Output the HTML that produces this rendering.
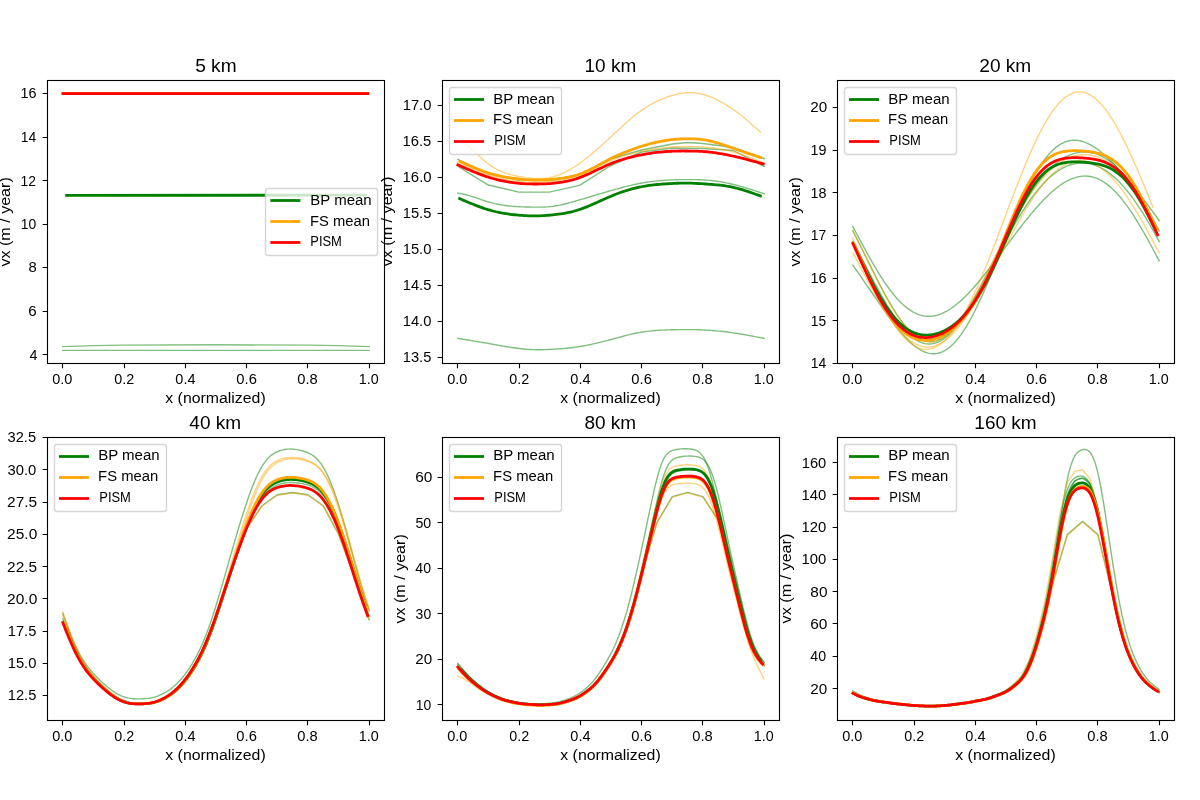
<!DOCTYPE html><html><head><meta charset="utf-8"><style>html,body{margin:0;padding:0;background:#fff;}svg{display:block;will-change:transform;}text{font-family:"Liberation Sans",sans-serif;fill:#000;}</style></head><body>
<svg width="1200" height="800" viewBox="0 0 1200 800">
<rect width="1200" height="800" fill="#fff"/>
<clipPath id="c0"><rect x="47.5" y="80.5" width="337" height="283"/></clipPath>
<g clip-path="url(#c0)" fill="none" stroke-linecap="square" stroke-linejoin="round">
<path d="M62.8 346.6 L93.5 345.6 L124 345.1 L216 344.8 L308 345.1 L338.5 345.6 L369.2 346.6" stroke="#008000" stroke-width="1.39" stroke-opacity="0.5"/>
<path d="M62.8 350.4 L369.2 350.4" stroke="#008000" stroke-width="1.39" stroke-opacity="0.5"/>
<path d="M66.6 195.3 L365.4 195.2" stroke="#008000" stroke-width="2.78"/>
<path d="M62.8 93.3 L368 93.3" stroke="#ffa500" stroke-width="2.78"/>
<path d="M63.1 93.7 L367.7 93.7" stroke="#ff0000" stroke-width="2.78"/>
</g>
<rect x="47.5" y="80.5" width="337" height="283" fill="none" stroke="#000" stroke-width="1.11" stroke-linejoin="miter"/>
<path d="M62.5 363.5 V368.36 M124.5 363.5 V368.36 M185.5 363.5 V368.36 M246.5 363.5 V368.36 M307.5 363.5 V368.36 M369.5 363.5 V368.36 M47.5 93.5 H42.64 M47.5 137.5 H42.64 M47.5 180.5 H42.64 M47.5 224.5 H42.64 M47.5 267.5 H42.64 M47.5 311.5 H42.64 M47.5 354.5 H42.64" stroke="#000" stroke-width="1.11"/>
<text font-size="13.89" x="52.28" y="383.73" textLength="20.19" lengthAdjust="spacingAndGlyphs">0.0</text>
<text font-size="13.89" x="114.38" y="383.72" textLength="19.96" lengthAdjust="spacingAndGlyphs">0.2</text>
<text font-size="13.89" x="175.36" y="383.71" textLength="20.18" lengthAdjust="spacingAndGlyphs">0.4</text>
<text font-size="13.89" x="236.33" y="383.71" textLength="20.51" lengthAdjust="spacingAndGlyphs">0.6</text>
<text font-size="13.89" x="297.3" y="383.7" textLength="20.45" lengthAdjust="spacingAndGlyphs">0.8</text>
<text font-size="13.89" x="358.78" y="383.72" textLength="19.89" lengthAdjust="spacingAndGlyphs">1.0</text>
<text font-size="13.89" x="29.43" y="360.06" textLength="7.98" lengthAdjust="spacingAndGlyphs">4</text>
<text font-size="13.89" x="28.24" y="316.02" textLength="8.39" lengthAdjust="spacingAndGlyphs">6</text>
<text font-size="13.89" x="28.41" y="272.02" textLength="8.26" lengthAdjust="spacingAndGlyphs">8</text>
<text font-size="13.89" x="20.84" y="229" textLength="15.45" lengthAdjust="spacingAndGlyphs">10</text>
<text font-size="13.89" x="20.62" y="185.5" textLength="15.46" lengthAdjust="spacingAndGlyphs">12</text>
<text font-size="13.89" x="20.84" y="142" textLength="15.48" lengthAdjust="spacingAndGlyphs">14</text>
<text font-size="13.89" x="20.52" y="98" textLength="15.98" lengthAdjust="spacingAndGlyphs">16</text>
<text font-size="13.89" x="165.28" y="402.76" textLength="100.45" lengthAdjust="spacingAndGlyphs">x (normalized)</text>
<text font-size="13.89" transform="translate(10.32,266.51) rotate(-90)" textLength="89.27" lengthAdjust="spacingAndGlyphs">vx (m / year)</text>
<text font-size="17.83" x="195.16" y="71.67" textLength="41.39" lengthAdjust="spacingAndGlyphs">5 km</text>
<rect x="265.5" y="188.5" width="112" height="67" rx="2.78" fill="#fff" fill-opacity="0.8" stroke="#ccc" stroke-opacity="0.8" stroke-width="1.39"/>
<path d="M271.76 200.5 H298.99" stroke="green" stroke-width="2.78" stroke-linecap="square"/>
<path d="M271.76 221.5 H298.99" stroke="orange" stroke-width="2.78" stroke-linecap="square"/>
<path d="M271.76 242.5 H298.99" stroke="red" stroke-width="2.78" stroke-linecap="square"/>
<text font-size="13.89" x="310.36" y="204.56" textLength="61.32" lengthAdjust="spacingAndGlyphs">BP mean</text>
<text font-size="13.89" x="310.08" y="225.5" textLength="59.93" lengthAdjust="spacingAndGlyphs">FS mean</text>
<text font-size="13.89" x="310.26" y="246.44" textLength="31.66" lengthAdjust="spacingAndGlyphs">PISM</text>
<clipPath id="c1"><rect x="442.5" y="80.5" width="337" height="283"/></clipPath>
<g clip-path="url(#c1)" fill="none" stroke-linecap="square" stroke-linejoin="round">
<path d="M457.8 338.4 L459.86 338.73 L461.91 339.06 L463.97 339.39 L466.03 339.72 L468.08 340.06 L470.14 340.39 L472.19 340.73 L474.25 341.07 L476.31 341.41 L478.36 341.75 L480.42 342.1 L482.48 342.45 L484.53 342.8 L486.59 343.16 L488.65 343.53 L490.7 343.89 L492.76 344.26 L494.81 344.63 L496.87 345 L498.93 345.37 L500.98 345.74 L503.04 346.09 L505.1 346.45 L507.15 346.79 L509.21 347.12 L511.27 347.44 L513.32 347.74 L515.38 348.03 L517.43 348.31 L519.49 348.56 L521.55 348.79 L523.6 349 L525.66 349.19 L527.72 349.35 L529.77 349.49 L531.83 349.59 L533.89 349.67 L535.94 349.72 L538 349.74 L540.06 349.73 L542.11 349.69 L544.17 349.64 L546.22 349.57 L548.28 349.48 L550.34 349.38 L552.39 349.28 L554.45 349.16 L556.51 349.03 L558.56 348.9 L560.62 348.74 L562.68 348.58 L564.73 348.4 L566.79 348.2 L568.84 347.99 L570.9 347.76 L572.96 347.51 L575.01 347.24 L577.07 346.95 L579.13 346.64 L581.18 346.3 L583.24 345.95 L585.3 345.57 L587.35 345.17 L589.41 344.75 L591.46 344.31 L593.52 343.86 L595.58 343.39 L597.63 342.91 L599.69 342.41 L601.75 341.9 L603.8 341.38 L605.86 340.85 L607.92 340.32 L609.97 339.77 L612.03 339.22 L614.08 338.67 L616.14 338.12 L618.2 337.56 L620.25 337.01 L622.31 336.47 L624.37 335.93 L626.42 335.41 L628.48 334.9 L630.54 334.41 L632.59 333.93 L634.65 333.48 L636.7 333.05 L638.76 332.65 L640.82 332.28 L642.87 331.94 L644.93 331.64 L646.99 331.36 L649.04 331.12 L651.1 330.9 L653.16 330.71 L655.21 330.54 L657.27 330.4 L659.32 330.27 L661.38 330.16 L663.44 330.07 L665.49 329.99 L667.55 329.92 L669.61 329.86 L671.66 329.81 L673.72 329.76 L675.78 329.72 L677.83 329.68 L679.89 329.65 L681.94 329.63 L684 329.61 L686.06 329.6 L688.11 329.6 L690.17 329.61 L692.23 329.62 L694.28 329.65 L696.34 329.68 L698.4 329.73 L700.45 329.8 L702.51 329.88 L704.57 329.97 L706.62 330.09 L708.68 330.21 L710.73 330.36 L712.79 330.52 L714.85 330.69 L716.9 330.88 L718.96 331.09 L721.02 331.31 L723.07 331.54 L725.13 331.79 L727.19 332.05 L729.24 332.32 L731.3 332.61 L733.35 332.9 L735.41 333.21 L737.47 333.54 L739.52 333.87 L741.58 334.21 L743.64 334.56 L745.69 334.92 L747.75 335.29 L749.81 335.67 L751.86 336.05 L753.92 336.43 L755.97 336.82 L758.03 337.21 L760.09 337.61 L762.14 338 L764.2 338.4" stroke="#008000" stroke-width="1.39" stroke-opacity="0.5"/>
<path d="M457.8 193.2 L459.86 193.53 L461.91 193.89 L463.97 194.3 L466.03 194.79 L468.08 195.33 L470.14 195.94 L472.19 196.58 L474.25 197.26 L476.31 197.96 L478.36 198.67 L480.42 199.39 L482.48 200.09 L484.53 200.77 L486.59 201.42 L488.65 202.03 L490.7 202.6 L492.76 203.12 L494.81 203.61 L496.87 204.05 L498.93 204.45 L500.98 204.82 L503.04 205.15 L505.1 205.44 L507.15 205.71 L509.21 205.95 L511.27 206.16 L513.32 206.34 L515.38 206.49 L517.43 206.63 L519.49 206.74 L521.55 206.83 L523.6 206.91 L525.66 206.97 L527.72 207.01 L529.77 207.05 L531.83 207.07 L533.89 207.09 L535.94 207.11 L538 207.11 L540.06 207.1 L542.11 207.07 L544.17 207.01 L546.22 206.92 L548.28 206.78 L550.34 206.59 L552.39 206.35 L554.45 206.06 L556.51 205.72 L558.56 205.34 L560.62 204.93 L562.68 204.48 L564.73 204 L566.79 203.49 L568.84 202.95 L570.9 202.4 L572.96 201.83 L575.01 201.24 L577.07 200.64 L579.13 200.04 L581.18 199.43 L583.24 198.82 L585.3 198.21 L587.35 197.6 L589.41 196.98 L591.46 196.37 L593.52 195.76 L595.58 195.14 L597.63 194.53 L599.69 193.92 L601.75 193.31 L603.8 192.71 L605.86 192.1 L607.92 191.5 L609.97 190.91 L612.03 190.32 L614.08 189.73 L616.14 189.15 L618.2 188.58 L620.25 188.02 L622.31 187.48 L624.37 186.94 L626.42 186.42 L628.48 185.91 L630.54 185.42 L632.59 184.94 L634.65 184.49 L636.7 184.05 L638.76 183.63 L640.82 183.24 L642.87 182.87 L644.93 182.53 L646.99 182.21 L649.04 181.91 L651.1 181.63 L653.16 181.38 L655.21 181.15 L657.27 180.93 L659.32 180.73 L661.38 180.56 L663.44 180.4 L665.49 180.26 L667.55 180.13 L669.61 180.02 L671.66 179.93 L673.72 179.85 L675.78 179.78 L677.83 179.72 L679.89 179.68 L681.94 179.65 L684 179.62 L686.06 179.61 L688.11 179.6 L690.17 179.6 L692.23 179.6 L694.28 179.62 L696.34 179.66 L698.4 179.71 L700.45 179.78 L702.51 179.88 L704.57 180 L706.62 180.15 L708.68 180.33 L710.73 180.53 L712.79 180.76 L714.85 181.01 L716.9 181.29 L718.96 181.6 L721.02 181.93 L723.07 182.29 L725.13 182.68 L727.19 183.09 L729.24 183.52 L731.3 183.98 L733.35 184.46 L735.41 184.97 L737.47 185.51 L739.52 186.06 L741.58 186.64 L743.64 187.23 L745.69 187.84 L747.75 188.46 L749.81 189.1 L751.86 189.75 L753.92 190.41 L755.97 191.08 L758.03 191.75 L760.09 192.43 L762.14 193.12 L764.2 193.8" stroke="#008000" stroke-width="1.39" stroke-opacity="0.5"/>
<path d="M457.8 166.3 L487.5 184.7 L518.7 192.1 L549.2 192.1 L579.6 185.4 L610 166 L641.6 152 L672.3 148 L702.9 148.5 L733.5 150.5 L764.2 166.5" stroke="#008000" stroke-width="1.39" stroke-opacity="0.5"/>
<path d="M457.8 159.5 L487.5 173.5 L518.7 180 L549.2 180.5 L579.6 174.5 L610 159 L641.6 150 L672.3 144 L687.6 142.5 L702.9 143.5 L733.5 147.5 L764.2 158.5" stroke="#008000" stroke-width="1.39" stroke-opacity="0.5"/>
<path d="M461 140 L463.01 141.67 L465.02 143.35 L467.04 145.05 L469.05 146.78 L471.06 148.54 L473.07 150.34 L475.08 152.18 L477.1 154.05 L479.11 155.92 L481.12 157.77 L483.13 159.57 L485.14 161.31 L487.16 162.96 L489.17 164.5 L491.18 165.92 L493.19 167.22 L495.21 168.41 L497.22 169.5 L499.23 170.5 L501.24 171.4 L503.25 172.22 L505.27 172.96 L507.28 173.63 L509.29 174.24 L511.3 174.8 L513.31 175.3 L515.33 175.76 L517.34 176.18 L519.35 176.57 L521.36 176.93 L523.37 177.26 L525.39 177.57 L527.4 177.84 L529.41 178.07 L531.42 178.26 L533.43 178.41 L535.45 178.52 L537.46 178.58 L539.47 178.58 L541.48 178.52 L543.5 178.4 L545.51 178.21 L547.52 177.94 L549.53 177.59 L551.54 177.16 L553.56 176.64 L555.57 176.03 L557.58 175.34 L559.59 174.58 L561.6 173.74 L563.62 172.82 L565.63 171.84 L567.64 170.79 L569.65 169.67 L571.66 168.49 L573.68 167.25 L575.69 165.96 L577.7 164.61 L579.71 163.2 L581.72 161.75 L583.74 160.26 L585.75 158.72 L587.76 157.14 L589.77 155.52 L591.79 153.86 L593.8 152.18 L595.81 150.46 L597.82 148.72 L599.83 146.95 L601.85 145.16 L603.86 143.35 L605.87 141.52 L607.88 139.68 L609.89 137.83 L611.91 135.97 L613.92 134.1 L615.93 132.24 L617.94 130.37 L619.95 128.51 L621.97 126.66 L623.98 124.82 L625.99 123.01 L628 121.23 L630.01 119.48 L632.03 117.76 L634.04 116.09 L636.05 114.47 L638.06 112.9 L640.08 111.39 L642.09 109.94 L644.1 108.56 L646.11 107.25 L648.12 106 L650.14 104.81 L652.15 103.69 L654.16 102.63 L656.17 101.62 L658.18 100.67 L660.2 99.77 L662.21 98.93 L664.22 98.13 L666.23 97.39 L668.24 96.69 L670.26 96.03 L672.27 95.42 L674.28 94.85 L676.29 94.33 L678.3 93.87 L680.32 93.47 L682.33 93.14 L684.34 92.88 L686.35 92.71 L688.37 92.63 L690.38 92.63 L692.39 92.72 L694.4 92.9 L696.41 93.15 L698.43 93.48 L700.44 93.88 L702.45 94.36 L704.46 94.9 L706.47 95.51 L708.49 96.19 L710.5 96.92 L712.51 97.73 L714.52 98.59 L716.53 99.52 L718.55 100.51 L720.56 101.55 L722.57 102.66 L724.58 103.82 L726.59 105.04 L728.61 106.32 L730.62 107.65 L732.63 109.03 L734.64 110.46 L736.66 111.95 L738.67 113.48 L740.68 115.06 L742.69 116.67 L744.7 118.32 L746.72 120 L748.73 121.71 L750.74 123.44 L752.75 125.19 L754.76 126.95 L756.78 128.73 L758.79 130.51 L760.8 132.3" stroke="#ffa500" stroke-width="1.39" stroke-opacity="0.5"/>
<path d="M457.8 163 L459.86 163.89 L461.91 164.78 L463.97 165.67 L466.03 166.55 L468.08 167.42 L470.14 168.28 L472.19 169.13 L474.25 169.97 L476.31 170.78 L478.36 171.58 L480.42 172.36 L482.48 173.11 L484.53 173.84 L486.59 174.54 L488.65 175.21 L490.7 175.85 L492.76 176.45 L494.81 177.03 L496.87 177.58 L498.93 178.09 L500.98 178.58 L503.04 179.03 L505.1 179.45 L507.15 179.84 L509.21 180.2 L511.27 180.53 L513.32 180.83 L515.38 181.1 L517.43 181.34 L519.49 181.55 L521.55 181.72 L523.6 181.87 L525.66 181.99 L527.72 182.08 L529.77 182.15 L531.83 182.19 L533.89 182.2 L535.94 182.19 L538 182.16 L540.06 182.11 L542.11 182.03 L544.17 181.92 L546.22 181.8 L548.28 181.65 L550.34 181.47 L552.39 181.27 L554.45 181.04 L556.51 180.78 L558.56 180.49 L560.62 180.17 L562.68 179.8 L564.73 179.4 L566.79 178.96 L568.84 178.48 L570.9 177.95 L572.96 177.37 L575.01 176.74 L577.07 176.06 L579.13 175.33 L581.18 174.54 L583.24 173.69 L585.3 172.8 L587.35 171.87 L589.41 170.91 L591.46 169.92 L593.52 168.91 L595.58 167.89 L597.63 166.86 L599.69 165.84 L601.75 164.83 L603.8 163.83 L605.86 162.86 L607.92 161.92 L609.97 161.01 L612.03 160.15 L614.08 159.33 L616.14 158.55 L618.2 157.81 L620.25 157.11 L622.31 156.44 L624.37 155.81 L626.42 155.2 L628.48 154.63 L630.54 154.08 L632.59 153.55 L634.65 153.05 L636.7 152.57 L638.76 152.11 L640.82 151.67 L642.87 151.24 L644.93 150.82 L646.99 150.42 L649.04 150.04 L651.1 149.67 L653.16 149.32 L655.21 148.98 L657.27 148.67 L659.32 148.38 L661.38 148.1 L663.44 147.85 L665.49 147.61 L667.55 147.4 L669.61 147.21 L671.66 147.05 L673.72 146.9 L675.78 146.79 L677.83 146.69 L679.89 146.61 L681.94 146.56 L684 146.52 L686.06 146.5 L688.11 146.5 L690.17 146.51 L692.23 146.54 L694.28 146.59 L696.34 146.66 L698.4 146.74 L700.45 146.85 L702.51 146.97 L704.57 147.12 L706.62 147.29 L708.68 147.49 L710.73 147.7 L712.79 147.95 L714.85 148.22 L716.9 148.51 L718.96 148.84 L721.02 149.19 L723.07 149.57 L725.13 149.99 L727.19 150.43 L729.24 150.91 L731.3 151.42 L733.35 151.96 L735.41 152.54 L737.47 153.15 L739.52 153.79 L741.58 154.46 L743.64 155.15 L745.69 155.87 L747.75 156.61 L749.81 157.37 L751.86 158.14 L753.92 158.93 L755.97 159.73 L758.03 160.54 L760.09 161.36 L762.14 162.18 L764.2 163" stroke="#ffa500" stroke-width="1.39" stroke-opacity="0.5"/>
<path d="M459.6 198.6 L461.62 199.48 L463.64 200.35 L465.66 201.22 L467.68 202.08 L469.69 202.93 L471.71 203.76 L473.73 204.58 L475.75 205.38 L477.77 206.15 L479.79 206.91 L481.81 207.63 L483.83 208.32 L485.84 208.98 L487.86 209.61 L489.88 210.2 L491.9 210.75 L493.92 211.26 L495.94 211.75 L497.96 212.19 L499.98 212.61 L501.99 213 L504.01 213.36 L506.03 213.69 L508.05 213.99 L510.07 214.27 L512.09 214.52 L514.11 214.75 L516.13 214.96 L518.14 215.15 L520.16 215.32 L522.18 215.47 L524.2 215.6 L526.22 215.71 L528.24 215.8 L530.26 215.86 L532.28 215.89 L534.3 215.9 L536.31 215.88 L538.33 215.84 L540.35 215.77 L542.37 215.67 L544.39 215.56 L546.41 215.42 L548.43 215.26 L550.45 215.09 L552.46 214.9 L554.48 214.69 L556.5 214.46 L558.52 214.2 L560.54 213.92 L562.56 213.6 L564.58 213.26 L566.6 212.88 L568.61 212.47 L570.63 212.02 L572.65 211.53 L574.67 210.99 L576.69 210.42 L578.71 209.79 L580.73 209.12 L582.75 208.4 L584.77 207.64 L586.78 206.84 L588.8 206 L590.82 205.15 L592.84 204.27 L594.86 203.37 L596.88 202.46 L598.9 201.54 L600.92 200.62 L602.93 199.71 L604.95 198.8 L606.97 197.91 L608.99 197.03 L611.01 196.18 L613.03 195.35 L615.05 194.55 L617.07 193.77 L619.08 193.03 L621.1 192.31 L623.12 191.62 L625.14 190.96 L627.16 190.33 L629.18 189.72 L631.2 189.15 L633.22 188.61 L635.23 188.1 L637.25 187.62 L639.27 187.17 L641.29 186.76 L643.31 186.38 L645.33 186.03 L647.35 185.71 L649.37 185.42 L651.39 185.16 L653.4 184.91 L655.42 184.7 L657.44 184.5 L659.46 184.32 L661.48 184.16 L663.5 184.01 L665.52 183.88 L667.54 183.75 L669.55 183.64 L671.57 183.54 L673.59 183.44 L675.61 183.34 L677.63 183.26 L679.65 183.19 L681.67 183.14 L683.69 183.1 L685.7 183.09 L687.72 183.1 L689.74 183.14 L691.76 183.2 L693.78 183.28 L695.8 183.38 L697.82 183.49 L699.84 183.61 L701.86 183.73 L703.87 183.86 L705.89 183.99 L707.91 184.13 L709.93 184.27 L711.95 184.42 L713.97 184.59 L715.99 184.77 L718.01 184.97 L720.02 185.19 L722.04 185.43 L724.06 185.7 L726.08 186 L728.1 186.33 L730.12 186.7 L732.14 187.1 L734.16 187.55 L736.17 188.03 L738.19 188.56 L740.21 189.11 L742.23 189.7 L744.25 190.32 L746.27 190.96 L748.29 191.63 L750.31 192.31 L752.32 193.01 L754.34 193.72 L756.36 194.44 L758.38 195.17 L760.4 195.9" stroke="#008000" stroke-width="2.78"/>
<path d="M459.9 161.3 L461.92 162.22 L463.94 163.14 L465.96 164.06 L467.98 164.96 L470 165.86 L472.02 166.74 L474.04 167.6 L476.06 168.44 L478.08 169.26 L480.09 170.06 L482.11 170.82 L484.13 171.55 L486.15 172.25 L488.17 172.92 L490.19 173.54 L492.21 174.13 L494.23 174.68 L496.25 175.19 L498.27 175.67 L500.29 176.13 L502.31 176.55 L504.33 176.94 L506.35 177.3 L508.37 177.64 L510.39 177.95 L512.41 178.24 L514.43 178.5 L516.44 178.75 L518.46 178.97 L520.48 179.18 L522.5 179.37 L524.52 179.54 L526.54 179.68 L528.56 179.8 L530.58 179.89 L532.6 179.96 L534.62 180 L536.64 180 L538.66 179.98 L540.68 179.93 L542.7 179.86 L544.72 179.76 L546.74 179.65 L548.76 179.53 L550.78 179.39 L552.8 179.24 L554.81 179.08 L556.83 178.89 L558.85 178.68 L560.87 178.43 L562.89 178.16 L564.91 177.85 L566.93 177.49 L568.95 177.09 L570.97 176.65 L572.99 176.15 L575.01 175.59 L577.03 174.98 L579.05 174.3 L581.07 173.55 L583.09 172.74 L585.11 171.87 L587.13 170.95 L589.15 169.98 L591.17 168.98 L593.18 167.94 L595.2 166.88 L597.22 165.81 L599.24 164.72 L601.26 163.62 L603.28 162.53 L605.3 161.45 L607.32 160.38 L609.34 159.34 L611.36 158.32 L613.38 157.33 L615.4 156.37 L617.42 155.44 L619.44 154.54 L621.46 153.67 L623.48 152.82 L625.5 152 L627.52 151.2 L629.53 150.43 L631.55 149.69 L633.57 148.96 L635.59 148.26 L637.61 147.58 L639.63 146.92 L641.65 146.28 L643.67 145.67 L645.69 145.07 L647.71 144.49 L649.73 143.94 L651.75 143.41 L653.77 142.91 L655.79 142.43 L657.81 141.98 L659.83 141.55 L661.85 141.16 L663.87 140.79 L665.89 140.45 L667.9 140.15 L669.92 139.88 L671.94 139.64 L673.96 139.43 L675.98 139.26 L678 139.12 L680.02 139.01 L682.04 138.92 L684.06 138.86 L686.08 138.82 L688.1 138.8 L690.12 138.79 L692.14 138.82 L694.16 138.87 L696.18 138.96 L698.2 139.09 L700.22 139.27 L702.24 139.51 L704.26 139.8 L706.27 140.16 L708.29 140.56 L710.31 141.02 L712.33 141.52 L714.35 142.07 L716.37 142.65 L718.39 143.26 L720.41 143.9 L722.43 144.56 L724.45 145.24 L726.47 145.93 L728.49 146.64 L730.51 147.35 L732.53 148.06 L734.55 148.77 L736.57 149.47 L738.59 150.16 L740.61 150.85 L742.62 151.54 L744.64 152.22 L746.66 152.9 L748.68 153.58 L750.7 154.25 L752.72 154.93 L754.74 155.6 L756.76 156.26 L758.78 156.93 L760.8 157.6" stroke="#ffa500" stroke-width="2.78"/>
<path d="M457.8 164.9 L459.85 165.81 L461.9 166.72 L463.95 167.62 L466 168.51 L468.05 169.4 L470.1 170.27 L472.15 171.14 L474.2 171.98 L476.25 172.8 L478.3 173.61 L480.35 174.39 L482.4 175.15 L484.45 175.88 L486.5 176.57 L488.56 177.24 L490.61 177.87 L492.66 178.47 L494.71 179.03 L496.76 179.57 L498.81 180.07 L500.86 180.54 L502.91 180.97 L504.96 181.38 L507.01 181.75 L509.06 182.09 L511.11 182.41 L513.16 182.69 L515.21 182.94 L517.26 183.16 L519.31 183.35 L521.36 183.52 L523.41 183.65 L525.46 183.77 L527.51 183.85 L529.56 183.92 L531.61 183.96 L533.66 183.99 L535.71 184 L537.76 184 L539.81 183.97 L541.86 183.93 L543.91 183.87 L545.96 183.78 L548.01 183.67 L550.07 183.54 L552.12 183.38 L554.17 183.19 L556.22 182.96 L558.27 182.71 L560.32 182.42 L562.37 182.09 L564.42 181.72 L566.47 181.31 L568.52 180.86 L570.57 180.37 L572.62 179.82 L574.67 179.23 L576.72 178.59 L578.77 177.9 L580.82 177.15 L582.87 176.35 L584.92 175.5 L586.97 174.62 L589.02 173.7 L591.07 172.76 L593.12 171.8 L595.17 170.83 L597.22 169.85 L599.27 168.87 L601.32 167.9 L603.37 166.94 L605.42 166 L607.47 165.08 L609.52 164.2 L611.58 163.36 L613.63 162.55 L615.68 161.78 L617.73 161.05 L619.78 160.36 L621.83 159.7 L623.88 159.07 L625.93 158.47 L627.98 157.9 L630.03 157.37 L632.08 156.85 L634.13 156.37 L636.18 155.91 L638.23 155.47 L640.28 155.06 L642.33 154.66 L644.38 154.29 L646.43 153.93 L648.48 153.6 L650.53 153.28 L652.58 152.99 L654.63 152.72 L656.68 152.46 L658.73 152.23 L660.78 152.02 L662.83 151.82 L664.88 151.65 L666.93 151.5 L668.98 151.37 L671.03 151.26 L673.09 151.17 L675.14 151.1 L677.19 151.05 L679.24 151.01 L681.29 150.99 L683.34 150.98 L685.39 150.99 L687.44 151 L689.49 151.02 L691.54 151.05 L693.59 151.09 L695.64 151.14 L697.69 151.22 L699.74 151.31 L701.79 151.43 L703.84 151.57 L705.89 151.74 L707.94 151.93 L709.99 152.15 L712.04 152.39 L714.09 152.66 L716.14 152.95 L718.19 153.26 L720.24 153.59 L722.29 153.94 L724.34 154.31 L726.39 154.71 L728.44 155.12 L730.49 155.54 L732.54 155.99 L734.6 156.45 L736.65 156.92 L738.7 157.41 L740.75 157.92 L742.8 158.43 L744.85 158.96 L746.9 159.49 L748.95 160.04 L751 160.59 L753.05 161.15 L755.1 161.71 L757.15 162.28 L759.2 162.85 L761.25 163.43 L763.3 164" stroke="#ff0000" stroke-width="2.78"/>
</g>
<rect x="442.5" y="80.5" width="337" height="283" fill="none" stroke="#000" stroke-width="1.11" stroke-linejoin="miter"/>
<path d="M457.5 363.5 V368.36 M519.5 363.5 V368.36 M580.5 363.5 V368.36 M641.5 363.5 V368.36 M702.5 363.5 V368.36 M764.5 363.5 V368.36 M442.5 105.5 H437.64 M442.5 141.5 H437.64 M442.5 177.5 H437.64 M442.5 213.5 H437.64 M442.5 249.5 H437.64 M442.5 285.5 H437.64 M442.5 321.5 H437.64 M442.5 357.5 H437.64" stroke="#000" stroke-width="1.11"/>
<text font-size="13.89" x="447.28" y="383.73" textLength="20.19" lengthAdjust="spacingAndGlyphs">0.0</text>
<text font-size="13.89" x="509.38" y="383.72" textLength="19.96" lengthAdjust="spacingAndGlyphs">0.2</text>
<text font-size="13.89" x="570.36" y="383.71" textLength="20.18" lengthAdjust="spacingAndGlyphs">0.4</text>
<text font-size="13.89" x="631.33" y="383.71" textLength="20.51" lengthAdjust="spacingAndGlyphs">0.6</text>
<text font-size="13.89" x="692.3" y="383.7" textLength="20.45" lengthAdjust="spacingAndGlyphs">0.8</text>
<text font-size="13.89" x="753.78" y="383.72" textLength="19.89" lengthAdjust="spacingAndGlyphs">1.0</text>
<text font-size="13.89" x="402.75" y="362" textLength="28.55" lengthAdjust="spacingAndGlyphs">13.5</text>
<text font-size="13.89" x="402.7" y="326" textLength="28.76" lengthAdjust="spacingAndGlyphs">14.0</text>
<text font-size="13.89" x="402.75" y="290" textLength="28.55" lengthAdjust="spacingAndGlyphs">14.5</text>
<text font-size="13.89" x="402.7" y="254" textLength="28.76" lengthAdjust="spacingAndGlyphs">15.0</text>
<text font-size="13.89" x="402.75" y="218" textLength="28.55" lengthAdjust="spacingAndGlyphs">15.5</text>
<text font-size="13.89" x="402.55" y="182" textLength="29.09" lengthAdjust="spacingAndGlyphs">16.0</text>
<text font-size="13.89" x="402.58" y="146" textLength="28.71" lengthAdjust="spacingAndGlyphs">16.5</text>
<text font-size="13.89" x="402.7" y="110" textLength="28.76" lengthAdjust="spacingAndGlyphs">17.0</text>
<text font-size="13.89" x="560.28" y="402.76" textLength="100.45" lengthAdjust="spacingAndGlyphs">x (normalized)</text>
<text font-size="13.89" transform="translate(392.35,266.38) rotate(-90)" textLength="89.75" lengthAdjust="spacingAndGlyphs">vx (m / year)</text>
<text font-size="17.83" x="584.53" y="71.67" textLength="51.7" lengthAdjust="spacingAndGlyphs">10 km</text>
<rect x="449.5" y="87.5" width="112" height="67" rx="2.78" fill="#fff" fill-opacity="0.8" stroke="#ccc" stroke-opacity="0.8" stroke-width="1.39"/>
<path d="M455.4 99.5 H482.63" stroke="green" stroke-width="2.78" stroke-linecap="square"/>
<path d="M455.4 120.5 H482.63" stroke="orange" stroke-width="2.78" stroke-linecap="square"/>
<path d="M455.4 141.5 H482.63" stroke="red" stroke-width="2.78" stroke-linecap="square"/>
<text font-size="13.89" x="493.15" y="103.5" textLength="61.57" lengthAdjust="spacingAndGlyphs">BP mean</text>
<text font-size="13.89" x="493.13" y="124.44" textLength="60.04" lengthAdjust="spacingAndGlyphs">FS mean</text>
<text font-size="13.89" x="494.25" y="145.39" textLength="31.64" lengthAdjust="spacingAndGlyphs">PISM</text>
<clipPath id="c2"><rect x="837.5" y="80.5" width="337" height="283"/></clipPath>
<g clip-path="url(#c2)" fill="none" stroke-linecap="square" stroke-linejoin="round">
<path d="M852.82 226.47 L854.36 229.37 L855.9 232.28 L857.44 235.18 L858.98 238.07 L860.52 240.96 L862.06 243.83 L863.59 246.68 L865.13 249.52 L866.67 252.33 L868.21 255.11 L869.75 257.86 L871.29 260.58 L872.83 263.27 L874.37 265.91 L875.91 268.51 L877.45 271.06 L878.99 273.57 L880.53 276.02 L882.07 278.42 L883.61 280.77 L885.15 283.05 L886.69 285.27 L888.23 287.43 L889.77 289.52 L891.31 291.55 L892.85 293.5 L894.39 295.38 L895.92 297.19 L897.46 298.92 L899 300.58 L900.54 302.16 L902.08 303.65 L903.62 305.07 L905.16 306.4 L906.7 307.66 L908.24 308.82 L909.78 309.91 L911.32 310.91 L912.86 311.82 L914.4 312.65 L915.94 313.4 L917.48 314.06 L919.02 314.63 L920.56 315.12 L922.1 315.52 L923.64 315.84 L925.18 316.08 L926.71 316.23 L928.25 316.31 L929.79 316.3 L931.33 316.2 L932.87 316.03 L934.41 315.78 L935.95 315.46 L937.49 315.05 L939.03 314.58 L940.57 314.03 L942.11 313.4 L943.65 312.71 L945.19 311.95 L946.73 311.12 L948.27 310.22 L949.81 309.26 L951.35 308.24 L952.89 307.16 L954.43 306.02 L955.97 304.82 L957.51 303.57 L959.04 302.26 L960.58 300.91 L962.12 299.5 L963.66 298.05 L965.2 296.55 L966.74 295 L968.28 293.42 L969.82 291.79 L971.36 290.12 L972.9 288.42 L974.44 286.69 L975.98 284.92 L977.52 283.12 L979.06 281.29 L980.6 279.44 L982.14 277.56 L983.68 275.65 L985.22 273.73 L986.76 271.78 L988.3 269.81 L989.84 267.83 L991.37 265.83 L992.91 263.82 L994.45 261.8 L995.99 259.76 L997.53 257.72 L999.07 255.67 L1000.61 253.61 L1002.15 251.55 L1003.69 249.49 L1005.23 247.42 L1006.77 245.36 L1008.31 243.3 L1009.85 241.24 L1011.39 239.18 L1012.93 237.14 L1014.47 235.1 L1016.01 233.06 L1017.55 231.04 L1019.09 229.04 L1020.63 227.04 L1022.16 225.06 L1023.7 223.1 L1025.24 221.15 L1026.78 219.23 L1028.32 217.32 L1029.86 215.44 L1031.4 213.58 L1032.94 211.75 L1034.48 209.94 L1036.02 208.17 L1037.56 206.42 L1039.1 204.71 L1040.64 203.02 L1042.18 201.38 L1043.72 199.77 L1045.26 198.2 L1046.8 196.67 L1048.34 195.18 L1049.88 193.73 L1051.42 192.33 L1052.96 190.97 L1054.49 189.67 L1056.03 188.41 L1057.57 187.2 L1059.11 186.05 L1060.65 184.95 L1062.19 183.91 L1063.73 182.92 L1065.27 182 L1066.81 181.14 L1068.35 180.33 L1069.89 179.6 L1071.43 178.93 L1072.97 178.32 L1074.51 177.79 L1076.05 177.32 L1077.59 176.92 L1079.13 176.6 L1080.67 176.35 L1082.21 176.18 L1083.75 176.08 L1085.29 176.05 L1086.82 176.11 L1088.36 176.24 L1089.9 176.46 L1091.44 176.75 L1092.98 177.12 L1094.52 177.58 L1096.06 178.11 L1097.6 178.73 L1099.14 179.43 L1100.68 180.21 L1102.22 181.08 L1103.76 182.03 L1105.3 183.06 L1106.84 184.17 L1108.38 185.36 L1109.92 186.63 L1111.46 187.98 L1113 189.42 L1114.54 190.93 L1116.08 192.52 L1117.61 194.18 L1119.15 195.92 L1120.69 197.74 L1122.23 199.62 L1123.77 201.58 L1125.31 203.6 L1126.85 205.69 L1128.39 207.85 L1129.93 210.07 L1131.47 212.35 L1133.01 214.69 L1134.55 217.09 L1136.09 219.54 L1137.63 222.04 L1139.17 224.59 L1140.71 227.18 L1142.25 229.82 L1143.79 232.5 L1145.33 235.21 L1146.87 237.96 L1148.41 240.74 L1149.94 243.54 L1151.48 246.37 L1153.02 249.22 L1154.56 252.09 L1156.1 254.97 L1157.64 257.87 L1159.18 260.77" stroke="#008000" stroke-width="1.39" stroke-opacity="0.5"/>
<path d="M852.82 265.12 L854.36 267.29 L855.9 269.48 L857.44 271.67 L858.98 273.88 L860.52 276.09 L862.06 278.32 L863.59 280.54 L865.13 282.78 L866.67 285.02 L868.21 287.26 L869.75 289.51 L871.29 291.75 L872.83 294 L874.37 296.24 L875.91 298.48 L877.45 300.71 L878.99 302.93 L880.53 305.14 L882.07 307.34 L883.61 309.53 L885.15 311.7 L886.69 313.84 L888.23 315.97 L889.77 318.07 L891.31 320.14 L892.85 322.18 L894.39 324.19 L895.92 326.16 L897.46 328.08 L899 329.97 L900.54 331.81 L902.08 333.6 L903.62 335.33 L905.16 337.01 L906.7 338.63 L908.24 340.19 L909.78 341.67 L911.32 343.09 L912.86 344.44 L914.4 345.7 L915.94 346.89 L917.48 347.99 L919.02 349.01 L920.56 349.93 L922.1 350.76 L923.64 351.5 L925.18 352.14 L926.71 352.67 L928.25 353.1 L929.79 353.43 L931.33 353.64 L932.87 353.74 L934.41 353.73 L935.95 353.61 L937.49 353.37 L939.03 353 L940.57 352.52 L942.11 351.92 L943.65 351.2 L945.19 350.35 L946.73 349.38 L948.27 348.29 L949.81 347.07 L951.35 345.73 L952.89 344.27 L954.43 342.69 L955.97 340.98 L957.51 339.16 L959.04 337.22 L960.58 335.16 L962.12 332.98 L963.66 330.7 L965.2 328.3 L966.74 325.8 L968.28 323.19 L969.82 320.48 L971.36 317.67 L972.9 314.76 L974.44 311.77 L975.98 308.68 L977.52 305.51 L979.06 302.27 L980.6 298.95 L982.14 295.55 L983.68 292.1 L985.22 288.58 L986.76 285 L988.3 281.38 L989.84 277.7 L991.37 273.99 L992.91 270.24 L994.45 266.47 L995.99 262.66 L997.53 258.84 L999.07 255.01 L1000.61 251.17 L1002.15 247.32 L1003.69 243.48 L1005.23 239.65 L1006.77 235.83 L1008.31 232.03 L1009.85 228.26 L1011.39 224.51 L1012.93 220.8 L1014.47 217.13 L1016.01 213.51 L1017.55 209.93 L1019.09 206.41 L1020.63 202.95 L1022.16 199.56 L1023.7 196.23 L1025.24 192.97 L1026.78 189.79 L1028.32 186.69 L1029.86 183.67 L1031.4 180.73 L1032.94 177.89 L1034.48 175.14 L1036.02 172.48 L1037.56 169.92 L1039.1 167.46 L1040.64 165.1 L1042.18 162.84 L1043.72 160.69 L1045.26 158.64 L1046.8 156.71 L1048.34 154.88 L1049.88 153.16 L1051.42 151.55 L1052.96 150.04 L1054.49 148.65 L1056.03 147.37 L1057.57 146.2 L1059.11 145.13 L1060.65 144.18 L1062.19 143.33 L1063.73 142.59 L1065.27 141.95 L1066.81 141.41 L1068.35 140.98 L1069.89 140.65 L1071.43 140.42 L1072.97 140.28 L1074.51 140.24 L1076.05 140.29 L1077.59 140.43 L1079.13 140.66 L1080.67 140.98 L1082.21 141.37 L1083.75 141.85 L1085.29 142.41 L1086.82 143.05 L1088.36 143.75 L1089.9 144.53 L1091.44 145.38 L1092.98 146.29 L1094.52 147.27 L1096.06 148.3 L1097.6 149.4 L1099.14 150.55 L1100.68 151.75 L1102.22 153.01 L1103.76 154.31 L1105.3 155.66 L1106.84 157.06 L1108.38 158.5 L1109.92 159.97 L1111.46 161.49 L1113 163.04 L1114.54 164.63 L1116.08 166.25 L1117.61 167.9 L1119.15 169.58 L1120.69 171.29 L1122.23 173.03 L1123.77 174.79 L1125.31 176.58 L1126.85 178.39 L1128.39 180.23 L1129.93 182.08 L1131.47 183.96 L1133.01 185.86 L1134.55 187.77 L1136.09 189.71 L1137.63 191.66 L1139.17 193.63 L1140.71 195.62 L1142.25 197.63 L1143.79 199.65 L1145.33 201.69 L1146.87 203.74 L1148.41 205.81 L1149.94 207.89 L1151.48 209.99 L1153.02 212.1 L1154.56 214.23 L1156.1 216.37 L1157.64 218.52 L1159.18 220.68" stroke="#008000" stroke-width="1.39" stroke-opacity="0.5"/>
<path d="M852.82 230.71 L854.36 233.72 L855.9 236.75 L857.44 239.81 L858.98 242.89 L860.52 245.99 L862.06 249.1 L863.59 252.21 L865.13 255.34 L866.67 258.46 L868.21 261.59 L869.75 264.71 L871.29 267.82 L872.83 270.91 L874.37 273.99 L875.91 277.05 L877.45 280.09 L878.99 283.09 L880.53 286.06 L882.07 288.99 L883.61 291.88 L885.15 294.73 L886.69 297.53 L888.23 300.27 L889.77 302.95 L891.31 305.57 L892.85 308.13 L894.39 310.62 L895.92 313.04 L897.46 315.37 L899 317.63 L900.54 319.81 L902.08 321.89 L903.62 323.89 L905.16 325.79 L906.7 327.6 L908.24 329.31 L909.78 330.92 L911.32 332.42 L912.86 333.81 L914.4 335.1 L915.94 336.27 L917.48 337.33 L919.02 338.28 L920.56 339.11 L922.1 339.83 L923.64 340.42 L925.18 340.9 L926.71 341.25 L928.25 341.49 L929.79 341.6 L931.33 341.59 L932.87 341.46 L934.41 341.21 L935.95 340.84 L937.49 340.35 L939.03 339.75 L940.57 339.02 L942.11 338.18 L943.65 337.22 L945.19 336.15 L946.73 334.96 L948.27 333.67 L949.81 332.27 L951.35 330.76 L952.89 329.15 L954.43 327.44 L955.97 325.64 L957.51 323.74 L959.04 321.74 L960.58 319.66 L962.12 317.5 L963.66 315.25 L965.2 312.92 L966.74 310.52 L968.28 308.05 L969.82 305.51 L971.36 302.91 L972.9 300.24 L974.44 297.53 L975.98 294.76 L977.52 291.94 L979.06 289.08 L980.6 286.18 L982.14 283.24 L983.68 280.27 L985.22 277.27 L986.76 274.25 L988.3 271.21 L989.84 268.15 L991.37 265.08 L992.91 262.01 L994.45 258.92 L995.99 255.84 L997.53 252.76 L999.07 249.69 L1000.61 246.62 L1002.15 243.57 L1003.69 240.53 L1005.23 237.52 L1006.77 234.52 L1008.31 231.55 L1009.85 228.62 L1011.39 225.71 L1012.93 222.83 L1014.47 219.99 L1016.01 217.19 L1017.55 214.44 L1019.09 211.72 L1020.63 209.05 L1022.16 206.43 L1023.7 203.86 L1025.24 201.34 L1026.78 198.87 L1028.32 196.45 L1029.86 194.09 L1031.4 191.79 L1032.94 189.55 L1034.48 187.36 L1036.02 185.24 L1037.56 183.18 L1039.1 181.18 L1040.64 179.24 L1042.18 177.37 L1043.72 175.56 L1045.26 173.81 L1046.8 172.13 L1048.34 170.52 L1049.88 168.97 L1051.42 167.49 L1052.96 166.08 L1054.49 164.73 L1056.03 163.45 L1057.57 162.24 L1059.11 161.09 L1060.65 160.01 L1062.19 159 L1063.73 158.06 L1065.27 157.18 L1066.81 156.37 L1068.35 155.63 L1069.89 154.96 L1071.43 154.35 L1072.97 153.81 L1074.51 153.34 L1076.05 152.94 L1077.59 152.61 L1079.13 152.34 L1080.67 152.14 L1082.21 152.01 L1083.75 151.94 L1085.29 151.95 L1086.82 152.02 L1088.36 152.16 L1089.9 152.37 L1091.44 152.64 L1092.98 152.99 L1094.52 153.4 L1096.06 153.88 L1097.6 154.44 L1099.14 155.06 L1100.68 155.75 L1102.22 156.51 L1103.76 157.34 L1105.3 158.23 L1106.84 159.2 L1108.38 160.24 L1109.92 161.35 L1111.46 162.53 L1113 163.77 L1114.54 165.09 L1116.08 166.48 L1117.61 167.94 L1119.15 169.46 L1120.69 171.06 L1122.23 172.72 L1123.77 174.45 L1125.31 176.25 L1126.85 178.12 L1128.39 180.06 L1129.93 182.06 L1131.47 184.12 L1133.01 186.25 L1134.55 188.45 L1136.09 190.7 L1137.63 193.02 L1139.17 195.39 L1140.71 197.83 L1142.25 200.32 L1143.79 202.86 L1145.33 205.46 L1146.87 208.11 L1148.41 210.81 L1149.94 213.56 L1151.48 216.35 L1153.02 219.19 L1154.56 222.07 L1156.1 224.98 L1157.64 227.93 L1159.18 230.91" stroke="#008000" stroke-width="1.39" stroke-opacity="0.5"/>
<path d="M852.82 241.51 L854.36 244.38 L855.9 247.27 L857.44 250.18 L858.98 253.1 L860.52 256.04 L862.06 258.99 L863.59 261.94 L865.13 264.9 L866.67 267.85 L868.21 270.8 L869.75 273.74 L871.29 276.67 L872.83 279.58 L874.37 282.48 L875.91 285.35 L877.45 288.19 L878.99 291.01 L880.53 293.79 L882.07 296.53 L883.61 299.22 L885.15 301.87 L886.69 304.48 L888.23 307.02 L889.77 309.51 L891.31 311.94 L892.85 314.31 L894.39 316.6 L895.92 318.83 L897.46 320.98 L899 323.05 L900.54 325.04 L902.08 326.94 L903.62 328.76 L905.16 330.48 L906.7 332.12 L908.24 333.65 L909.78 335.09 L911.32 336.43 L912.86 337.66 L914.4 338.79 L915.94 339.81 L917.48 340.72 L919.02 341.53 L920.56 342.22 L922.1 342.8 L923.64 343.26 L925.18 343.61 L926.71 343.85 L928.25 343.97 L929.79 343.97 L931.33 343.86 L932.87 343.64 L934.41 343.3 L935.95 342.84 L937.49 342.27 L939.03 341.59 L940.57 340.8 L942.11 339.9 L943.65 338.88 L945.19 337.76 L946.73 336.54 L948.27 335.21 L949.81 333.78 L951.35 332.25 L952.89 330.62 L954.43 328.9 L955.97 327.09 L957.51 325.19 L959.04 323.2 L960.58 321.13 L962.12 318.99 L963.66 316.76 L965.2 314.47 L966.74 312.1 L968.28 309.67 L969.82 307.18 L971.36 304.63 L972.9 302.02 L974.44 299.36 L975.98 296.66 L977.52 293.92 L979.06 291.13 L980.6 288.31 L982.14 285.46 L983.68 282.58 L985.22 279.68 L986.76 276.75 L988.3 273.81 L989.84 270.86 L991.37 267.9 L992.91 264.93 L994.45 261.97 L995.99 259 L997.53 256.04 L999.07 253.09 L1000.61 250.16 L1002.15 247.23 L1003.69 244.33 L1005.23 241.45 L1006.77 238.59 L1008.31 235.76 L1009.85 232.96 L1011.39 230.19 L1012.93 227.46 L1014.47 224.77 L1016.01 222.12 L1017.55 219.51 L1019.09 216.94 L1020.63 214.42 L1022.16 211.95 L1023.7 209.53 L1025.24 207.16 L1026.78 204.84 L1028.32 202.58 L1029.86 200.37 L1031.4 198.22 L1032.94 196.13 L1034.48 194.1 L1036.02 192.13 L1037.56 190.22 L1039.1 188.37 L1040.64 186.59 L1042.18 184.87 L1043.72 183.21 L1045.26 181.61 L1046.8 180.08 L1048.34 178.62 L1049.88 177.22 L1051.42 175.89 L1052.96 174.62 L1054.49 173.41 L1056.03 172.28 L1057.57 171.21 L1059.11 170.2 L1060.65 169.26 L1062.19 168.39 L1063.73 167.58 L1065.27 166.84 L1066.81 166.16 L1068.35 165.55 L1069.89 165 L1071.43 164.52 L1072.97 164.11 L1074.51 163.76 L1076.05 163.47 L1077.59 163.25 L1079.13 163.1 L1080.67 163.01 L1082.21 162.98 L1083.75 163.02 L1085.29 163.12 L1086.82 163.29 L1088.36 163.53 L1089.9 163.83 L1091.44 164.19 L1092.98 164.62 L1094.52 165.11 L1096.06 165.67 L1097.6 166.3 L1099.14 166.99 L1100.68 167.74 L1102.22 168.56 L1103.76 169.44 L1105.3 170.39 L1106.84 171.41 L1108.38 172.49 L1109.92 173.63 L1111.46 174.84 L1113 176.11 L1114.54 177.45 L1116.08 178.86 L1117.61 180.33 L1119.15 181.86 L1120.69 183.45 L1122.23 185.11 L1123.77 186.83 L1125.31 188.62 L1126.85 190.47 L1128.39 192.37 L1129.93 194.34 L1131.47 196.37 L1133.01 198.45 L1134.55 200.6 L1136.09 202.8 L1137.63 205.05 L1139.17 207.36 L1140.71 209.72 L1142.25 212.13 L1143.79 214.6 L1145.33 217.11 L1146.87 219.66 L1148.41 222.26 L1149.94 224.9 L1151.48 227.59 L1153.02 230.3 L1154.56 233.06 L1156.1 235.85 L1157.64 238.66 L1159.18 241.51" stroke="#008000" stroke-width="1.39" stroke-opacity="0.5"/>
<path d="M852.82 238.71 L854.33 242.4 L855.84 246.06 L857.34 249.72 L858.85 253.35 L860.36 256.95 L861.87 260.53 L863.38 264.07 L864.89 267.58 L866.4 271.06 L867.91 274.49 L869.41 277.88 L870.92 281.22 L872.43 284.51 L873.94 287.75 L875.45 290.94 L876.96 294.07 L878.47 297.13 L879.98 300.13 L881.48 303.06 L882.99 305.93 L884.5 308.72 L886.01 311.44 L887.52 314.08 L889.03 316.64 L890.54 319.12 L892.05 321.52 L893.55 323.83 L895.06 326.05 L896.57 328.18 L898.08 330.22 L899.59 332.17 L901.1 334.02 L902.61 335.77 L904.11 337.42 L905.62 338.97 L907.13 340.42 L908.64 341.76 L910.15 343 L911.66 344.13 L913.17 345.15 L914.68 346.07 L916.18 346.87 L917.69 347.56 L919.2 348.14 L920.71 348.61 L922.22 348.97 L923.73 349.21 L925.24 349.33 L926.75 349.34 L928.25 349.24 L929.76 349.02 L931.27 348.68 L932.78 348.23 L934.29 347.66 L935.8 346.98 L937.31 346.18 L938.82 345.27 L940.32 344.25 L941.83 343.11 L943.34 341.86 L944.85 340.5 L946.36 339.02 L947.87 337.44 L949.38 335.75 L950.89 333.95 L952.39 332.05 L953.9 330.04 L955.41 327.92 L956.92 325.71 L958.43 323.4 L959.94 320.99 L961.45 318.48 L962.96 315.88 L964.46 313.19 L965.97 310.41 L967.48 307.55 L968.99 304.6 L970.5 301.57 L972.01 298.45 L973.52 295.27 L975.02 292.01 L976.53 288.68 L978.04 285.28 L979.55 281.82 L981.06 278.3 L982.57 274.72 L984.08 271.09 L985.59 267.4 L987.09 263.67 L988.6 259.89 L990.11 256.08 L991.62 252.22 L993.13 248.34 L994.64 244.42 L996.15 240.48 L997.66 236.52 L999.16 232.54 L1000.67 228.54 L1002.18 224.54 L1003.69 220.53 L1005.2 216.52 L1006.71 212.51 L1008.22 208.5 L1009.73 204.51 L1011.23 200.53 L1012.74 196.57 L1014.25 192.63 L1015.76 188.72 L1017.27 184.83 L1018.78 180.98 L1020.29 177.17 L1021.8 173.4 L1023.3 169.67 L1024.81 165.99 L1026.32 162.37 L1027.83 158.8 L1029.34 155.3 L1030.85 151.85 L1032.36 148.48 L1033.87 145.17 L1035.37 141.94 L1036.88 138.78 L1038.39 135.71 L1039.9 132.72 L1041.41 129.82 L1042.92 127 L1044.43 124.28 L1045.94 121.65 L1047.44 119.12 L1048.95 116.69 L1050.46 114.36 L1051.97 112.14 L1053.48 110.02 L1054.99 108.01 L1056.5 106.11 L1058 104.33 L1059.51 102.66 L1061.02 101.1 L1062.53 99.67 L1064.04 98.35 L1065.55 97.15 L1067.06 96.07 L1068.57 95.11 L1070.07 94.27 L1071.58 93.56 L1073.09 92.97 L1074.6 92.5 L1076.11 92.16 L1077.62 91.94 L1079.13 91.85 L1080.64 91.87 L1082.14 92.03 L1083.65 92.3 L1085.16 92.7 L1086.67 93.22 L1088.18 93.86 L1089.69 94.62 L1091.2 95.49 L1092.71 96.49 L1094.21 97.6 L1095.72 98.83 L1097.23 100.17 L1098.74 101.62 L1100.25 103.18 L1101.76 104.85 L1103.27 106.63 L1104.78 108.51 L1106.28 110.49 L1107.79 112.57 L1109.3 114.75 L1110.81 117.03 L1112.32 119.39 L1113.83 121.85 L1115.34 124.39 L1116.85 127.02 L1118.35 129.73 L1119.86 132.52 L1121.37 135.39 L1122.88 138.32 L1124.39 141.33 L1125.9 144.4 L1127.41 147.54 L1128.91 150.74 L1130.42 153.99 L1131.93 157.3 L1133.44 160.66 L1134.95 164.07 L1136.46 167.52 L1137.97 171.01 L1139.48 174.54 L1140.98 178.1 L1142.49 181.69 L1144 185.31 L1145.51 188.95 L1147.02 192.61 L1148.53 196.29 L1150.04 199.98 L1151.55 203.68 L1153.05 207.39" stroke="#ffa500" stroke-width="1.39" stroke-opacity="0.5"/>
<path d="M852.82 252.6 L854.36 255.55 L855.9 258.49 L857.44 261.44 L858.98 264.38 L860.52 267.32 L862.06 270.25 L863.59 273.17 L865.13 276.07 L866.67 278.95 L868.21 281.81 L869.75 284.65 L871.29 287.46 L872.83 290.24 L874.37 292.99 L875.91 295.7 L877.45 298.36 L878.99 300.99 L880.53 303.57 L882.07 306.1 L883.61 308.58 L885.15 311 L886.69 313.37 L888.23 315.68 L889.77 317.92 L891.31 320.1 L892.85 322.2 L894.39 324.24 L895.92 326.2 L897.46 328.09 L899 329.9 L900.54 331.63 L902.08 333.27 L903.62 334.83 L905.16 336.3 L906.7 337.69 L908.24 338.98 L909.78 340.18 L911.32 341.29 L912.86 342.3 L914.4 343.22 L915.94 344.03 L917.48 344.75 L919.02 345.37 L920.56 345.89 L922.1 346.31 L923.64 346.62 L925.18 346.84 L926.71 346.95 L928.25 346.96 L929.79 346.86 L931.33 346.66 L932.87 346.36 L934.41 345.96 L935.95 345.46 L937.49 344.85 L939.03 344.15 L940.57 343.34 L942.11 342.44 L943.65 341.44 L945.19 340.34 L946.73 339.15 L948.27 337.87 L949.81 336.49 L951.35 335.03 L952.89 333.47 L954.43 331.83 L955.97 330.11 L957.51 328.3 L959.04 326.42 L960.58 324.45 L962.12 322.41 L963.66 320.3 L965.2 318.12 L966.74 315.87 L968.28 313.56 L969.82 311.18 L971.36 308.75 L972.9 306.26 L974.44 303.72 L975.98 301.12 L977.52 298.48 L979.06 295.8 L980.6 293.07 L982.14 290.31 L983.68 287.51 L985.22 284.68 L986.76 281.82 L988.3 278.94 L989.84 276.04 L991.37 273.11 L992.91 270.17 L994.45 267.22 L995.99 264.26 L997.53 261.29 L999.07 258.32 L1000.61 255.35 L1002.15 252.39 L1003.69 249.43 L1005.23 246.48 L1006.77 243.54 L1008.31 240.62 L1009.85 237.71 L1011.39 234.83 L1012.93 231.97 L1014.47 229.13 L1016.01 226.33 L1017.55 223.55 L1019.09 220.82 L1020.63 218.11 L1022.16 215.45 L1023.7 212.83 L1025.24 210.25 L1026.78 207.72 L1028.32 205.24 L1029.86 202.81 L1031.4 200.43 L1032.94 198.11 L1034.48 195.84 L1036.02 193.63 L1037.56 191.48 L1039.1 189.39 L1040.64 187.37 L1042.18 185.41 L1043.72 183.51 L1045.26 181.69 L1046.8 179.93 L1048.34 178.25 L1049.88 176.63 L1051.42 175.09 L1052.96 173.62 L1054.49 172.23 L1056.03 170.91 L1057.57 169.67 L1059.11 168.51 L1060.65 167.43 L1062.19 166.42 L1063.73 165.5 L1065.27 164.65 L1066.81 163.89 L1068.35 163.21 L1069.89 162.6 L1071.43 162.08 L1072.97 161.65 L1074.51 161.29 L1076.05 161.02 L1077.59 160.83 L1079.13 160.73 L1080.67 160.71 L1082.21 160.77 L1083.75 160.91 L1085.29 161.13 L1086.82 161.44 L1088.36 161.83 L1089.9 162.31 L1091.44 162.86 L1092.98 163.5 L1094.52 164.21 L1096.06 165.01 L1097.6 165.89 L1099.14 166.84 L1100.68 167.88 L1102.22 168.99 L1103.76 170.18 L1105.3 171.45 L1106.84 172.79 L1108.38 174.2 L1109.92 175.69 L1111.46 177.25 L1113 178.88 L1114.54 180.58 L1116.08 182.35 L1117.61 184.19 L1119.15 186.1 L1120.69 188.06 L1122.23 190.09 L1123.77 192.19 L1125.31 194.34 L1126.85 196.55 L1128.39 198.82 L1129.93 201.14 L1131.47 203.52 L1133.01 205.94 L1134.55 208.42 L1136.09 210.94 L1137.63 213.51 L1139.17 216.12 L1140.71 218.76 L1142.25 221.45 L1143.79 224.17 L1145.33 226.93 L1146.87 229.72 L1148.41 232.53 L1149.94 235.37 L1151.48 238.24 L1153.02 241.12 L1154.56 244.02 L1156.1 246.94 L1157.64 249.87 L1159.18 252.8" stroke="#ffa500" stroke-width="1.39" stroke-opacity="0.5"/>
<path d="M852.82 231.01 L854.36 233.98 L855.9 236.98 L857.44 240.01 L858.98 243.06 L860.52 246.13 L862.06 249.21 L863.59 252.31 L865.13 255.42 L866.67 258.53 L868.21 261.64 L869.75 264.75 L871.29 267.85 L872.83 270.95 L874.37 274.02 L875.91 277.08 L877.45 280.12 L878.99 283.12 L880.53 286.1 L882.07 289.04 L883.61 291.94 L885.15 294.8 L886.69 297.61 L888.23 300.36 L889.77 303.06 L891.31 305.7 L892.85 308.27 L894.39 310.78 L895.92 313.21 L897.46 315.56 L899 317.84 L900.54 320.03 L902.08 322.14 L903.62 324.15 L905.16 326.07 L906.7 327.9 L908.24 329.62 L909.78 331.24 L911.32 332.75 L912.86 334.16 L914.4 335.46 L915.94 336.64 L917.48 337.72 L919.02 338.67 L920.56 339.51 L922.1 340.23 L923.64 340.82 L925.18 341.3 L926.71 341.66 L928.25 341.89 L929.79 342 L931.33 341.98 L932.87 341.85 L934.41 341.59 L935.95 341.21 L937.49 340.71 L939.03 340.09 L940.57 339.34 L942.11 338.48 L943.65 337.51 L945.19 336.42 L946.73 335.21 L948.27 333.9 L949.81 332.48 L951.35 330.95 L952.89 329.32 L954.43 327.58 L955.97 325.75 L957.51 323.83 L959.04 321.81 L960.58 319.7 L962.12 317.51 L963.66 315.24 L965.2 312.89 L966.74 310.47 L968.28 307.97 L969.82 305.41 L971.36 302.79 L972.9 300.11 L974.44 297.37 L975.98 294.59 L977.52 291.75 L979.06 288.88 L980.6 285.97 L982.14 283.02 L983.68 280.05 L985.22 277.05 L986.76 274.03 L988.3 270.99 L989.84 267.93 L991.37 264.87 L992.91 261.8 L994.45 258.73 L995.99 255.67 L997.53 252.6 L999.07 249.55 L1000.61 246.51 L1002.15 243.49 L1003.69 240.48 L1005.23 237.5 L1006.77 234.54 L1008.31 231.62 L1009.85 228.72 L1011.39 225.86 L1012.93 223.03 L1014.47 220.24 L1016.01 217.5 L1017.55 214.79 L1019.09 212.14 L1020.63 209.53 L1022.16 206.97 L1023.7 204.46 L1025.24 202.01 L1026.78 199.61 L1028.32 197.26 L1029.86 194.97 L1031.4 192.75 L1032.94 190.58 L1034.48 188.47 L1036.02 186.42 L1037.56 184.43 L1039.1 182.5 L1040.64 180.64 L1042.18 178.84 L1043.72 177.11 L1045.26 175.44 L1046.8 173.83 L1048.34 172.29 L1049.88 170.81 L1051.42 169.4 L1052.96 168.05 L1054.49 166.77 L1056.03 165.55 L1057.57 164.4 L1059.11 163.31 L1060.65 162.29 L1062.19 161.33 L1063.73 160.44 L1065.27 159.61 L1066.81 158.84 L1068.35 158.14 L1069.89 157.5 L1071.43 156.93 L1072.97 156.42 L1074.51 155.97 L1076.05 155.59 L1077.59 155.28 L1079.13 155.02 L1080.67 154.83 L1082.21 154.7 L1083.75 154.64 L1085.29 154.64 L1086.82 154.71 L1088.36 154.83 L1089.9 155.03 L1091.44 155.29 L1092.98 155.61 L1094.52 155.99 L1096.06 156.45 L1097.6 156.96 L1099.14 157.55 L1100.68 158.2 L1102.22 158.91 L1103.76 159.69 L1105.3 160.54 L1106.84 161.46 L1108.38 162.44 L1109.92 163.49 L1111.46 164.61 L1113 165.79 L1114.54 167.04 L1116.08 168.37 L1117.61 169.75 L1119.15 171.21 L1120.69 172.74 L1122.23 174.33 L1123.77 175.99 L1125.31 177.72 L1126.85 179.51 L1128.39 181.37 L1129.93 183.3 L1131.47 185.29 L1133.01 187.35 L1134.55 189.47 L1136.09 191.65 L1137.63 193.9 L1139.17 196.21 L1140.71 198.57 L1142.25 201 L1143.79 203.48 L1145.33 206.02 L1146.87 208.61 L1148.41 211.25 L1149.94 213.94 L1151.48 216.68 L1153.02 219.47 L1154.56 222.3 L1156.1 225.16 L1157.64 228.07 L1159.18 231.01" stroke="#ffa500" stroke-width="1.39" stroke-opacity="0.5"/>
<path d="M856.65 250.02 L858.15 253.22 L859.65 256.42 L861.15 259.61 L862.65 262.78 L864.15 265.93 L865.65 269.05 L867.15 272.13 L868.66 275.18 L870.16 278.18 L871.66 281.14 L873.16 284.04 L874.66 286.89 L876.16 289.67 L877.66 292.39 L879.16 295.04 L880.66 297.62 L882.17 300.12 L883.67 302.55 L885.17 304.89 L886.67 307.15 L888.17 309.32 L889.67 311.41 L891.17 313.41 L892.67 315.32 L894.17 317.14 L895.67 318.87 L897.18 320.5 L898.68 322.05 L900.18 323.5 L901.68 324.86 L903.18 326.13 L904.68 327.31 L906.18 328.4 L907.68 329.4 L909.18 330.32 L910.68 331.15 L912.19 331.89 L913.69 332.55 L915.19 333.13 L916.69 333.63 L918.19 334.06 L919.69 334.41 L921.19 334.68 L922.69 334.88 L924.19 335.01 L925.7 335.07 L927.2 335.07 L928.7 335 L930.2 334.86 L931.7 334.66 L933.2 334.4 L934.7 334.08 L936.2 333.7 L937.7 333.26 L939.2 332.76 L940.71 332.2 L942.21 331.58 L943.71 330.9 L945.21 330.17 L946.71 329.37 L948.21 328.51 L949.71 327.59 L951.21 326.61 L952.71 325.56 L954.21 324.45 L955.72 323.26 L957.22 322.01 L958.72 320.69 L960.22 319.3 L961.72 317.83 L963.22 316.29 L964.72 314.66 L966.22 312.96 L967.72 311.18 L969.22 309.31 L970.73 307.36 L972.23 305.32 L973.73 303.2 L975.23 301 L976.73 298.7 L978.23 296.33 L979.73 293.86 L981.23 291.31 L982.73 288.68 L984.24 285.97 L985.74 283.18 L987.24 280.32 L988.74 277.38 L990.24 274.38 L991.74 271.31 L993.24 268.17 L994.74 264.99 L996.24 261.75 L997.74 258.48 L999.25 255.16 L1000.75 251.81 L1002.25 248.45 L1003.75 245.06 L1005.25 241.66 L1006.75 238.27 L1008.25 234.88 L1009.75 231.5 L1011.25 228.14 L1012.75 224.82 L1014.26 221.53 L1015.76 218.29 L1017.26 215.1 L1018.76 211.97 L1020.26 208.9 L1021.76 205.91 L1023.26 203 L1024.76 200.18 L1026.26 197.44 L1027.76 194.8 L1029.27 192.26 L1030.77 189.83 L1032.27 187.5 L1033.77 185.28 L1035.27 183.17 L1036.77 181.17 L1038.27 179.29 L1039.77 177.52 L1041.27 175.87 L1042.78 174.32 L1044.28 172.89 L1045.78 171.57 L1047.28 170.35 L1048.78 169.24 L1050.28 168.23 L1051.78 167.31 L1053.28 166.49 L1054.78 165.75 L1056.28 165.09 L1057.79 164.52 L1059.29 164.01 L1060.79 163.58 L1062.29 163.2 L1063.79 162.89 L1065.29 162.63 L1066.79 162.41 L1068.29 162.24 L1069.79 162.11 L1071.29 162.01 L1072.8 161.95 L1074.3 161.91 L1075.8 161.9 L1077.3 161.91 L1078.8 161.94 L1080.3 161.99 L1081.8 162.06 L1083.3 162.15 L1084.8 162.25 L1086.3 162.37 L1087.81 162.51 L1089.31 162.66 L1090.81 162.84 L1092.31 163.04 L1093.81 163.26 L1095.31 163.52 L1096.81 163.8 L1098.31 164.12 L1099.81 164.47 L1101.32 164.87 L1102.82 165.31 L1104.32 165.8 L1105.82 166.35 L1107.32 166.95 L1108.82 167.62 L1110.32 168.35 L1111.82 169.15 L1113.32 170.03 L1114.82 170.99 L1116.33 172.02 L1117.83 173.14 L1119.33 174.35 L1120.83 175.64 L1122.33 177.03 L1123.83 178.51 L1125.33 180.09 L1126.83 181.76 L1128.33 183.52 L1129.83 185.39 L1131.34 187.34 L1132.84 189.4 L1134.34 191.54 L1135.84 193.78 L1137.34 196.11 L1138.84 198.53 L1140.34 201.03 L1141.84 203.61 L1143.34 206.26 L1144.85 208.99 L1146.35 211.79 L1147.85 214.65 L1149.35 217.58 L1150.85 220.55 L1152.35 223.58 L1153.85 226.64 L1155.35 229.75" stroke="#008000" stroke-width="2.78"/>
<path d="M854.35 244.54 L855.87 248.08 L857.38 251.61 L858.9 255.14 L860.42 258.66 L861.93 262.16 L863.45 265.63 L864.96 269.06 L866.48 272.46 L868 275.82 L869.51 279.12 L871.03 282.37 L872.55 285.55 L874.06 288.68 L875.58 291.73 L877.1 294.7 L878.61 297.6 L880.13 300.42 L881.65 303.15 L883.16 305.79 L884.68 308.35 L886.19 310.8 L887.71 313.16 L889.23 315.43 L890.74 317.59 L892.26 319.66 L893.78 321.62 L895.29 323.48 L896.81 325.24 L898.33 326.9 L899.84 328.45 L901.36 329.9 L902.88 331.25 L904.39 332.5 L905.91 333.65 L907.42 334.7 L908.94 335.66 L910.46 336.52 L911.97 337.29 L913.49 337.97 L915.01 338.55 L916.52 339.05 L918.04 339.47 L919.56 339.8 L921.07 340.05 L922.59 340.22 L924.11 340.31 L925.62 340.33 L927.14 340.27 L928.65 340.14 L930.17 339.94 L931.69 339.67 L933.2 339.33 L934.72 338.93 L936.24 338.45 L937.75 337.92 L939.27 337.31 L940.79 336.64 L942.3 335.9 L943.82 335.1 L945.34 334.23 L946.85 333.3 L948.37 332.29 L949.88 331.21 L951.4 330.06 L952.92 328.84 L954.43 327.54 L955.95 326.17 L957.47 324.72 L958.98 323.18 L960.5 321.57 L962.02 319.87 L963.53 318.08 L965.05 316.2 L966.57 314.23 L968.08 312.17 L969.6 310.02 L971.11 307.77 L972.63 305.42 L974.15 302.98 L975.66 300.45 L977.18 297.82 L978.7 295.09 L980.21 292.27 L981.73 289.36 L983.25 286.35 L984.76 283.26 L986.28 280.09 L987.8 276.83 L989.31 273.5 L990.83 270.1 L992.34 266.63 L993.86 263.1 L995.38 259.52 L996.89 255.89 L998.41 252.21 L999.93 248.51 L1001.44 244.78 L1002.96 241.03 L1004.48 237.28 L1005.99 233.52 L1007.51 229.78 L1009.03 226.05 L1010.54 222.35 L1012.06 218.68 L1013.57 215.06 L1015.09 211.49 L1016.61 207.98 L1018.12 204.53 L1019.64 201.17 L1021.16 197.89 L1022.67 194.7 L1024.19 191.61 L1025.71 188.62 L1027.22 185.74 L1028.74 182.97 L1030.26 180.32 L1031.77 177.79 L1033.29 175.39 L1034.8 173.1 L1036.32 170.95 L1037.84 168.92 L1039.35 167.02 L1040.87 165.24 L1042.39 163.59 L1043.9 162.07 L1045.42 160.66 L1046.94 159.37 L1048.45 158.19 L1049.97 157.13 L1051.48 156.17 L1053 155.3 L1054.52 154.54 L1056.03 153.86 L1057.55 153.26 L1059.07 152.75 L1060.58 152.31 L1062.1 151.93 L1063.62 151.62 L1065.13 151.36 L1066.65 151.15 L1068.17 150.99 L1069.68 150.86 L1071.2 150.78 L1072.71 150.73 L1074.23 150.7 L1075.75 150.71 L1077.26 150.73 L1078.78 150.78 L1080.3 150.85 L1081.81 150.94 L1083.33 151.04 L1084.85 151.17 L1086.36 151.31 L1087.88 151.48 L1089.4 151.67 L1090.91 151.88 L1092.43 152.12 L1093.94 152.39 L1095.46 152.69 L1096.98 153.04 L1098.49 153.42 L1100.01 153.85 L1101.53 154.33 L1103.04 154.86 L1104.56 155.46 L1106.08 156.11 L1107.59 156.84 L1109.11 157.64 L1110.63 158.52 L1112.14 159.48 L1113.66 160.53 L1115.17 161.67 L1116.69 162.9 L1118.21 164.23 L1119.72 165.65 L1121.24 167.18 L1122.76 168.82 L1124.27 170.56 L1125.79 172.41 L1127.31 174.36 L1128.82 176.42 L1130.34 178.59 L1131.86 180.86 L1133.37 183.24 L1134.89 185.72 L1136.4 188.3 L1137.92 190.98 L1139.44 193.75 L1140.95 196.61 L1142.47 199.55 L1143.99 202.58 L1145.5 205.68 L1147.02 208.85 L1148.54 212.09 L1150.05 215.39 L1151.57 218.74 L1153.09 222.13 L1154.6 225.57 L1156.12 229.04" stroke="#ffa500" stroke-width="2.78"/>
<path d="M852.82 243.4 L854.35 246.78 L855.88 250.16 L857.41 253.54 L858.95 256.91 L860.48 260.28 L862.01 263.62 L863.54 266.93 L865.07 270.22 L866.6 273.47 L868.14 276.67 L869.67 279.83 L871.2 282.93 L872.73 285.97 L874.26 288.95 L875.8 291.86 L877.33 294.7 L878.86 297.46 L880.39 300.14 L881.92 302.74 L883.45 305.25 L884.99 307.68 L886.52 310.01 L888.05 312.25 L889.58 314.4 L891.11 316.45 L892.65 318.4 L894.18 320.26 L895.71 322.01 L897.24 323.67 L898.77 325.23 L900.3 326.69 L901.84 328.05 L903.37 329.31 L904.9 330.48 L906.43 331.55 L907.96 332.53 L909.5 333.41 L911.03 334.2 L912.56 334.9 L914.09 335.52 L915.62 336.05 L917.15 336.49 L918.69 336.86 L920.22 337.14 L921.75 337.35 L923.28 337.48 L924.81 337.53 L926.35 337.52 L927.88 337.43 L929.41 337.27 L930.94 337.05 L932.47 336.76 L934 336.4 L935.54 335.98 L937.07 335.49 L938.6 334.94 L940.13 334.33 L941.66 333.65 L943.2 332.91 L944.73 332.1 L946.26 331.23 L947.79 330.3 L949.32 329.29 L950.85 328.22 L952.39 327.08 L953.92 325.86 L955.45 324.57 L956.98 323.21 L958.51 321.77 L960.05 320.25 L961.58 318.64 L963.11 316.96 L964.64 315.19 L966.17 313.33 L967.7 311.38 L969.24 309.34 L970.77 307.22 L972.3 305 L973.83 302.68 L975.36 300.28 L976.9 297.78 L978.43 295.19 L979.96 292.51 L981.49 289.74 L983.02 286.88 L984.55 283.93 L986.09 280.91 L987.62 277.81 L989.15 274.63 L990.68 271.38 L992.21 268.07 L993.75 264.69 L995.28 261.27 L996.81 257.8 L998.34 254.29 L999.87 250.74 L1001.4 247.17 L1002.94 243.59 L1004.47 239.99 L1006 236.4 L1007.53 232.81 L1009.06 229.24 L1010.6 225.69 L1012.13 222.18 L1013.66 218.71 L1015.19 215.3 L1016.72 211.94 L1018.25 208.64 L1019.79 205.43 L1021.32 202.29 L1022.85 199.24 L1024.38 196.29 L1025.91 193.43 L1027.45 190.69 L1028.98 188.05 L1030.51 185.52 L1032.04 183.11 L1033.57 180.82 L1035.1 178.65 L1036.64 176.61 L1038.17 174.69 L1039.7 172.89 L1041.23 171.21 L1042.76 169.65 L1044.3 168.21 L1045.83 166.88 L1047.36 165.67 L1048.89 164.57 L1050.42 163.57 L1051.95 162.67 L1053.49 161.87 L1055.02 161.16 L1056.55 160.53 L1058.08 159.98 L1059.61 159.51 L1061.15 159.1 L1062.68 158.76 L1064.21 158.47 L1065.74 158.24 L1067.27 158.05 L1068.8 157.91 L1070.34 157.81 L1071.87 157.73 L1073.4 157.69 L1074.93 157.68 L1076.46 157.69 L1078 157.72 L1079.53 157.77 L1081.06 157.84 L1082.59 157.93 L1084.12 158.04 L1085.65 158.16 L1087.19 158.31 L1088.72 158.48 L1090.25 158.67 L1091.78 158.88 L1093.31 159.12 L1094.85 159.39 L1096.38 159.7 L1097.91 160.05 L1099.44 160.44 L1100.97 160.87 L1102.5 161.36 L1104.04 161.9 L1105.57 162.5 L1107.1 163.17 L1108.63 163.91 L1110.16 164.72 L1111.7 165.61 L1113.23 166.58 L1114.76 167.63 L1116.29 168.78 L1117.82 170.02 L1119.35 171.36 L1120.89 172.79 L1122.42 174.32 L1123.95 175.96 L1125.48 177.69 L1127.01 179.53 L1128.55 181.48 L1130.08 183.53 L1131.61 185.68 L1133.14 187.93 L1134.67 190.28 L1136.2 192.73 L1137.74 195.27 L1139.27 197.9 L1140.8 200.62 L1142.33 203.43 L1143.86 206.31 L1145.4 209.26 L1146.93 212.29 L1148.46 215.38 L1149.99 218.52 L1151.52 221.72 L1153.05 224.97 L1154.59 228.25 L1156.12 231.56 L1157.65 234.91" stroke="#ff0000" stroke-width="2.78"/>
</g>
<rect x="837.5" y="80.5" width="337" height="283" fill="none" stroke="#000" stroke-width="1.11" stroke-linejoin="miter"/>
<path d="M852.5 363.5 V368.36 M914.5 363.5 V368.36 M975.5 363.5 V368.36 M1036.5 363.5 V368.36 M1097.5 363.5 V368.36 M1159.5 363.5 V368.36 M837.5 107.5 H832.64 M837.5 150.5 H832.64 M837.5 192.5 H832.64 M837.5 235.5 H832.64 M837.5 278.5 H832.64 M837.5 320.5 H832.64 M837.5 363.5 H832.64" stroke="#000" stroke-width="1.11"/>
<text font-size="13.89" x="842.28" y="383.73" textLength="20.19" lengthAdjust="spacingAndGlyphs">0.0</text>
<text font-size="13.89" x="904.38" y="383.72" textLength="19.96" lengthAdjust="spacingAndGlyphs">0.2</text>
<text font-size="13.89" x="965.36" y="383.71" textLength="20.18" lengthAdjust="spacingAndGlyphs">0.4</text>
<text font-size="13.89" x="1026.33" y="383.71" textLength="20.51" lengthAdjust="spacingAndGlyphs">0.6</text>
<text font-size="13.89" x="1087.3" y="383.7" textLength="20.45" lengthAdjust="spacingAndGlyphs">0.8</text>
<text font-size="13.89" x="1148.78" y="383.72" textLength="19.89" lengthAdjust="spacingAndGlyphs">1.0</text>
<text font-size="13.89" x="810.84" y="368" textLength="15.48" lengthAdjust="spacingAndGlyphs">14</text>
<text font-size="13.89" x="810.76" y="325.83" textLength="15.36" lengthAdjust="spacingAndGlyphs">15</text>
<text font-size="13.89" x="810.52" y="283.17" textLength="15.98" lengthAdjust="spacingAndGlyphs">16</text>
<text font-size="13.89" x="810.75" y="240" textLength="15.4" lengthAdjust="spacingAndGlyphs">17</text>
<text font-size="13.89" x="810.52" y="197.83" textLength="15.97" lengthAdjust="spacingAndGlyphs">18</text>
<text font-size="13.89" x="810.52" y="155.17" textLength="15.98" lengthAdjust="spacingAndGlyphs">19</text>
<text font-size="13.89" x="810.28" y="112" textLength="16.93" lengthAdjust="spacingAndGlyphs">20</text>
<text font-size="13.89" x="955.28" y="402.76" textLength="100.45" lengthAdjust="spacingAndGlyphs">x (normalized)</text>
<text font-size="13.89" transform="translate(800.49,266.51) rotate(-90)" textLength="89.27" lengthAdjust="spacingAndGlyphs">vx (m / year)</text>
<text font-size="17.83" x="979.34" y="71.67" textLength="51.92" lengthAdjust="spacingAndGlyphs">20 km</text>
<rect x="844.5" y="87.5" width="112" height="67" rx="2.78" fill="#fff" fill-opacity="0.8" stroke="#ccc" stroke-opacity="0.8" stroke-width="1.39"/>
<path d="M850.4 99.5 H877.63" stroke="green" stroke-width="2.78" stroke-linecap="square"/>
<path d="M850.4 120.5 H877.63" stroke="orange" stroke-width="2.78" stroke-linecap="square"/>
<path d="M850.4 141.5 H877.63" stroke="red" stroke-width="2.78" stroke-linecap="square"/>
<text font-size="13.89" x="888.15" y="103.5" textLength="61.57" lengthAdjust="spacingAndGlyphs">BP mean</text>
<text font-size="13.89" x="888.13" y="124.44" textLength="60.04" lengthAdjust="spacingAndGlyphs">FS mean</text>
<text font-size="13.89" x="889.25" y="145.39" textLength="31.64" lengthAdjust="spacingAndGlyphs">PISM</text>
<clipPath id="c3"><rect x="47.5" y="437.5" width="337" height="283"/></clipPath>
<g clip-path="url(#c3)" fill="none" stroke-linecap="square" stroke-linejoin="round">
<path d="M62.82 613.35 L64.36 617.75 L65.9 622.03 L67.44 626.19 L68.98 630.22 L70.52 634.13 L72.06 637.89 L73.59 641.5 L75.13 644.95 L76.67 648.23 L78.21 651.33 L79.75 654.26 L81.29 657.01 L82.83 659.59 L84.37 662.01 L85.91 664.27 L87.45 666.4 L88.99 668.4 L90.53 670.29 L92.07 672.08 L93.61 673.8 L95.15 675.45 L96.69 677.05 L98.23 678.59 L99.77 680.1 L101.31 681.56 L102.85 682.98 L104.39 684.36 L105.92 685.7 L107.46 686.99 L109 688.23 L110.54 689.42 L112.08 690.55 L113.62 691.61 L115.16 692.61 L116.7 693.54 L118.24 694.39 L119.78 695.16 L121.32 695.85 L122.86 696.46 L124.4 696.99 L125.94 697.45 L127.48 697.83 L129.02 698.14 L130.56 698.38 L132.1 698.57 L133.64 698.71 L135.18 698.8 L136.71 698.86 L138.25 698.88 L139.79 698.88 L141.33 698.84 L142.87 698.78 L144.41 698.69 L145.95 698.57 L147.49 698.41 L149.03 698.2 L150.57 697.95 L152.11 697.64 L153.65 697.27 L155.19 696.84 L156.73 696.35 L158.27 695.79 L159.81 695.17 L161.35 694.48 L162.89 693.73 L164.43 692.91 L165.97 692.02 L167.51 691.07 L169.04 690.05 L170.58 688.95 L172.12 687.78 L173.66 686.53 L175.2 685.18 L176.74 683.75 L178.28 682.21 L179.82 680.58 L181.36 678.85 L182.9 677.01 L184.44 675.07 L185.98 673.02 L187.52 670.87 L189.06 668.61 L190.6 666.24 L192.14 663.77 L193.68 661.17 L195.22 658.44 L196.76 655.58 L198.3 652.58 L199.84 649.42 L201.37 646.1 L202.91 642.6 L204.45 638.92 L205.99 635.06 L207.53 631.01 L209.07 626.78 L210.61 622.38 L212.15 617.8 L213.69 613.07 L215.23 608.2 L216.77 603.21 L218.31 598.11 L219.85 592.92 L221.39 587.66 L222.93 582.34 L224.47 576.98 L226.01 571.6 L227.55 566.21 L229.09 560.81 L230.63 555.43 L232.16 550.07 L233.7 544.73 L235.24 539.45 L236.78 534.21 L238.32 529.04 L239.86 523.94 L241.4 518.92 L242.94 514.01 L244.48 509.2 L246.02 504.51 L247.56 499.96 L249.1 495.56 L250.64 491.32 L252.18 487.26 L253.72 483.39 L255.26 479.73 L256.8 476.28 L258.34 473.06 L259.88 470.08 L261.42 467.33 L262.96 464.84 L264.49 462.58 L266.03 460.56 L267.57 458.76 L269.11 457.18 L270.65 455.8 L272.19 454.59 L273.73 453.55 L275.27 452.65 L276.81 451.88 L278.35 451.23 L279.89 450.67 L281.43 450.2 L282.97 449.81 L284.51 449.5 L286.05 449.27 L287.59 449.15 L289.13 449.08 L290.67 449.06 L292.21 449.1 L293.75 449.19 L295.29 449.33 L296.82 449.57 L298.36 449.85 L299.9 450.19 L301.44 450.57 L302.98 450.99 L304.52 451.47 L306.06 452 L307.6 452.61 L309.14 453.3 L310.68 454.1 L312.22 455.02 L313.76 456.09 L315.3 457.33 L316.84 458.77 L318.38 460.42 L319.92 462.31 L321.46 464.43 L323 466.81 L324.54 469.44 L326.08 472.33 L327.61 475.48 L329.15 478.88 L330.69 482.53 L332.23 486.42 L333.77 490.54 L335.31 494.89 L336.85 499.46 L338.39 504.24 L339.93 509.21 L341.47 514.36 L343.01 519.66 L344.55 525.11 L346.09 530.67 L347.63 536.31 L349.17 542.01 L350.71 547.73 L352.25 553.44 L353.79 559.11 L355.33 564.72 L356.87 570.24 L358.41 575.66 L359.94 580.96 L361.48 586.13 L363.02 591.17 L364.56 596.08 L366.1 600.86 L367.64 605.51 L369.18 610.05" stroke="#008000" stroke-width="1.39" stroke-opacity="0.5"/>
<path d="M62.82 615.27 L64.36 619.71 L65.9 624.04 L67.44 628.26 L68.98 632.36 L70.52 636.33 L72.06 640.17 L73.59 643.87 L75.13 647.42 L76.67 650.82 L78.21 654.04 L79.75 657.09 L81.29 659.97 L82.83 662.67 L84.37 665.2 L85.91 667.57 L87.45 669.8 L88.99 671.88 L90.53 673.85 L92.07 675.71 L93.61 677.49 L95.15 679.18 L96.69 680.82 L98.23 682.4 L99.77 683.93 L101.31 685.42 L102.85 686.87 L104.39 688.28 L105.92 689.65 L107.46 690.98 L109 692.26 L110.54 693.49 L112.08 694.66 L113.62 695.78 L115.16 696.83 L116.7 697.81 L118.24 698.72 L119.78 699.55 L121.32 700.31 L122.86 700.98 L124.4 701.58 L125.94 702.09 L127.48 702.53 L129.02 702.9 L130.56 703.19 L132.1 703.43 L133.64 703.6 L135.18 703.73 L136.71 703.82 L138.25 703.87 L139.79 703.89 L141.33 703.87 L142.87 703.83 L144.41 703.77 L145.95 703.67 L147.49 703.54 L149.03 703.37 L150.57 703.15 L152.11 702.89 L153.65 702.57 L155.19 702.19 L156.73 701.75 L158.27 701.24 L159.81 700.67 L161.35 700.03 L162.89 699.33 L164.43 698.57 L165.97 697.73 L167.51 696.84 L169.04 695.87 L170.58 694.84 L172.12 693.73 L173.66 692.54 L175.2 691.27 L176.74 689.91 L178.28 688.46 L179.82 686.91 L181.36 685.26 L182.9 683.51 L184.44 681.65 L185.98 679.7 L187.52 677.64 L189.06 675.47 L190.6 673.2 L192.14 670.82 L193.68 668.33 L195.22 665.72 L196.76 662.98 L198.3 660.11 L199.84 657.09 L201.37 653.92 L202.91 650.59 L204.45 647.08 L205.99 643.39 L207.53 639.52 L209.07 635.47 L210.61 631.24 L212.15 626.84 L213.69 622.28 L215.23 617.57 L216.77 612.73 L218.31 607.77 L219.85 602.71 L221.39 597.57 L222.93 592.36 L224.47 587.11 L226.01 581.82 L227.55 576.51 L229.09 571.19 L230.63 565.88 L232.16 560.59 L233.7 555.32 L235.24 550.09 L236.78 544.9 L238.32 539.77 L239.86 534.7 L241.4 529.72 L242.94 524.82 L244.48 520.01 L246.02 515.32 L247.56 510.76 L249.1 506.33 L250.64 502.05 L252.18 497.94 L253.72 494 L255.26 490.26 L256.8 486.71 L258.34 483.39 L259.88 480.29 L261.42 477.42 L262.96 474.79 L264.49 472.4 L266.03 470.24 L267.57 468.31 L269.11 466.6 L270.65 465.1 L272.19 463.79 L273.73 462.64 L275.27 461.66 L276.81 460.81 L278.35 460.08 L279.89 459.46 L281.43 458.93 L282.97 458.49 L284.51 458.13 L286.05 457.84 L287.59 457.64 L289.13 457.53 L290.67 457.47 L292.21 457.47 L293.75 457.52 L295.29 457.61 L296.82 457.78 L298.36 458.01 L299.9 458.3 L301.44 458.64 L302.98 459.02 L304.52 459.44 L306.06 459.92 L307.6 460.45 L309.14 461.06 L310.68 461.75 L312.22 462.55 L313.76 463.48 L315.3 464.56 L316.84 465.81 L318.38 467.26 L319.92 468.91 L321.46 470.8 L323 472.92 L324.54 475.3 L326.08 477.92 L327.61 480.8 L329.15 483.92 L330.69 487.3 L332.23 490.92 L333.77 494.77 L335.31 498.85 L336.85 503.16 L338.39 507.67 L339.93 512.39 L341.47 517.3 L343.01 522.38 L344.55 527.61 L346.09 532.98 L347.63 538.46 L349.17 544.01 L350.71 549.62 L352.25 555.24 L353.79 560.85 L355.33 566.42 L356.87 571.93 L358.41 577.35 L359.94 582.67 L361.48 587.87 L363.02 592.94 L364.56 597.89 L366.1 602.71 L367.64 607.41 L369.18 611.99" stroke="#ffa500" stroke-width="1.39" stroke-opacity="0.5"/>
<path d="M62.82 611.85 L64.36 616.37 L65.9 620.78 L67.44 625.07 L68.98 629.24 L70.52 633.3 L72.06 637.24 L73.59 641.04 L75.13 644.7 L76.67 648.21 L78.21 651.56 L79.75 654.74 L81.29 657.74 L82.83 660.58 L84.37 663.24 L85.91 665.73 L87.45 668.07 L88.99 670.26 L90.53 672.32 L92.07 674.26 L93.61 676.1 L95.15 677.86 L96.69 679.54 L98.23 681.16 L99.77 682.72 L101.31 684.25 L102.85 685.73 L104.39 687.17 L105.92 688.57 L107.46 689.93 L109 691.25 L110.54 692.52 L112.08 693.73 L113.62 694.9 L115.16 696 L116.7 697.03 L118.24 698 L119.78 698.89 L121.32 699.71 L122.86 700.45 L124.4 701.11 L125.94 701.69 L127.48 702.19 L129.02 702.61 L130.56 702.96 L132.1 703.25 L133.64 703.47 L135.18 703.63 L136.71 703.75 L138.25 703.83 L139.79 703.87 L141.33 703.88 L142.87 703.87 L144.41 703.82 L145.95 703.75 L147.49 703.65 L149.03 703.51 L150.57 703.33 L152.11 703.1 L153.65 702.83 L155.19 702.49 L156.73 702.1 L158.27 701.65 L159.81 701.13 L161.35 700.55 L162.89 699.9 L164.43 699.18 L165.97 698.4 L167.51 697.56 L169.04 696.65 L170.58 695.67 L172.12 694.62 L173.66 693.49 L175.2 692.29 L176.74 691 L178.28 689.63 L179.82 688.15 L181.36 686.59 L182.9 684.92 L184.44 683.15 L185.98 681.28 L187.52 679.3 L189.06 677.22 L190.6 675.04 L192.14 672.75 L193.68 670.35 L195.22 667.84 L196.76 665.21 L198.3 662.45 L199.84 659.56 L201.37 656.52 L202.91 653.32 L204.45 649.96 L205.99 646.42 L207.53 642.71 L209.07 638.82 L210.61 634.74 L212.15 630.49 L213.69 626.08 L215.23 621.5 L216.77 616.78 L218.31 611.93 L219.85 606.97 L221.39 601.92 L222.93 596.79 L224.47 591.6 L226.01 586.36 L227.55 581.1 L229.09 575.82 L230.63 570.53 L232.16 565.26 L233.7 560 L235.24 554.77 L236.78 549.58 L238.32 544.44 L239.86 539.36 L241.4 534.34 L242.94 529.41 L244.48 524.56 L246.02 519.82 L247.56 515.19 L249.1 510.69 L250.64 506.32 L252.18 502.11 L253.72 498.07 L255.26 494.2 L256.8 490.53 L258.34 487.06 L259.88 483.81 L261.42 480.78 L262.96 477.99 L264.49 475.43 L266.03 473.11 L267.57 471.02 L269.11 469.15 L270.65 467.5 L272.19 466.05 L273.73 464.78 L275.27 463.69 L276.81 462.74 L278.35 461.92 L279.89 461.23 L281.43 460.63 L282.97 460.13 L284.51 459.71 L286.05 459.36 L287.59 459.09 L289.13 458.92 L290.67 458.81 L292.21 458.77 L293.75 458.77 L295.29 458.83 L296.82 458.94 L298.36 459.12 L299.9 459.37 L301.44 459.66 L302.98 460 L304.52 460.39 L306.06 460.82 L307.6 461.3 L309.14 461.84 L310.68 462.46 L312.22 463.17 L313.76 463.98 L315.3 464.93 L316.84 466.03 L318.38 467.31 L319.92 468.78 L321.46 470.47 L323 472.39 L324.54 474.54 L326.08 476.94 L327.61 479.59 L329.15 482.5 L330.69 485.65 L332.23 489.04 L333.77 492.68 L335.31 496.54 L336.85 500.64 L338.39 504.95 L339.93 509.47 L341.47 514.19 L343.01 519.1 L344.55 524.17 L346.09 529.4 L347.63 534.75 L349.17 540.2 L350.71 545.73 L352.25 551.31 L353.79 556.89 L355.33 562.46 L356.87 567.99 L358.41 573.45 L359.94 578.82 L361.48 584.08 L363.02 589.23 L364.56 594.25 L366.1 599.15 L367.64 603.93 L369.18 608.58" stroke="#ffa500" stroke-width="1.39" stroke-opacity="0.5"/>
<path d="M62.82 618.98 L64.36 623.07 L65.9 627.08 L67.44 630.99 L68.98 634.81 L70.52 638.52 L72.06 642.13 L73.59 645.61 L75.13 648.97 L76.67 652.18 L78.21 655.25 L79.75 658.16 L81.29 660.91 L82.83 663.5 L84.37 665.93 L85.91 668.22 L87.45 670.36 L88.99 672.38 L90.53 674.29 L92.07 676.1 L93.61 677.83 L95.15 679.48 L96.69 681.08 L98.23 682.62 L99.77 684.12 L101.31 685.58 L102.85 687.01 L104.39 688.4 L105.92 689.75 L107.46 691.06 L109 692.32 L110.54 693.54 L112.08 694.7 L113.62 695.8 L115.16 696.85 L116.7 697.82 L118.24 698.73 L119.78 699.56 L121.32 700.31 L122.86 700.98 L124.4 701.58 L125.94 702.09 L127.48 702.53 L129.02 702.9 L130.56 703.19 L132.1 703.43 L133.64 703.6 L135.18 703.73 L136.71 703.82 L138.25 703.87 L139.79 703.89 L141.33 703.87 L142.87 703.83 L144.41 703.77 L145.95 703.67 L147.49 703.54 L149.03 703.37 L150.57 703.15 L152.11 702.89 L153.65 702.57 L155.19 702.19 L156.73 701.75 L158.27 701.24 L159.81 700.67 L161.35 700.04 L162.89 699.34 L164.43 698.58 L165.97 697.75 L167.51 696.86 L169.04 695.9 L170.58 694.87 L172.12 693.77 L173.66 692.6 L175.2 691.34 L176.74 690 L178.28 688.57 L179.82 687.05 L181.36 685.43 L182.9 683.71 L184.44 681.89 L185.98 679.98 L187.52 677.97 L189.06 675.86 L190.6 673.66 L192.14 671.35 L193.68 668.95 L195.22 666.43 L196.76 663.8 L198.3 661.04 L199.84 658.16 L201.37 655.14 L202.91 651.96 L204.45 648.64 L205.99 645.16 L207.53 641.52 L209.07 637.72 L210.61 633.77 L212.15 629.67 L213.69 625.45 L215.23 621.1 L216.77 616.64 L218.31 612.1 L219.85 607.49 L221.39 602.82 L222.93 598.12 L224.47 593.39 L226.01 588.65 L227.55 583.92 L229.09 579.19 L230.63 574.5 L232.16 569.83 L233.7 565.21 L235.24 560.64 L236.78 556.12 L238.32 551.68 L239.86 547.3 L241.4 543.01 L242.94 538.81 L244.48 534.71 L246.02 530.71 L247.56 526.84 L249.1 523.09 L250.64 519.48 L252.18 516.03 L253.72 512.72 L255.26 509.59 L256.8 506.64 L258.34 503.87 L259.88 501.3 L261.42 498.92 L262.96 496.75 L264.49 494.77 L266.03 492.99 L267.57 491.4 L269.11 490 L270.65 488.76 L272.19 487.68 L273.73 486.75 L275.27 485.94 L276.81 485.24 L278.35 484.65 L279.89 484.14 L281.43 483.71 L282.97 483.35 L284.51 483.05 L286.05 482.82 L287.59 482.64 L289.13 482.53 L290.67 482.47 L292.21 482.47 L293.75 482.52 L295.29 482.61 L296.82 482.76 L298.36 482.96 L299.9 483.19 L301.44 483.47 L302.98 483.78 L304.52 484.12 L306.06 484.51 L307.6 484.95 L309.14 485.45 L310.68 486.02 L312.22 486.67 L313.76 487.43 L315.3 488.32 L316.84 489.35 L318.38 490.53 L319.92 491.9 L321.46 493.45 L323 495.2 L324.54 497.16 L326.08 499.33 L327.61 501.72 L329.15 504.32 L330.69 507.13 L332.23 510.14 L333.77 513.37 L335.31 516.79 L336.85 520.41 L338.39 524.23 L339.93 528.22 L341.47 532.39 L343.01 536.72 L344.55 541.2 L346.09 545.82 L347.63 550.54 L349.17 555.35 L350.71 560.23 L352.25 565.14 L353.79 570.06 L355.33 574.97 L356.87 579.85 L358.41 584.67 L359.94 589.41 L361.48 594.07 L363.02 598.64 L364.56 603.12 L366.1 607.5 L367.64 611.78 L369.18 615.97" stroke="#008000" stroke-width="1.39" stroke-opacity="0.5"/>
<path d="M62.82 622.66 L78.14 657.56 L93.45 679.02 L108.77 693.12 L124.09 701.9 L139.41 703.88 L154.73 701.98 L170.05 694.4 L185.36 679.23 L200.68 654.21 L216 615.79 L231.32 569.82 L246.64 528.3 L261.95 505.7 L277.27 494.7 L292.59 492.5 L307.91 494.7 L323.23 505.7 L338.55 534 L353.86 575.26 L369.18 619.68" stroke="#008000" stroke-width="1.39" stroke-opacity="0.5"/>
<path d="M62.82 623.16 L78.14 658.06 L93.45 679.52 L108.77 693.62 L124.09 702.4 L139.41 704.38 L154.73 702.48 L170.05 694.9 L185.36 679.73 L200.68 654.71 L216 616.29 L231.32 570.32 L246.64 528.8 L261.95 506.2 L277.27 495.2 L292.59 493 L307.91 495.2 L323.23 506.2 L338.55 534.5 L353.86 575.76 L369.18 620.18" stroke="#ffa500" stroke-width="1.39" stroke-opacity="0.5"/>
<path d="M66.65 629.44 L68.15 633.22 L69.65 636.91 L71.15 640.5 L72.65 643.97 L74.15 647.32 L75.65 650.54 L77.15 653.61 L78.66 656.55 L80.16 659.32 L81.66 661.95 L83.16 664.42 L84.66 666.75 L86.16 668.93 L87.66 670.99 L89.16 672.93 L90.66 674.77 L92.17 676.51 L93.67 678.18 L95.17 679.79 L96.67 681.34 L98.17 682.84 L99.67 684.3 L101.17 685.73 L102.67 687.11 L104.17 688.47 L105.67 689.78 L107.18 691.06 L108.68 692.3 L110.18 693.49 L111.68 694.62 L113.18 695.71 L114.68 696.73 L116.18 697.69 L117.68 698.58 L119.18 699.41 L120.68 700.16 L122.19 700.83 L123.69 701.43 L125.19 701.95 L126.69 702.4 L128.19 702.78 L129.69 703.09 L131.19 703.34 L132.69 703.54 L134.19 703.68 L135.7 703.78 L137.2 703.85 L138.7 703.88 L140.2 703.88 L141.7 703.86 L143.2 703.81 L144.7 703.73 L146.2 703.63 L147.7 703.49 L149.2 703.31 L150.71 703.08 L152.21 702.81 L153.71 702.48 L155.21 702.1 L156.71 701.66 L158.21 701.16 L159.71 700.59 L161.21 699.96 L162.71 699.28 L164.21 698.53 L165.72 697.72 L167.22 696.84 L168.72 695.91 L170.22 694.91 L171.72 693.84 L173.22 692.7 L174.72 691.48 L176.22 690.18 L177.72 688.8 L179.22 687.32 L180.73 685.76 L182.23 684.1 L183.73 682.35 L185.23 680.51 L186.73 678.57 L188.23 676.54 L189.73 674.42 L191.23 672.2 L192.73 669.89 L194.24 667.47 L195.74 664.94 L197.24 662.3 L198.74 659.54 L200.24 656.65 L201.74 653.62 L203.24 650.44 L204.74 647.12 L206.24 643.64 L207.74 640.01 L209.25 636.23 L210.75 632.3 L212.25 628.23 L213.75 624.04 L215.25 619.73 L216.75 615.32 L218.25 610.83 L219.75 606.28 L221.25 601.66 L222.75 597.01 L224.26 592.34 L225.76 587.66 L227.26 582.97 L228.76 578.3 L230.26 573.65 L231.76 569.02 L233.26 564.44 L234.76 559.9 L236.26 555.41 L237.76 550.98 L239.27 546.62 L240.77 542.34 L242.27 538.14 L243.77 534.04 L245.27 530.03 L246.77 526.14 L248.27 522.36 L249.77 518.72 L251.27 515.21 L252.78 511.85 L254.28 508.66 L255.78 505.63 L257.28 502.77 L258.78 500.11 L260.28 497.63 L261.78 495.34 L263.28 493.25 L264.78 491.36 L266.28 489.65 L267.79 488.13 L269.29 486.78 L270.79 485.59 L272.29 484.55 L273.79 483.65 L275.29 482.87 L276.79 482.19 L278.29 481.61 L279.79 481.11 L281.29 480.69 L282.8 480.34 L284.3 480.04 L285.8 479.81 L287.3 479.64 L288.8 479.53 L290.3 479.47 L291.8 479.47 L293.3 479.51 L294.8 479.6 L296.3 479.74 L297.81 479.93 L299.31 480.16 L300.81 480.42 L302.31 480.73 L303.81 481.06 L305.31 481.44 L306.81 481.87 L308.31 482.34 L309.81 482.88 L311.32 483.5 L312.82 484.22 L314.32 485.05 L315.82 486.01 L317.32 487.12 L318.82 488.4 L320.32 489.85 L321.82 491.49 L323.32 493.33 L324.82 495.37 L326.33 497.62 L327.83 500.08 L329.33 502.74 L330.83 505.61 L332.33 508.68 L333.83 511.95 L335.33 515.41 L336.83 519.06 L338.33 522.89 L339.83 526.89 L341.34 531.06 L342.84 535.39 L344.34 539.86 L345.84 544.45 L347.34 549.15 L348.84 553.92 L350.34 558.76 L351.84 563.63 L353.34 568.52 L354.85 573.38 L356.35 578.22 L357.85 582.99 L359.35 587.7 L360.85 592.33 L362.35 596.86 L363.85 601.31 L365.35 605.65" stroke="#008000" stroke-width="2.78"/>
<path d="M64.35 623.99 L65.87 627.96 L67.38 631.84 L68.9 635.62 L70.42 639.3 L71.93 642.86 L73.45 646.29 L74.96 649.6 L76.48 652.76 L78 655.77 L79.51 658.62 L81.03 661.32 L82.55 663.86 L84.06 666.25 L85.58 668.49 L87.1 670.59 L88.61 672.58 L90.13 674.46 L91.65 676.24 L93.16 677.94 L94.68 679.57 L96.19 681.14 L97.71 682.67 L99.23 684.15 L100.74 685.6 L102.26 687.01 L103.78 688.38 L105.29 689.71 L106.81 691.01 L108.33 692.26 L109.84 693.46 L111.36 694.61 L112.88 695.7 L114.39 696.74 L115.91 697.71 L117.42 698.61 L118.94 699.44 L120.46 700.19 L121.97 700.87 L123.49 701.47 L125.01 701.99 L126.52 702.44 L128.04 702.82 L129.56 703.13 L131.07 703.37 L132.59 703.56 L134.11 703.7 L135.62 703.8 L137.14 703.86 L138.65 703.88 L140.17 703.88 L141.69 703.85 L143.2 703.8 L144.72 703.71 L146.24 703.6 L147.75 703.45 L149.27 703.25 L150.79 703.02 L152.3 702.73 L153.82 702.38 L155.34 701.98 L156.85 701.51 L158.37 700.99 L159.88 700.4 L161.4 699.74 L162.92 699.03 L164.43 698.25 L165.95 697.41 L167.47 696.5 L168.98 695.53 L170.5 694.5 L172.02 693.39 L173.53 692.2 L175.05 690.94 L176.57 689.58 L178.08 688.15 L179.6 686.61 L181.11 684.99 L182.63 683.27 L184.15 681.45 L185.66 679.54 L187.18 677.53 L188.7 675.43 L190.21 673.23 L191.73 670.93 L193.25 668.52 L194.76 666.01 L196.28 663.39 L197.8 660.64 L199.31 657.76 L200.83 654.75 L202.34 651.59 L203.86 648.27 L205.38 644.8 L206.89 641.17 L208.41 637.38 L209.93 633.44 L211.44 629.35 L212.96 625.12 L214.48 620.78 L215.99 616.32 L217.51 611.77 L219.03 607.15 L220.54 602.46 L222.06 597.73 L223.57 592.97 L225.09 588.19 L226.61 583.4 L228.12 578.63 L229.64 573.87 L231.16 569.14 L232.67 564.44 L234.19 559.79 L235.71 555.19 L237.22 550.65 L238.74 546.17 L240.26 541.77 L241.77 537.46 L243.29 533.24 L244.8 529.12 L246.32 525.11 L247.84 521.23 L249.35 517.48 L250.87 513.87 L252.39 510.41 L253.9 507.12 L255.42 504 L256.94 501.06 L258.45 498.32 L259.97 495.77 L261.48 493.42 L263 491.27 L264.52 489.32 L266.03 487.58 L267.55 486.02 L269.07 484.64 L270.58 483.42 L272.1 482.37 L273.62 481.45 L275.13 480.65 L276.65 479.97 L278.17 479.38 L279.68 478.88 L281.2 478.46 L282.71 478.1 L284.23 477.81 L285.75 477.58 L287.26 477.42 L288.78 477.32 L290.3 477.27 L291.81 477.27 L293.33 477.33 L294.85 477.43 L296.36 477.58 L297.88 477.79 L299.4 478.03 L300.91 478.32 L302.43 478.64 L303.94 479 L305.46 479.4 L306.98 479.85 L308.49 480.36 L310.01 480.95 L311.53 481.62 L313.04 482.39 L314.56 483.3 L316.08 484.34 L317.59 485.54 L319.11 486.93 L320.63 488.5 L322.14 490.27 L323.66 492.25 L325.17 494.44 L326.69 496.85 L328.21 499.47 L329.72 502.3 L331.24 505.35 L332.76 508.6 L334.27 512.05 L335.79 515.71 L337.31 519.55 L338.82 523.57 L340.34 527.78 L341.86 532.14 L343.37 536.66 L344.89 541.31 L346.4 546.08 L347.92 550.94 L349.44 555.87 L350.95 560.84 L352.47 565.83 L353.99 570.82 L355.5 575.77 L357.02 580.67 L358.54 585.5 L360.05 590.25 L361.57 594.91 L363.09 599.47 L364.6 603.93 L366.12 608.3" stroke="#ffa500" stroke-width="2.78"/>
<path d="M62.82 622.66 L64.35 626.62 L65.88 630.5 L67.41 634.28 L68.95 637.97 L70.48 641.55 L72.01 645.02 L73.54 648.37 L75.07 651.58 L76.6 654.65 L78.14 657.56 L79.67 660.33 L81.2 662.93 L82.73 665.38 L84.26 667.68 L85.8 669.85 L87.33 671.88 L88.86 673.8 L90.39 675.63 L91.92 677.36 L93.45 679.02 L94.99 680.62 L96.52 682.17 L98.05 683.67 L99.58 685.13 L101.11 686.56 L102.65 687.95 L104.18 689.31 L105.71 690.62 L107.24 691.89 L108.77 693.12 L110.3 694.29 L111.84 695.41 L113.37 696.47 L114.9 697.47 L116.43 698.39 L117.96 699.25 L119.5 700.03 L121.03 700.73 L122.56 701.35 L124.09 701.9 L125.62 702.36 L127.15 702.75 L128.69 703.08 L130.22 703.34 L131.75 703.53 L133.28 703.68 L134.81 703.79 L136.35 703.85 L137.88 703.88 L139.41 703.88 L140.94 703.86 L142.47 703.8 L144 703.72 L145.54 703.61 L147.07 703.45 L148.6 703.26 L150.13 703.02 L151.66 702.73 L153.2 702.39 L154.73 701.98 L156.26 701.51 L157.79 700.97 L159.32 700.38 L160.85 699.71 L162.39 698.99 L163.92 698.2 L165.45 697.35 L166.98 696.43 L168.51 695.45 L170.05 694.4 L171.58 693.27 L173.11 692.07 L174.64 690.78 L176.17 689.41 L177.7 687.95 L179.24 686.4 L180.77 684.75 L182.3 683.01 L183.83 681.17 L185.36 679.23 L186.9 677.2 L188.43 675.08 L189.96 672.85 L191.49 670.53 L193.02 668.1 L194.55 665.57 L196.09 662.92 L197.62 660.15 L199.15 657.25 L200.68 654.21 L202.21 651.02 L203.75 647.68 L205.28 644.19 L206.81 640.55 L208.34 636.75 L209.87 632.8 L211.4 628.72 L212.94 624.52 L214.47 620.2 L216 615.79 L217.53 611.3 L219.06 606.75 L220.6 602.15 L222.13 597.52 L223.66 592.88 L225.19 588.23 L226.72 583.59 L228.25 578.97 L229.79 574.38 L231.32 569.82 L232.85 565.31 L234.38 560.85 L235.91 556.46 L237.45 552.13 L238.98 547.87 L240.51 543.71 L242.04 539.63 L243.57 535.65 L245.1 531.79 L246.64 528.04 L248.17 524.42 L249.7 520.94 L251.23 517.6 L252.76 514.42 L254.3 511.41 L255.83 508.57 L257.36 505.91 L258.89 503.44 L260.42 501.17 L261.95 499.09 L263.49 497.2 L265.02 495.5 L266.55 493.98 L268.08 492.64 L269.61 491.47 L271.15 490.44 L272.68 489.55 L274.21 488.78 L275.74 488.11 L277.27 487.54 L278.8 487.06 L280.34 486.65 L281.87 486.3 L283.4 486.02 L284.93 485.8 L286.46 485.63 L288 485.52 L289.53 485.47 L291.06 485.47 L292.59 485.52 L294.12 485.62 L295.65 485.77 L297.19 485.96 L298.72 486.19 L300.25 486.45 L301.78 486.75 L303.31 487.09 L304.85 487.47 L306.38 487.89 L307.91 488.37 L309.44 488.92 L310.97 489.56 L312.5 490.29 L314.04 491.15 L315.57 492.14 L317.1 493.29 L318.63 494.6 L320.16 496.1 L321.7 497.79 L323.23 499.68 L324.76 501.77 L326.29 504.07 L327.82 506.58 L329.35 509.3 L330.89 512.21 L332.42 515.33 L333.95 518.64 L335.48 522.14 L337.01 525.84 L338.55 529.71 L340.08 533.75 L341.61 537.95 L343.14 542.31 L344.67 546.79 L346.2 551.39 L347.74 556.08 L349.27 560.83 L350.8 565.63 L352.33 570.45 L353.86 575.26 L355.4 580.04 L356.93 584.77 L358.46 589.44 L359.99 594.02 L361.52 598.53 L363.05 602.94 L364.59 607.26 L366.12 611.49 L367.65 615.63" stroke="#ff0000" stroke-width="2.78"/>
</g>
<rect x="47.5" y="437.5" width="337" height="283" fill="none" stroke="#000" stroke-width="1.11" stroke-linejoin="miter"/>
<path d="M62.5 720.5 V725.36 M124.5 720.5 V725.36 M185.5 720.5 V725.36 M246.5 720.5 V725.36 M307.5 720.5 V725.36 M369.5 720.5 V725.36 M47.5 437.5 H42.64 M47.5 469.5 H42.64 M47.5 502.5 H42.64 M47.5 534.5 H42.64 M47.5 566.5 H42.64 M47.5 598.5 H42.64 M47.5 631.5 H42.64 M47.5 663.5 H42.64 M47.5 695.5 H42.64" stroke="#000" stroke-width="1.11"/>
<text font-size="13.89" x="52.28" y="740.73" textLength="20.19" lengthAdjust="spacingAndGlyphs">0.0</text>
<text font-size="13.89" x="114.38" y="740.72" textLength="19.96" lengthAdjust="spacingAndGlyphs">0.2</text>
<text font-size="13.89" x="175.36" y="740.71" textLength="20.18" lengthAdjust="spacingAndGlyphs">0.4</text>
<text font-size="13.89" x="236.33" y="740.71" textLength="20.51" lengthAdjust="spacingAndGlyphs">0.6</text>
<text font-size="13.89" x="297.3" y="740.7" textLength="20.45" lengthAdjust="spacingAndGlyphs">0.8</text>
<text font-size="13.89" x="358.78" y="740.72" textLength="19.89" lengthAdjust="spacingAndGlyphs">1.0</text>
<text font-size="13.89" x="7.75" y="700" textLength="28.55" lengthAdjust="spacingAndGlyphs">12.5</text>
<text font-size="13.89" x="7.7" y="668.25" textLength="28.76" lengthAdjust="spacingAndGlyphs">15.0</text>
<text font-size="13.89" x="7.75" y="636" textLength="28.55" lengthAdjust="spacingAndGlyphs">17.5</text>
<text font-size="13.89" x="7.14" y="603.75" textLength="30.15" lengthAdjust="spacingAndGlyphs">20.0</text>
<text font-size="13.89" x="7.14" y="571.5" textLength="29.99" lengthAdjust="spacingAndGlyphs">22.5</text>
<text font-size="13.89" x="7.14" y="539.25" textLength="30.15" lengthAdjust="spacingAndGlyphs">25.0</text>
<text font-size="13.89" x="7.14" y="507" textLength="29.99" lengthAdjust="spacingAndGlyphs">27.5</text>
<text font-size="13.89" x="7.53" y="474.78" textLength="28.81" lengthAdjust="spacingAndGlyphs">30.0</text>
<text font-size="13.89" x="7.57" y="442" textLength="28.47" lengthAdjust="spacingAndGlyphs">32.5</text>
<text font-size="13.89" x="165.28" y="759.76" textLength="100.45" lengthAdjust="spacingAndGlyphs">x (normalized)</text>
<text font-size="17.83" x="189.35" y="428.67" textLength="51.77" lengthAdjust="spacingAndGlyphs">40 km</text>
<rect x="54.5" y="444.5" width="112" height="67" rx="2.78" fill="#fff" fill-opacity="0.8" stroke="#ccc" stroke-opacity="0.8" stroke-width="1.39"/>
<path d="M60.4 456.5 H87.63" stroke="green" stroke-width="2.78" stroke-linecap="square"/>
<path d="M60.4 477.5 H87.63" stroke="orange" stroke-width="2.78" stroke-linecap="square"/>
<path d="M60.4 498.5 H87.63" stroke="red" stroke-width="2.78" stroke-linecap="square"/>
<text font-size="13.89" x="98.15" y="460" textLength="61.57" lengthAdjust="spacingAndGlyphs">BP mean</text>
<text font-size="13.89" x="98.13" y="481.44" textLength="60.04" lengthAdjust="spacingAndGlyphs">FS mean</text>
<text font-size="13.89" x="99.25" y="502.39" textLength="31.64" lengthAdjust="spacingAndGlyphs">PISM</text>
<clipPath id="c4"><rect x="442.5" y="437.5" width="337" height="283"/></clipPath>
<g clip-path="url(#c4)" fill="none" stroke-linecap="square" stroke-linejoin="round">
<path d="M457.82 666.61 L459.33 668.41 L460.84 670.17 L462.34 671.88 L463.85 673.54 L465.36 675.13 L466.87 676.65 L468.38 678.1 L469.89 679.5 L471.4 680.84 L472.91 682.15 L474.41 683.42 L475.92 684.65 L477.43 685.85 L478.94 687 L480.45 688.09 L481.96 689.14 L483.47 690.12 L484.98 691.05 L486.48 691.93 L487.99 692.77 L489.5 693.56 L491.01 694.33 L492.52 695.06 L494.03 695.77 L495.54 696.45 L497.05 697.09 L498.55 697.69 L500.06 698.25 L501.57 698.76 L503.08 699.24 L504.59 699.67 L506.1 700.07 L507.61 700.45 L509.11 700.81 L510.62 701.15 L512.13 701.47 L513.64 701.77 L515.15 702.06 L516.66 702.31 L518.17 702.54 L519.68 702.73 L521.18 702.9 L522.69 703.04 L524.2 703.17 L525.71 703.28 L527.22 703.38 L528.73 703.47 L530.24 703.57 L531.75 703.65 L533.25 703.73 L534.76 703.78 L536.27 703.82 L537.78 703.84 L539.29 703.83 L540.8 703.8 L542.31 703.74 L543.82 703.67 L545.32 703.59 L546.83 703.49 L548.34 703.37 L549.85 703.24 L551.36 703.09 L552.87 702.9 L554.38 702.68 L555.89 702.42 L557.39 702.11 L558.9 701.77 L560.41 701.39 L561.92 700.97 L563.43 700.52 L564.94 700.05 L566.45 699.54 L567.96 699 L569.46 698.43 L570.97 697.81 L572.48 697.14 L573.99 696.41 L575.5 695.61 L577.01 694.76 L578.52 693.84 L580.02 692.87 L581.53 691.83 L583.04 690.73 L584.55 689.58 L586.06 688.34 L587.57 687.03 L589.08 685.61 L590.59 684.08 L592.09 682.44 L593.6 680.66 L595.11 678.76 L596.62 676.74 L598.13 674.62 L599.64 672.4 L601.15 670.11 L602.66 667.76 L604.16 665.35 L605.67 662.88 L607.18 660.33 L608.69 657.69 L610.2 654.93 L611.71 652.03 L613.22 648.97 L614.73 645.71 L616.23 642.25 L617.74 638.56 L619.25 634.64 L620.76 630.49 L622.27 626.08 L623.78 621.43 L625.29 616.51 L626.8 611.34 L628.3 605.9 L629.81 600.2 L631.32 594.26 L632.83 588.09 L634.34 581.71 L635.85 575.15 L637.36 568.45 L638.87 561.63 L640.37 554.7 L641.88 547.7 L643.39 540.63 L644.9 533.51 L646.41 526.34 L647.92 519.14 L649.43 511.95 L650.94 504.83 L652.44 497.83 L653.95 491.06 L655.46 484.6 L656.97 478.57 L658.48 473.05 L659.99 468.15 L661.5 463.9 L663 460.33 L664.51 457.43 L666.02 455.16 L667.53 453.44 L669.04 452.17 L670.55 451.27 L672.06 450.62 L673.57 450.16 L675.07 449.8 L676.58 449.52 L678.09 449.28 L679.6 449.07 L681.11 448.92 L682.62 448.81 L684.13 448.75 L685.64 448.73 L687.14 448.77 L688.65 448.85 L690.16 448.98 L691.67 449.19 L693.18 449.48 L694.69 449.88 L696.2 450.42 L697.71 451.18 L699.21 452.21 L700.72 453.59 L702.23 455.4 L703.74 457.7 L705.25 460.54 L706.76 463.97 L708.27 468 L709.78 472.63 L711.28 477.84 L712.79 483.58 L714.3 489.79 L715.81 496.4 L717.32 503.31 L718.83 510.45 L720.34 517.72 L721.85 525.06 L723.35 532.38 L724.86 539.65 L726.37 546.84 L727.88 553.93 L729.39 560.93 L730.9 567.86 L732.41 574.73 L733.91 581.56 L735.42 588.35 L736.93 595.08 L738.44 601.74 L739.95 608.25 L741.46 614.57 L742.97 620.6 L744.48 626.28 L745.98 631.53 L747.49 636.31 L749 640.59 L750.51 644.38 L752.02 647.7 L753.53 650.62 L755.04 653.19 L756.55 655.49 L758.05 657.61" stroke="#008000" stroke-width="1.39" stroke-opacity="0.5"/>
<path d="M457.82 663.34 L459.36 665.23 L460.9 667.07 L462.44 668.89 L463.98 670.68 L465.52 672.43 L467.06 674.12 L468.59 675.74 L470.13 677.3 L471.67 678.79 L473.21 680.21 L474.75 681.59 L476.29 682.91 L477.83 684.2 L479.37 685.46 L480.91 686.67 L482.45 687.84 L483.99 688.96 L485.53 690.02 L487.07 691.03 L488.61 691.97 L490.15 692.87 L491.69 693.72 L493.23 694.53 L494.77 695.3 L496.31 696.05 L497.85 696.77 L499.39 697.45 L500.92 698.1 L502.46 698.71 L504 699.27 L505.54 699.8 L507.08 700.27 L508.62 700.71 L510.16 701.12 L511.7 701.5 L513.24 701.86 L514.78 702.2 L516.32 702.52 L517.86 702.83 L519.4 703.11 L520.94 703.36 L522.48 703.59 L524.02 703.78 L525.56 703.94 L527.1 704.08 L528.64 704.2 L530.18 704.31 L531.71 704.41 L533.25 704.51 L534.79 704.6 L536.33 704.68 L537.87 704.75 L539.41 704.8 L540.95 704.83 L542.49 704.84 L544.03 704.82 L545.57 704.77 L547.11 704.71 L548.65 704.63 L550.19 704.53 L551.73 704.42 L553.27 704.29 L554.81 704.15 L556.35 703.97 L557.89 703.75 L559.43 703.5 L560.97 703.21 L562.51 702.87 L564.04 702.49 L565.58 702.07 L567.12 701.63 L568.66 701.15 L570.2 700.65 L571.74 700.11 L573.28 699.53 L574.82 698.91 L576.36 698.24 L577.9 697.51 L579.44 696.71 L580.98 695.85 L582.52 694.92 L584.06 693.94 L585.6 692.89 L587.14 691.79 L588.68 690.62 L590.22 689.37 L591.76 688.03 L593.3 686.59 L594.84 685.04 L596.37 683.36 L597.91 681.55 L599.45 679.62 L600.99 677.57 L602.53 675.41 L604.07 673.17 L605.61 670.86 L607.15 668.48 L608.69 666.05 L610.23 663.54 L611.77 660.96 L613.31 658.28 L614.85 655.46 L616.39 652.49 L617.93 649.34 L619.47 645.99 L621.01 642.42 L622.55 638.62 L624.09 634.58 L625.63 630.29 L627.16 625.75 L628.7 620.95 L630.24 615.89 L631.78 610.57 L633.32 604.98 L634.86 599.14 L636.4 593.06 L637.94 586.77 L639.48 580.29 L641.02 573.66 L642.56 566.91 L644.1 560.05 L645.64 553.11 L647.18 546.11 L648.72 539.05 L650.26 531.94 L651.8 524.81 L653.34 517.69 L654.88 510.63 L656.42 503.69 L657.96 496.99 L659.49 490.6 L661.03 484.65 L662.57 479.24 L664.11 474.43 L665.65 470.3 L667.19 466.86 L668.73 464.09 L670.27 461.94 L671.81 460.33 L673.35 459.16 L674.89 458.33 L676.43 457.74 L677.97 457.32 L679.51 456.99 L681.05 456.72 L682.59 456.5 L684.13 456.31 L685.67 456.17 L687.21 456.08 L688.75 456.03 L690.29 456.04 L691.82 456.1 L693.36 456.21 L694.9 456.37 L696.44 456.62 L697.98 456.96 L699.52 457.43 L701.06 458.08 L702.6 458.98 L704.14 460.21 L705.68 461.83 L707.22 463.93 L708.76 466.56 L710.3 469.77 L711.84 473.59 L713.38 478.01 L714.92 483.03 L716.46 488.6 L718 494.66 L719.54 501.14 L721.08 507.94 L722.61 514.99 L724.15 522.18 L725.69 529.45 L727.23 536.71 L728.77 543.93 L730.31 551.06 L731.85 558.1 L733.39 565.05 L734.93 571.93 L736.47 578.75 L738.01 585.53 L739.55 592.28 L741.09 598.97 L742.63 605.58 L744.17 612.04 L745.71 618.29 L747.25 624.24 L748.79 629.82 L750.33 634.95 L751.87 639.6 L753.41 643.74 L754.94 647.38 L756.48 650.57 L758.02 653.36 L759.56 655.83 L761.1 658.06 L762.64 660.11 L764.18 662.06" stroke="#008000" stroke-width="1.39" stroke-opacity="0.5"/>
<path d="M457.82 664.35 L459.36 666.16 L460.9 667.94 L462.44 669.69 L463.98 671.41 L465.52 673.09 L467.06 674.73 L468.59 676.3 L470.13 677.81 L471.67 679.25 L473.21 680.64 L474.75 681.97 L476.29 683.26 L477.83 684.51 L479.37 685.72 L480.91 686.9 L482.45 688.04 L483.99 689.13 L485.53 690.17 L487.07 691.16 L488.61 692.09 L490.15 692.97 L491.69 693.8 L493.23 694.59 L494.77 695.35 L496.31 696.08 L497.85 696.78 L499.39 697.46 L500.92 698.1 L502.46 698.7 L504 699.26 L505.54 699.78 L507.08 700.25 L508.62 700.69 L510.16 701.09 L511.7 701.47 L513.24 701.82 L514.78 702.16 L516.32 702.48 L517.86 702.79 L519.4 703.07 L520.94 703.32 L522.48 703.55 L524.02 703.75 L525.56 703.91 L527.1 704.05 L528.64 704.18 L530.18 704.29 L531.71 704.39 L533.25 704.49 L534.79 704.58 L536.33 704.67 L537.87 704.74 L539.41 704.8 L540.95 704.83 L542.49 704.84 L544.03 704.82 L545.57 704.78 L547.11 704.72 L548.65 704.64 L550.19 704.55 L551.73 704.44 L553.27 704.32 L554.81 704.18 L556.35 704.01 L557.89 703.8 L559.43 703.56 L560.97 703.28 L562.51 702.95 L564.04 702.59 L565.58 702.19 L567.12 701.76 L568.66 701.29 L570.2 700.81 L571.74 700.29 L573.28 699.73 L574.82 699.14 L576.36 698.49 L577.9 697.79 L579.44 697.02 L580.98 696.2 L582.52 695.31 L584.06 694.37 L585.6 693.36 L587.14 692.3 L588.68 691.18 L590.22 689.99 L591.76 688.71 L593.3 687.35 L594.84 685.87 L596.37 684.27 L597.91 682.55 L599.45 680.71 L600.99 678.76 L602.53 676.71 L604.07 674.57 L605.61 672.36 L607.15 670.1 L608.69 667.77 L610.23 665.39 L611.77 662.94 L613.31 660.39 L614.85 657.73 L616.39 654.92 L617.93 651.96 L619.47 648.8 L621.01 645.44 L622.55 641.87 L624.09 638.08 L625.63 634.05 L627.16 629.79 L628.7 625.29 L630.24 620.55 L631.78 615.56 L633.32 610.32 L634.86 604.85 L636.4 599.15 L637.94 593.26 L639.48 587.19 L641.02 580.98 L642.56 574.64 L644.1 568.22 L645.64 561.72 L647.18 555.15 L648.72 548.54 L650.26 541.89 L651.8 535.22 L653.34 528.55 L654.88 521.94 L656.42 515.43 L657.96 509.12 L659.49 503.1 L661.03 497.46 L662.57 492.31 L664.11 487.72 L665.65 483.74 L667.19 480.41 L668.73 477.71 L670.27 475.6 L671.81 474.01 L673.35 472.84 L674.89 472.02 L676.43 471.44 L677.97 471.02 L679.51 470.7 L681.05 470.44 L682.59 470.22 L684.13 470.04 L685.67 469.89 L687.21 469.79 L688.75 469.74 L690.29 469.74 L691.82 469.78 L693.36 469.88 L694.9 470.03 L696.44 470.25 L697.98 470.54 L699.52 470.95 L701.06 471.52 L702.6 472.3 L704.14 473.38 L705.68 474.81 L707.22 476.67 L708.76 479.01 L710.3 481.89 L711.84 485.33 L713.38 489.34 L714.92 493.91 L716.46 499 L718 504.57 L719.54 510.54 L721.08 516.84 L722.61 523.38 L724.15 530.09 L725.69 536.88 L727.23 543.68 L728.77 550.46 L730.31 557.16 L731.85 563.79 L733.39 570.33 L734.93 576.81 L736.47 583.23 L738.01 589.63 L739.55 596 L741.09 602.32 L742.63 608.59 L744.17 614.73 L745.71 620.69 L747.25 626.39 L748.79 631.75 L750.33 636.71 L751.87 641.22 L753.41 645.26 L754.94 648.82 L756.48 651.94 L758.02 654.68 L759.56 657.09 L761.1 659.25 L762.64 661.25 L764.18 663.13" stroke="#008000" stroke-width="1.39" stroke-opacity="0.5"/>
<path d="M457.82 666.04 L459.36 667.84 L460.9 669.61 L462.44 671.35 L463.98 673.05 L465.52 674.7 L467.06 676.28 L468.59 677.8 L470.13 679.25 L471.67 680.65 L473.21 681.99 L474.75 683.29 L476.29 684.55 L477.83 685.77 L479.37 686.96 L480.91 688.1 L482.45 689.2 L483.99 690.24 L485.53 691.23 L487.07 692.16 L488.61 693.03 L490.15 693.87 L491.69 694.66 L493.23 695.42 L494.77 696.16 L496.31 696.86 L497.85 697.53 L499.39 698.17 L500.92 698.77 L502.46 699.33 L504 699.84 L505.54 700.31 L507.08 700.75 L508.62 701.15 L510.16 701.52 L511.7 701.88 L513.24 702.22 L514.78 702.54 L516.32 702.84 L517.86 703.12 L519.4 703.37 L520.94 703.59 L522.48 703.78 L524.02 703.94 L525.56 704.08 L527.1 704.2 L528.64 704.31 L530.18 704.41 L531.71 704.51 L533.25 704.6 L534.79 704.68 L536.33 704.75 L537.87 704.8 L539.41 704.83 L540.95 704.84 L542.49 704.82 L544.03 704.77 L545.57 704.71 L547.11 704.63 L548.65 704.53 L550.19 704.42 L551.73 704.29 L553.27 704.15 L554.81 703.97 L556.35 703.76 L557.89 703.51 L559.43 703.21 L560.97 702.88 L562.51 702.5 L564.04 702.1 L565.58 701.65 L567.12 701.18 L568.66 700.69 L570.2 700.16 L571.74 699.59 L573.28 698.98 L574.82 698.32 L576.36 697.59 L577.9 696.81 L579.44 695.97 L580.98 695.06 L582.52 694.09 L584.06 693.07 L585.6 691.98 L587.14 690.83 L588.68 689.61 L590.22 688.3 L591.76 686.9 L593.3 685.38 L594.84 683.74 L596.37 681.97 L597.91 680.08 L599.45 678.08 L600.99 675.98 L602.53 673.79 L604.07 671.54 L605.61 669.23 L607.15 666.86 L608.69 664.42 L610.23 661.91 L611.77 659.3 L613.31 656.57 L614.85 653.69 L616.39 650.63 L617.93 647.38 L619.47 643.92 L621.01 640.23 L622.55 636.32 L624.09 632.17 L625.63 627.78 L627.16 623.14 L628.7 618.25 L630.24 613.11 L631.78 607.72 L633.32 602.08 L634.86 596.23 L636.4 590.16 L637.94 583.93 L639.48 577.54 L641.02 571.04 L642.56 564.45 L644.1 557.78 L645.64 551.05 L647.18 544.27 L648.72 537.45 L650.26 530.61 L651.8 523.78 L653.34 517.01 L654.88 510.37 L656.42 503.95 L657.96 497.83 L659.49 492.14 L661.03 486.95 L662.57 482.36 L664.11 478.4 L665.65 475.11 L667.19 472.45 L668.73 470.4 L670.27 468.85 L671.81 467.73 L673.35 466.94 L674.89 466.38 L676.43 465.97 L677.97 465.66 L679.51 465.41 L681.05 465.19 L682.59 465.01 L684.13 464.87 L685.67 464.78 L687.21 464.73 L688.75 464.74 L690.29 464.8 L691.82 464.91 L693.36 465.07 L694.9 465.3 L696.44 465.63 L697.98 466.07 L699.52 466.7 L701.06 467.56 L702.6 468.73 L704.14 470.28 L705.68 472.28 L707.22 474.79 L708.76 477.86 L710.3 481.5 L711.84 485.74 L713.38 490.53 L714.92 495.86 L716.46 501.66 L718 507.86 L719.54 514.37 L721.08 521.12 L722.61 528.02 L724.15 534.99 L725.69 541.96 L727.23 548.89 L728.77 555.74 L730.31 562.51 L731.85 569.19 L733.39 575.81 L734.93 582.37 L736.47 588.91 L738.01 595.41 L739.55 601.86 L741.09 608.24 L742.63 614.48 L744.17 620.52 L745.71 626.27 L747.25 631.67 L748.79 636.64 L750.33 641.14 L751.87 645.16 L753.41 648.7 L754.94 651.79 L756.48 654.5 L758.02 656.9 L759.56 659.06 L761.1 661.06 L762.64 662.96 L764.18 664.79" stroke="#ffa500" stroke-width="1.39" stroke-opacity="0.5"/>
<path d="M457.82 668.78 L459.34 670.44 L460.87 672.08 L462.39 673.69 L463.91 675.25 L465.44 676.77 L466.96 678.22 L468.49 679.61 L470.01 680.94 L471.54 682.23 L473.06 683.47 L474.58 684.67 L476.11 685.84 L477.63 686.98 L479.16 688.08 L480.68 689.14 L482.2 690.16 L483.73 691.12 L485.25 692.03 L486.78 692.89 L488.3 693.71 L489.82 694.49 L491.35 695.23 L492.87 695.94 L494.4 696.63 L495.92 697.29 L497.45 697.93 L498.97 698.53 L500.49 699.09 L502.02 699.61 L503.54 700.09 L505.07 700.53 L506.59 700.93 L508.11 701.31 L509.64 701.67 L511.16 702.01 L512.69 702.33 L514.21 702.64 L515.73 702.92 L517.26 703.19 L518.78 703.42 L520.31 703.63 L521.83 703.81 L523.36 703.97 L524.88 704.1 L526.4 704.22 L527.93 704.32 L529.45 704.42 L530.98 704.52 L532.5 704.61 L534.02 704.69 L535.55 704.76 L537.07 704.81 L538.6 704.83 L540.12 704.84 L541.64 704.82 L543.17 704.77 L544.69 704.71 L546.22 704.62 L547.74 704.53 L549.27 704.42 L550.79 704.3 L552.31 704.15 L553.84 703.98 L555.36 703.77 L556.89 703.53 L558.41 703.25 L559.93 702.93 L561.46 702.57 L562.98 702.17 L564.51 701.75 L566.03 701.3 L567.55 700.83 L569.08 700.32 L570.6 699.78 L572.13 699.2 L573.65 698.58 L575.18 697.9 L576.7 697.16 L578.22 696.37 L579.75 695.51 L581.27 694.6 L582.8 693.64 L584.32 692.63 L585.84 691.55 L587.37 690.41 L588.89 689.2 L590.42 687.9 L591.94 686.49 L593.46 684.98 L594.99 683.35 L596.51 681.61 L598.04 679.76 L599.56 677.82 L601.09 675.8 L602.61 673.71 L604.13 671.57 L605.66 669.38 L607.18 667.13 L608.71 664.82 L610.23 662.43 L611.75 659.94 L613.28 657.33 L614.8 654.56 L616.33 651.63 L617.85 648.52 L619.37 645.21 L620.9 641.7 L622.42 637.98 L623.95 634.05 L625.47 629.9 L627 625.52 L628.52 620.93 L630.04 616.11 L631.57 611.07 L633.09 605.83 L634.62 600.4 L636.14 594.8 L637.66 589.07 L639.19 583.22 L640.71 577.28 L642.24 571.28 L643.76 565.22 L645.29 559.11 L646.81 552.97 L648.33 546.81 L649.86 540.64 L651.38 534.51 L652.91 528.45 L654.43 522.53 L655.95 516.84 L657.48 511.45 L659 506.47 L660.53 501.96 L662.05 498 L663.57 494.61 L665.1 491.8 L666.62 489.56 L668.15 487.83 L669.67 486.54 L671.2 485.6 L672.72 484.94 L674.24 484.47 L675.77 484.13 L677.29 483.86 L678.82 483.64 L680.34 483.45 L681.86 483.29 L683.39 483.16 L684.91 483.07 L686.44 483.03 L687.96 483.04 L689.48 483.1 L691.01 483.21 L692.53 483.37 L694.06 483.59 L695.58 483.88 L697.11 484.28 L698.63 484.84 L700.15 485.61 L701.68 486.66 L703.2 488.04 L704.73 489.82 L706.25 492.05 L707.77 494.78 L709.3 498.01 L710.82 501.77 L712.35 506.03 L713.87 510.77 L715.39 515.94 L716.92 521.47 L718.44 527.3 L719.97 533.35 L721.49 539.54 L723.02 545.82 L724.54 552.11 L726.06 558.38 L727.59 564.59 L729.11 570.73 L730.64 576.8 L732.16 582.81 L733.68 588.79 L735.21 594.74 L736.73 600.67 L738.26 606.58 L739.78 612.42 L741.3 618.17 L742.83 623.76 L744.35 629.12 L745.88 634.19 L747.4 638.89 L748.93 643.18 L750.45 647.03 L751.97 650.44 L753.5 653.44 L755.02 656.07 L756.55 658.39 L758.07 660.47 L759.59 662.38 L761.12 664.18" stroke="#ffa500" stroke-width="1.39" stroke-opacity="0.5"/>
<path d="M457.82 667.11 L473.14 682.45 L488.45 693.17 L503.77 699.83 L519.09 703.33 L534.41 704.66 L549.73 704.46 L565.05 701.84 L580.36 695.59 L595.68 683.29 L611 661.89 L626.32 628.43 L641.64 573.88 L656.95 522.5 L672.27 496.7 L687.59 492.3 L702.91 496.7 L718.23 520 L733.55 581.52 L748.86 639.09 L764.18 665.91" stroke="#008000" stroke-width="1.39" stroke-opacity="0.5"/>
<path d="M457.82 667.61 L473.14 682.95 L488.45 693.67 L503.77 700.33 L519.09 703.83 L534.41 705.16 L549.73 704.96 L565.05 702.34 L580.36 696.09 L595.68 683.79 L611 662.39 L626.32 628.93 L641.64 574.38 L656.95 523 L672.27 497.2 L687.59 492.8 L702.91 497.2 L718.23 520.5 L733.55 582.02 L748.86 639.59 L764.18 666.41" stroke="#ffa500" stroke-width="1.39" stroke-opacity="0.5"/>
<path d="M457.82 676.11 L459.36 676.64 L460.9 677.3 L462.44 678.08 L463.98 678.94 L465.52 679.85 L467.06 680.8 L468.59 681.76 L470.13 682.72 L471.67 683.69 L473.21 684.66 L474.75 685.63 L476.29 686.61 L477.83 687.58 L479.37 688.55 L480.91 689.5 L482.45 690.42 L483.99 691.31 L485.53 692.17 L487.07 692.98 L488.61 693.76 L490.15 694.51 L491.69 695.22 L493.23 695.91 L494.77 696.59 L496.31 697.24 L497.85 697.86 L499.39 698.46 L500.92 699.02 L502.46 699.54 L504 700.03 L505.54 700.47 L507.08 700.89 L508.62 701.27 L510.16 701.63 L511.7 701.97 L513.24 702.29 L514.78 702.6 L516.32 702.89 L517.86 703.16 L519.4 703.4 L520.94 703.62 L522.48 703.8 L524.02 703.96 L525.56 704.1 L527.1 704.21 L528.64 704.32 L530.18 704.42 L531.71 704.52 L533.25 704.61 L534.79 704.69 L536.33 704.76 L537.87 704.81 L539.41 704.84 L540.95 704.84 L542.49 704.82 L544.03 704.78 L545.57 704.71 L547.11 704.63 L548.65 704.53 L550.19 704.42 L551.73 704.3 L553.27 704.15 L554.81 703.97 L556.35 703.76 L557.89 703.51 L559.43 703.22 L560.97 702.89 L562.51 702.52 L564.04 702.12 L565.58 701.69 L567.12 701.22 L568.66 700.74 L570.2 700.22 L571.74 699.66 L573.28 699.06 L574.82 698.41 L576.36 697.71 L577.9 696.94 L579.44 696.11 L580.98 695.23 L582.52 694.28 L584.06 693.28 L585.6 692.23 L587.14 691.11 L588.68 689.92 L590.22 688.65 L591.76 687.28 L593.3 685.81 L594.84 684.22 L596.37 682.5 L597.91 680.67 L599.45 678.74 L600.99 676.7 L602.53 674.59 L604.07 672.41 L605.61 670.18 L607.15 667.89 L608.69 665.55 L610.23 663.13 L611.77 660.62 L613.31 657.99 L614.85 655.22 L616.39 652.28 L617.93 649.16 L619.47 645.84 L621.01 642.31 L622.55 638.56 L624.09 634.59 L625.63 630.39 L627.16 625.96 L628.7 621.29 L630.24 616.38 L631.78 611.24 L633.32 605.88 L634.86 600.3 L636.4 594.53 L637.94 588.61 L639.48 582.54 L641.02 576.38 L642.56 570.13 L644.1 563.81 L645.64 557.44 L647.18 551.02 L648.72 544.57 L650.26 538.11 L651.8 531.66 L653.34 525.27 L654.88 519.01 L656.42 512.96 L657.96 507.2 L659.49 501.83 L661.03 496.95 L662.57 492.63 L664.11 488.91 L665.65 485.82 L667.19 483.33 L668.73 481.4 L670.27 479.95 L671.81 478.9 L673.35 478.16 L674.89 477.63 L676.43 477.26 L677.97 476.97 L679.51 476.73 L681.05 476.54 L682.59 476.37 L684.13 476.24 L685.67 476.15 L687.21 476.12 L688.75 476.13 L690.29 476.2 L691.82 476.32 L693.36 476.49 L694.9 476.73 L696.44 477.04 L697.98 477.48 L699.52 478.08 L701.06 478.91 L702.6 480.03 L704.14 481.52 L705.68 483.42 L707.22 485.82 L708.76 488.73 L710.3 492.2 L711.84 496.22 L713.38 500.78 L714.92 505.85 L716.46 511.36 L718 517.27 L719.54 523.48 L721.08 529.92 L722.61 536.52 L724.15 543.19 L725.69 549.88 L727.23 556.55 L728.77 563.16 L730.31 569.7 L731.85 576.19 L733.39 582.63 L734.93 589.05 L736.47 595.46 L738.01 601.87 L739.55 608.27 L741.09 614.62 L742.63 620.87 L744.17 626.97 L745.71 632.84 L747.25 638.41 L748.79 643.63 L750.33 648.44 L751.87 652.85 L753.41 656.86 L754.94 660.51 L756.48 663.87 L758.02 667 L759.56 670.01 L761.1 672.95 L762.64 675.9 L764.18 678.91" stroke="#ffa500" stroke-width="1.39" stroke-opacity="0.5"/>
<path d="M461.65 670.12 L463.15 671.79 L464.65 673.43 L466.15 675.01 L467.65 676.54 L469.15 678 L470.65 679.4 L472.15 680.75 L473.66 682.05 L475.16 683.3 L476.66 684.52 L478.16 685.71 L479.66 686.86 L481.16 687.97 L482.66 689.04 L484.16 690.06 L485.66 691.03 L487.17 691.94 L488.67 692.81 L490.17 693.63 L491.67 694.41 L493.17 695.16 L494.67 695.88 L496.17 696.57 L497.67 697.24 L499.17 697.88 L500.67 698.48 L502.18 699.04 L503.68 699.56 L505.18 700.04 L506.68 700.48 L508.18 700.89 L509.68 701.27 L511.18 701.63 L512.68 701.97 L514.18 702.29 L515.68 702.6 L517.19 702.89 L518.69 703.16 L520.19 703.4 L521.69 703.61 L523.19 703.79 L524.69 703.95 L526.19 704.08 L527.69 704.2 L529.19 704.3 L530.7 704.4 L532.2 704.5 L533.7 704.59 L535.2 704.67 L536.7 704.74 L538.2 704.8 L539.7 704.83 L541.2 704.84 L542.7 704.82 L544.2 704.79 L545.71 704.73 L547.21 704.66 L548.71 704.57 L550.21 704.47 L551.71 704.35 L553.21 704.21 L554.71 704.06 L556.21 703.87 L557.71 703.64 L559.21 703.38 L560.72 703.08 L562.22 702.73 L563.72 702.36 L565.22 701.95 L566.72 701.51 L568.22 701.05 L569.72 700.56 L571.22 700.03 L572.72 699.48 L574.22 698.87 L575.73 698.22 L577.23 697.51 L578.73 696.75 L580.23 695.92 L581.73 695.04 L583.23 694.1 L584.73 693.11 L586.23 692.06 L587.73 690.95 L589.24 689.77 L590.74 688.52 L592.24 687.17 L593.74 685.71 L595.24 684.15 L596.74 682.46 L598.24 680.66 L599.74 678.75 L601.24 676.75 L602.74 674.67 L604.25 672.51 L605.75 670.3 L607.25 668.04 L608.75 665.72 L610.25 663.34 L611.75 660.87 L613.25 658.3 L614.75 655.6 L616.25 652.74 L617.75 649.71 L619.26 646.5 L620.76 643.08 L622.26 639.46 L623.76 635.61 L625.26 631.55 L626.76 627.26 L628.26 622.73 L629.76 617.97 L631.26 612.98 L632.76 607.75 L634.27 602.31 L635.77 596.66 L637.27 590.83 L638.77 584.84 L640.27 578.72 L641.77 572.5 L643.27 566.19 L644.77 559.81 L646.27 553.38 L647.78 546.91 L649.28 540.4 L650.78 533.87 L652.28 527.35 L653.78 520.88 L655.28 514.53 L656.78 508.36 L658.28 502.47 L659.78 496.96 L661.28 491.9 L662.79 487.37 L664.29 483.43 L665.79 480.11 L667.29 477.38 L668.79 475.23 L670.29 473.59 L671.79 472.38 L673.29 471.5 L674.79 470.88 L676.29 470.43 L677.8 470.09 L679.3 469.83 L680.8 469.6 L682.3 469.41 L683.8 469.25 L685.3 469.13 L686.8 469.06 L688.3 469.03 L689.8 469.05 L691.3 469.12 L692.81 469.24 L694.31 469.41 L695.81 469.65 L697.31 469.97 L698.81 470.42 L700.31 471.04 L701.81 471.89 L703.31 473.03 L704.81 474.52 L706.32 476.44 L707.82 478.84 L709.32 481.75 L710.82 485.2 L712.32 489.19 L713.82 493.71 L715.32 498.73 L716.82 504.19 L718.32 510.04 L719.82 516.21 L721.33 522.6 L722.83 529.16 L724.33 535.8 L725.83 542.46 L727.33 549.09 L728.83 555.66 L730.33 562.16 L731.83 568.57 L733.33 574.92 L734.83 581.22 L736.34 587.48 L737.84 593.72 L739.34 599.92 L740.84 606.07 L742.34 612.13 L743.84 618.04 L745.34 623.73 L746.84 629.13 L748.34 634.18 L749.85 638.82 L751.35 643.01 L752.85 646.75 L754.35 650.04 L755.85 652.94 L757.35 655.48 L758.85 657.75 L760.35 659.8" stroke="#008000" stroke-width="2.78"/>
<path d="M459.35 669.38 L460.87 671.06 L462.38 672.71 L463.9 674.33 L465.42 675.9 L466.93 677.41 L468.45 678.86 L469.96 680.25 L471.48 681.58 L473 682.86 L474.51 684.11 L476.03 685.31 L477.55 686.49 L479.06 687.63 L480.58 688.73 L482.1 689.79 L483.61 690.8 L485.13 691.76 L486.65 692.66 L488.16 693.52 L489.68 694.33 L491.19 695.1 L492.71 695.84 L494.23 696.56 L495.74 697.24 L497.26 697.9 L498.78 698.53 L500.29 699.13 L501.81 699.68 L503.33 700.19 L504.84 700.67 L506.36 701.1 L507.88 701.5 L509.39 701.88 L510.91 702.23 L512.42 702.57 L513.94 702.89 L515.46 703.19 L516.97 703.47 L518.49 703.73 L520.01 703.96 L521.52 704.17 L523.04 704.34 L524.56 704.49 L526.07 704.62 L527.59 704.74 L529.11 704.84 L530.62 704.94 L532.14 705.03 L533.65 705.12 L535.17 705.2 L536.69 705.27 L538.2 705.31 L539.72 705.34 L541.24 705.34 L542.75 705.31 L544.27 705.26 L545.79 705.2 L547.3 705.12 L548.82 705.02 L550.34 704.91 L551.85 704.78 L553.37 704.64 L554.88 704.46 L556.4 704.25 L557.92 704.01 L559.43 703.72 L560.95 703.4 L562.47 703.03 L563.98 702.64 L565.5 702.21 L567.02 701.76 L568.53 701.28 L570.05 700.77 L571.57 700.23 L573.08 699.64 L574.6 699.01 L576.11 698.33 L577.63 697.58 L579.15 696.78 L580.66 695.92 L582.18 695 L583.7 694.03 L585.21 693.01 L586.73 691.92 L588.25 690.77 L589.76 689.55 L591.28 688.23 L592.8 686.82 L594.31 685.29 L595.83 683.65 L597.34 681.89 L598.86 680.02 L600.38 678.06 L601.89 676.01 L603.41 673.89 L604.93 671.72 L606.44 669.5 L607.96 667.22 L609.48 664.88 L610.99 662.46 L612.51 659.93 L614.03 657.28 L615.54 654.49 L617.06 651.52 L618.57 648.37 L620.09 645.02 L621.61 641.47 L623.12 637.7 L624.64 633.72 L626.16 629.51 L627.67 625.07 L629.19 620.41 L630.71 615.51 L632.22 610.39 L633.74 605.06 L635.26 599.53 L636.77 593.82 L638.29 587.96 L639.8 581.98 L641.32 575.9 L642.84 569.74 L644.35 563.52 L645.87 557.26 L647.39 550.95 L648.9 544.61 L650.42 538.26 L651.94 531.92 L653.45 525.66 L654.97 519.51 L656.48 513.58 L658 507.93 L659.52 502.67 L661.03 497.88 L662.55 493.63 L664.07 489.96 L665.58 486.9 L667.1 484.42 L668.62 482.48 L670.13 481.02 L671.65 479.96 L673.17 479.19 L674.68 478.65 L676.2 478.26 L677.71 477.96 L679.23 477.72 L680.75 477.52 L682.26 477.34 L683.78 477.2 L685.3 477.1 L686.81 477.04 L688.33 477.03 L689.85 477.08 L691.36 477.17 L692.88 477.31 L694.4 477.5 L695.91 477.77 L697.43 478.14 L698.94 478.65 L700.46 479.35 L701.98 480.31 L703.49 481.59 L705.01 483.25 L706.53 485.35 L708.04 487.95 L709.56 491.06 L711.08 494.71 L712.59 498.88 L714.11 503.56 L715.63 508.7 L717.14 514.24 L718.66 520.12 L720.17 526.26 L721.69 532.58 L723.21 539.02 L724.72 545.49 L726.24 551.96 L727.76 558.38 L729.27 564.73 L730.79 571 L732.31 577.21 L733.82 583.36 L735.34 589.48 L736.86 595.58 L738.37 601.65 L739.89 607.67 L741.4 613.62 L742.92 619.44 L744.44 625.06 L745.95 630.41 L747.47 635.43 L748.99 640.05 L750.5 644.24 L752.02 647.97 L753.54 651.27 L755.05 654.16 L756.57 656.7 L758.09 658.96 L759.6 661 L761.12 662.89" stroke="#ffa500" stroke-width="2.78"/>
<path d="M457.82 667.11 L459.35 668.83 L460.88 670.53 L462.41 672.2 L463.95 673.84 L465.48 675.42 L467.01 676.95 L468.54 678.42 L470.07 679.82 L471.6 681.16 L473.14 682.45 L474.67 683.71 L476.2 684.93 L477.73 686.11 L479.26 687.26 L480.8 688.37 L482.33 689.43 L483.86 690.45 L485.39 691.41 L486.92 692.31 L488.45 693.17 L489.99 693.98 L491.52 694.76 L493.05 695.5 L494.58 696.21 L496.11 696.9 L497.65 697.56 L499.18 698.19 L500.71 698.78 L502.24 699.33 L503.77 699.83 L505.3 700.3 L506.84 700.73 L508.37 701.13 L509.9 701.5 L511.43 701.85 L512.96 702.18 L514.5 702.5 L516.03 702.8 L517.56 703.08 L519.09 703.33 L520.62 703.55 L522.15 703.74 L523.69 703.91 L525.22 704.05 L526.75 704.17 L528.28 704.28 L529.81 704.39 L531.35 704.48 L532.88 704.58 L534.41 704.66 L535.94 704.74 L537.47 704.79 L539 704.83 L540.54 704.84 L542.07 704.83 L543.6 704.79 L545.13 704.73 L546.66 704.65 L548.2 704.56 L549.73 704.46 L551.26 704.34 L552.79 704.2 L554.32 704.03 L555.85 703.83 L557.39 703.6 L558.92 703.32 L560.45 703.01 L561.98 702.65 L563.51 702.26 L565.05 701.84 L566.58 701.39 L568.11 700.91 L569.64 700.41 L571.17 699.87 L572.7 699.29 L574.24 698.66 L575.77 697.98 L577.3 697.25 L578.83 696.45 L580.36 695.59 L581.9 694.67 L583.43 693.7 L584.96 692.67 L586.49 691.59 L588.02 690.43 L589.55 689.21 L591.09 687.89 L592.62 686.47 L594.15 684.94 L595.68 683.29 L597.21 681.52 L598.75 679.64 L600.28 677.66 L601.81 675.59 L603.34 673.45 L604.87 671.26 L606.4 669.01 L607.94 666.71 L609.47 664.34 L611 661.89 L612.53 659.33 L614.06 656.65 L615.6 653.81 L617.13 650.81 L618.66 647.61 L620.19 644.21 L621.72 640.6 L623.25 636.76 L624.79 632.71 L626.32 628.43 L627.85 623.91 L629.38 619.16 L630.91 614.17 L632.45 608.96 L633.98 603.53 L635.51 597.9 L637.04 592.09 L638.57 586.13 L640.1 580.05 L641.64 573.88 L643.17 567.63 L644.7 561.32 L646.23 554.97 L647.76 548.57 L649.3 542.14 L650.83 535.71 L652.36 529.31 L653.89 522.99 L655.42 516.82 L656.95 510.89 L658.49 505.28 L660.02 500.1 L661.55 495.43 L663.08 491.32 L664.61 487.82 L666.15 484.94 L667.68 482.64 L669.21 480.87 L670.74 479.56 L672.27 478.62 L673.8 477.95 L675.34 477.47 L676.87 477.12 L678.4 476.85 L679.93 476.62 L681.46 476.43 L683 476.27 L684.53 476.14 L686.06 476.06 L687.59 476.03 L689.12 476.05 L690.65 476.12 L692.19 476.24 L693.72 476.41 L695.25 476.65 L696.78 476.97 L698.31 477.42 L699.85 478.04 L701.38 478.9 L702.91 480.06 L704.44 481.59 L705.97 483.55 L707.5 485.99 L709.04 488.96 L710.57 492.47 L712.1 496.53 L713.63 501.11 L715.16 506.17 L716.7 511.67 L718.23 517.53 L719.76 523.69 L721.29 530.05 L722.82 536.54 L724.35 543.1 L725.89 549.65 L727.42 556.16 L728.95 562.61 L730.48 568.98 L732.01 575.28 L733.55 581.52 L735.08 587.72 L736.61 593.89 L738.14 600.04 L739.67 606.15 L741.2 612.19 L742.74 618.1 L744.27 623.82 L745.8 629.27 L747.33 634.38 L748.86 639.09 L750.4 643.36 L751.93 647.18 L753.46 650.54 L754.99 653.48 L756.52 656.06 L758.05 658.35 L759.59 660.42 L761.12 662.33 L762.65 664.15" stroke="#ff0000" stroke-width="2.78"/>
</g>
<rect x="442.5" y="437.5" width="337" height="283" fill="none" stroke="#000" stroke-width="1.11" stroke-linejoin="miter"/>
<path d="M457.5 720.5 V725.36 M519.5 720.5 V725.36 M580.5 720.5 V725.36 M641.5 720.5 V725.36 M702.5 720.5 V725.36 M764.5 720.5 V725.36 M442.5 477.5 H437.64 M442.5 522.5 H437.64 M442.5 568.5 H437.64 M442.5 613.5 H437.64 M442.5 659.5 H437.64 M442.5 704.5 H437.64" stroke="#000" stroke-width="1.11"/>
<text font-size="13.89" x="447.28" y="740.73" textLength="20.19" lengthAdjust="spacingAndGlyphs">0.0</text>
<text font-size="13.89" x="509.38" y="740.72" textLength="19.96" lengthAdjust="spacingAndGlyphs">0.2</text>
<text font-size="13.89" x="570.36" y="740.71" textLength="20.18" lengthAdjust="spacingAndGlyphs">0.4</text>
<text font-size="13.89" x="631.33" y="740.71" textLength="20.51" lengthAdjust="spacingAndGlyphs">0.6</text>
<text font-size="13.89" x="692.3" y="740.7" textLength="20.45" lengthAdjust="spacingAndGlyphs">0.8</text>
<text font-size="13.89" x="753.78" y="740.72" textLength="19.89" lengthAdjust="spacingAndGlyphs">1.0</text>
<text font-size="13.89" x="415.84" y="709.5" textLength="15.45" lengthAdjust="spacingAndGlyphs">10</text>
<text font-size="13.89" x="415.28" y="664.1" textLength="16.93" lengthAdjust="spacingAndGlyphs">20</text>
<text font-size="13.89" x="415.64" y="618.72" textLength="15.51" lengthAdjust="spacingAndGlyphs">30</text>
<text font-size="13.89" x="415.38" y="573.31" textLength="15.76" lengthAdjust="spacingAndGlyphs">40</text>
<text font-size="13.89" x="415.49" y="527.93" textLength="15.77" lengthAdjust="spacingAndGlyphs">50</text>
<text font-size="13.89" x="415.2" y="482.02" textLength="17.19" lengthAdjust="spacingAndGlyphs">60</text>
<text font-size="13.89" x="560.28" y="759.76" textLength="100.45" lengthAdjust="spacingAndGlyphs">x (normalized)</text>
<text font-size="13.89" transform="translate(405.12,623.51) rotate(-90)" textLength="89.27" lengthAdjust="spacingAndGlyphs">vx (m / year)</text>
<text font-size="17.83" x="584.4" y="428.67" textLength="51.71" lengthAdjust="spacingAndGlyphs">80 km</text>
<rect x="449.5" y="444.5" width="112" height="67" rx="2.78" fill="#fff" fill-opacity="0.8" stroke="#ccc" stroke-opacity="0.8" stroke-width="1.39"/>
<path d="M455.4 456.5 H482.63" stroke="green" stroke-width="2.78" stroke-linecap="square"/>
<path d="M455.4 477.5 H482.63" stroke="orange" stroke-width="2.78" stroke-linecap="square"/>
<path d="M455.4 498.5 H482.63" stroke="red" stroke-width="2.78" stroke-linecap="square"/>
<text font-size="13.89" x="493.15" y="460" textLength="61.57" lengthAdjust="spacingAndGlyphs">BP mean</text>
<text font-size="13.89" x="493.13" y="481.44" textLength="60.04" lengthAdjust="spacingAndGlyphs">FS mean</text>
<text font-size="13.89" x="494.25" y="502.39" textLength="31.64" lengthAdjust="spacingAndGlyphs">PISM</text>
<clipPath id="c5"><rect x="837.5" y="437.5" width="337" height="283"/></clipPath>
<g clip-path="url(#c5)" fill="none" stroke-linecap="square" stroke-linejoin="round">
<path d="M852.82 690.75 L854.36 691.75 L855.9 692.68 L857.44 693.53 L858.98 694.31 L860.52 695.03 L862.06 695.68 L863.59 696.29 L865.13 696.85 L866.67 697.38 L868.21 697.89 L869.75 698.38 L871.29 698.85 L872.83 699.28 L874.37 699.69 L875.91 700.05 L877.45 700.38 L878.99 700.68 L880.53 700.95 L882.07 701.2 L883.61 701.44 L885.15 701.68 L886.69 701.92 L888.23 702.17 L889.77 702.42 L891.31 702.67 L892.85 702.91 L894.39 703.14 L895.92 703.35 L897.46 703.54 L899 703.72 L900.54 703.88 L902.08 704.04 L903.62 704.19 L905.16 704.36 L906.7 704.53 L908.24 704.7 L909.78 704.87 L911.32 705.04 L912.86 705.19 L914.4 705.33 L915.94 705.45 L917.48 705.54 L919.02 705.63 L920.56 705.71 L922.1 705.78 L923.64 705.86 L925.18 705.94 L926.71 706.01 L928.25 706.09 L929.79 706.14 L931.33 706.18 L932.87 706.2 L934.41 706.18 L935.95 706.14 L937.49 706.07 L939.03 705.99 L940.57 705.9 L942.11 705.8 L943.65 705.7 L945.19 705.61 L946.73 705.5 L948.27 705.39 L949.81 705.26 L951.35 705.1 L952.89 704.92 L954.43 704.71 L955.97 704.49 L957.51 704.26 L959.04 704.02 L960.58 703.8 L962.12 703.58 L963.66 703.37 L965.2 703.17 L966.74 702.97 L968.28 702.75 L969.82 702.52 L971.36 702.26 L972.9 701.98 L974.44 701.67 L975.98 701.35 L977.52 701.02 L979.06 700.69 L980.6 700.36 L982.14 700.04 L983.68 699.72 L985.22 699.39 L986.76 699.04 L988.3 698.65 L989.84 698.22 L991.37 697.74 L992.91 697.22 L994.45 696.66 L995.99 696.08 L997.53 695.47 L999.07 694.86 L1000.61 694.24 L1002.15 693.6 L1003.69 692.93 L1005.23 692.22 L1006.77 691.43 L1008.31 690.57 L1009.85 689.6 L1011.39 688.54 L1012.93 687.38 L1014.47 686.14 L1016.01 684.82 L1017.55 683.43 L1019.09 681.96 L1020.63 680.38 L1022.16 678.67 L1023.7 676.76 L1025.24 674.6 L1026.78 672.12 L1028.32 669.27 L1029.86 665.99 L1031.4 662.27 L1032.94 658.1 L1034.48 653.5 L1036.02 648.51 L1037.56 643.16 L1039.1 637.5 L1040.64 631.56 L1042.18 625.34 L1043.72 618.82 L1045.26 611.96 L1046.8 604.7 L1048.34 596.99 L1049.88 588.76 L1051.42 579.97 L1052.96 570.64 L1054.49 560.79 L1056.03 550.52 L1057.57 539.97 L1059.11 529.31 L1060.65 518.75 L1062.19 508.52 L1063.73 498.82 L1065.27 489.86 L1066.81 481.78 L1068.35 474.7 L1069.89 468.66 L1071.43 463.66 L1072.97 459.65 L1074.51 456.52 L1076.05 454.15 L1077.59 452.4 L1079.13 451.15 L1080.67 450.29 L1082.21 449.73 L1083.75 449.47 L1085.29 449.5 L1086.82 449.89 L1088.36 450.74 L1089.9 452.17 L1091.44 454.31 L1092.98 457.27 L1094.52 461.15 L1096.06 466.02 L1097.6 471.89 L1099.14 478.74 L1100.68 486.5 L1102.22 495.05 L1103.76 504.26 L1105.3 513.97 L1106.84 524.03 L1108.38 534.27 L1109.92 544.55 L1111.46 554.73 L1113 564.71 L1114.54 574.39 L1116.08 583.7 L1117.61 592.57 L1119.15 600.96 L1120.69 608.83 L1122.23 616.17 L1123.77 622.97 L1125.31 629.24 L1126.85 635 L1128.39 640.29 L1129.93 645.13 L1131.47 649.57 L1133.01 653.66 L1134.55 657.43 L1136.09 660.92 L1137.63 664.14 L1139.17 667.12 L1140.71 669.86 L1142.25 672.38 L1143.79 674.68 L1145.33 676.78 L1146.87 678.68 L1148.41 680.42 L1149.94 682.01 L1151.48 683.47 L1153.02 684.82 L1154.56 686.09 L1156.1 687.29 L1157.64 688.42 L1159.18 689.49" stroke="#008000" stroke-width="1.39" stroke-opacity="0.5"/>
<path d="M852.82 693.65 L854.36 694.42 L855.9 695.13 L857.44 695.78 L858.98 696.38 L860.52 696.93 L862.06 697.45 L863.59 697.95 L865.13 698.42 L866.67 698.88 L868.21 699.31 L869.75 699.71 L871.29 700.08 L872.83 700.42 L874.37 700.72 L875.91 700.99 L877.45 701.24 L878.99 701.47 L880.53 701.7 L882.07 701.93 L883.61 702.16 L885.15 702.4 L886.69 702.64 L888.23 702.88 L889.77 703.11 L891.31 703.32 L892.85 703.52 L894.39 703.69 L895.92 703.85 L897.46 704.01 L899 704.16 L900.54 704.31 L902.08 704.47 L903.62 704.63 L905.16 704.8 L906.7 704.97 L908.24 705.13 L909.78 705.27 L911.32 705.39 L912.86 705.5 L914.4 705.59 L915.94 705.67 L917.48 705.74 L919.02 705.82 L920.56 705.89 L922.1 705.97 L923.64 706.05 L925.18 706.11 L926.71 706.16 L928.25 706.19 L929.79 706.19 L931.33 706.17 L932.87 706.11 L934.41 706.04 L935.95 705.96 L937.49 705.87 L939.03 705.77 L940.57 705.68 L942.11 705.58 L943.65 705.48 L945.19 705.36 L946.73 705.22 L948.27 705.06 L949.81 704.88 L951.35 704.67 L952.89 704.45 L954.43 704.22 L955.97 704 L957.51 703.78 L959.04 703.58 L960.58 703.38 L962.12 703.19 L963.66 702.99 L965.2 702.78 L966.74 702.55 L968.28 702.29 L969.82 702.01 L971.36 701.71 L972.9 701.4 L974.44 701.09 L975.98 700.77 L977.52 700.47 L979.06 700.16 L980.6 699.86 L982.14 699.54 L983.68 699.19 L985.22 698.81 L986.76 698.38 L988.3 697.91 L989.84 697.41 L991.37 696.87 L992.91 696.31 L994.45 695.74 L995.99 695.16 L997.53 694.57 L999.07 693.96 L1000.61 693.31 L1002.15 692.62 L1003.69 691.86 L1005.23 691.01 L1006.77 690.07 L1008.31 689.04 L1009.85 687.93 L1011.39 686.74 L1012.93 685.49 L1014.47 684.17 L1016.01 682.77 L1017.55 681.26 L1019.09 679.61 L1020.63 677.76 L1022.16 675.66 L1023.7 673.25 L1025.24 670.47 L1026.78 667.3 L1028.32 663.73 L1029.86 659.76 L1031.4 655.42 L1032.94 650.74 L1034.48 645.77 L1036.02 640.54 L1037.56 635.06 L1039.1 629.34 L1040.64 623.35 L1042.18 617.05 L1043.72 610.39 L1045.26 603.31 L1046.8 595.76 L1048.34 587.74 L1049.88 579.25 L1051.42 570.35 L1052.96 561.14 L1054.49 551.75 L1056.03 542.36 L1057.57 533.14 L1059.11 524.31 L1060.65 516.03 L1062.19 508.46 L1063.73 501.71 L1065.27 495.87 L1066.81 490.95 L1068.35 486.93 L1069.89 483.74 L1071.43 481.28 L1072.97 479.44 L1074.51 478.1 L1076.05 477.15 L1077.59 476.5 L1079.13 476.12 L1080.67 475.98 L1082.21 476.12 L1083.75 476.61 L1085.29 477.54 L1086.82 479.01 L1088.36 481.14 L1089.9 484.02 L1091.44 487.74 L1092.98 492.33 L1094.52 497.8 L1096.06 504.11 L1097.6 511.19 L1099.14 518.93 L1100.68 527.21 L1102.22 535.89 L1103.76 544.83 L1105.3 553.89 L1106.84 562.96 L1108.38 571.93 L1109.92 580.7 L1111.46 589.2 L1113 597.35 L1114.54 605.12 L1116.08 612.46 L1117.61 619.34 L1119.15 625.76 L1120.69 631.71 L1122.23 637.19 L1123.77 642.24 L1125.31 646.87 L1126.85 651.13 L1128.39 655.05 L1129.93 658.66 L1131.47 662 L1133.01 665.1 L1134.55 667.97 L1136.09 670.62 L1137.63 673.06 L1139.17 675.31 L1140.71 677.36 L1142.25 679.23 L1143.79 680.93 L1145.33 682.48 L1146.87 683.91 L1148.41 685.22 L1149.94 686.45 L1151.48 687.61 L1153.02 688.7 L1154.56 689.74 L1156.1 690.71 L1157.64 691.62 L1159.18 692.46" stroke="#008000" stroke-width="1.39" stroke-opacity="0.5"/>
<path d="M852.82 693.04 L854.36 693.87 L855.9 694.62 L857.44 695.32 L858.98 695.95 L860.52 696.54 L862.06 697.08 L863.59 697.59 L865.13 698.08 L866.67 698.55 L868.21 699 L869.75 699.42 L871.29 699.81 L872.83 700.18 L874.37 700.5 L875.91 700.8 L877.45 701.06 L878.99 701.3 L880.53 701.53 L882.07 701.76 L883.61 701.99 L885.15 702.22 L886.69 702.46 L888.23 702.7 L889.77 702.94 L891.31 703.16 L892.85 703.37 L894.39 703.56 L895.92 703.73 L897.46 703.89 L899 704.04 L900.54 704.19 L902.08 704.35 L903.62 704.51 L905.16 704.67 L906.7 704.84 L908.24 705 L909.78 705.16 L911.32 705.3 L912.86 705.42 L914.4 705.52 L915.94 705.61 L917.48 705.69 L919.02 705.76 L920.56 705.83 L922.1 705.91 L923.64 705.99 L925.18 706.06 L926.71 706.12 L928.25 706.17 L929.79 706.19 L931.33 706.19 L932.87 706.16 L934.41 706.1 L935.95 706.03 L937.49 705.94 L939.03 705.85 L940.57 705.75 L942.11 705.66 L943.65 705.56 L945.19 705.46 L946.73 705.33 L948.27 705.19 L949.81 705.03 L951.35 704.84 L952.89 704.63 L954.43 704.41 L955.97 704.18 L957.51 703.96 L959.04 703.75 L960.58 703.55 L962.12 703.35 L963.66 703.16 L965.2 702.96 L966.74 702.75 L968.28 702.51 L969.82 702.25 L971.36 701.97 L972.9 701.66 L974.44 701.35 L975.98 701.04 L977.52 700.73 L979.06 700.43 L980.6 700.12 L982.14 699.82 L983.68 699.49 L985.22 699.14 L986.76 698.75 L988.3 698.32 L989.84 697.85 L991.37 697.33 L992.91 696.79 L994.45 696.23 L995.99 695.66 L997.53 695.08 L999.07 694.5 L1000.61 693.88 L1002.15 693.24 L1003.69 692.53 L1005.23 691.76 L1006.77 690.9 L1008.31 689.95 L1009.85 688.91 L1011.39 687.79 L1012.93 686.6 L1014.47 685.34 L1016.01 684.01 L1017.55 682.6 L1019.09 681.08 L1020.63 679.4 L1022.16 677.52 L1023.7 675.38 L1025.24 672.91 L1026.78 670.08 L1028.32 666.86 L1029.86 663.23 L1031.4 659.22 L1032.94 654.84 L1034.48 650.14 L1036.02 645.16 L1037.56 639.93 L1039.1 634.46 L1040.64 628.74 L1042.18 622.75 L1043.72 616.45 L1045.26 609.77 L1046.8 602.68 L1048.34 595.12 L1049.88 587.08 L1051.42 578.6 L1052.96 569.73 L1054.49 560.58 L1056.03 551.29 L1057.57 542.03 L1059.11 532.99 L1060.65 524.36 L1062.19 516.32 L1063.73 509 L1065.27 502.52 L1066.81 496.94 L1068.35 492.27 L1069.89 488.47 L1071.43 485.48 L1072.97 483.19 L1074.51 481.48 L1076.05 480.25 L1077.59 479.37 L1079.13 478.79 L1080.67 478.46 L1082.21 478.38 L1083.75 478.59 L1085.29 479.15 L1086.82 480.16 L1088.36 481.73 L1089.9 483.98 L1091.44 486.99 L1092.98 490.83 L1094.52 495.54 L1096.06 501.12 L1097.6 507.51 L1099.14 514.64 L1100.68 522.4 L1102.22 530.66 L1103.76 539.3 L1105.3 548.17 L1106.84 557.14 L1108.38 566.09 L1109.92 574.92 L1111.46 583.54 L1113 591.88 L1114.54 599.87 L1116.08 607.47 L1117.61 614.64 L1119.15 621.36 L1120.69 627.62 L1122.23 633.42 L1123.77 638.76 L1125.31 643.67 L1126.85 648.18 L1128.39 652.33 L1129.93 656.15 L1131.47 659.68 L1133.01 662.94 L1134.55 665.96 L1136.09 668.76 L1137.63 671.35 L1139.17 673.73 L1140.71 675.92 L1142.25 677.92 L1143.79 679.74 L1145.33 681.39 L1146.87 682.91 L1148.41 684.3 L1149.94 685.59 L1151.48 686.8 L1153.02 687.93 L1154.56 689 L1156.1 690.02 L1157.64 690.97 L1159.18 691.87" stroke="#008000" stroke-width="1.39" stroke-opacity="0.5"/>
<path d="M852.82 693.65 L860.48 696.92 L868.14 699.3 L875.8 700.97 L883.45 702.15 L891.11 703.31 L898.77 704.15 L906.43 704.97 L914.09 705.59 L921.75 705.97 L929.41 706.19 L937.07 705.87 L944.73 705.37 L952.39 704.47 L960.05 703.39 L967.7 702.31 L975.36 700.78 L983.02 699.2 L990.68 696.9 L998.34 693.98 L1006 690.15 L1013.66 684.29 L1021.32 675.96 L1028.98 660.49 L1036.64 635.89 L1044.3 604.12 L1051.95 561.81 L1059.61 514.87 L1067.27 482.72 L1074.93 471.08 L1082.59 469.72 L1090.25 479.25 L1097.91 508.99 L1105.57 553.52 L1113.23 597.67 L1120.89 632.03 L1128.55 655.23 L1136.2 670.73 L1143.86 680.95 L1151.52 687.61 L1159.18 692.45" stroke="#ffa500" stroke-width="1.39" stroke-opacity="0.5"/>
<path d="M852.82 692.58 L854.36 693.44 L855.9 694.23 L857.44 694.96 L858.98 695.63 L860.52 696.24 L862.06 696.8 L863.59 697.33 L865.13 697.82 L866.67 698.3 L868.21 698.75 L869.75 699.19 L871.29 699.6 L872.83 699.98 L874.37 700.33 L875.91 700.64 L877.45 700.92 L878.99 701.18 L880.53 701.41 L882.07 701.64 L883.61 701.86 L885.15 702.08 L886.69 702.32 L888.23 702.55 L889.77 702.79 L891.31 703.02 L892.85 703.24 L894.39 703.44 L895.92 703.62 L897.46 703.79 L899 703.95 L900.54 704.1 L902.08 704.24 L903.62 704.4 L905.16 704.56 L906.7 704.72 L908.24 704.89 L909.78 705.05 L911.32 705.2 L912.86 705.33 L914.4 705.45 L915.94 705.55 L917.48 705.63 L919.02 705.71 L920.56 705.78 L922.1 705.85 L923.64 705.93 L925.18 706 L926.71 706.07 L928.25 706.14 L929.79 706.18 L931.33 706.2 L932.87 706.19 L934.41 706.15 L935.95 706.09 L937.49 706.01 L939.03 705.92 L940.57 705.83 L942.11 705.74 L943.65 705.64 L945.19 705.55 L946.73 705.44 L948.27 705.31 L949.81 705.17 L951.35 705 L952.89 704.81 L954.43 704.6 L955.97 704.38 L957.51 704.16 L959.04 703.94 L960.58 703.73 L962.12 703.54 L963.66 703.34 L965.2 703.15 L966.74 702.96 L968.28 702.74 L969.82 702.5 L971.36 702.24 L972.9 701.96 L974.44 701.66 L975.98 701.35 L977.52 701.04 L979.06 700.74 L980.6 700.44 L982.14 700.15 L983.68 699.84 L985.22 699.52 L986.76 699.17 L988.3 698.78 L989.84 698.35 L991.37 697.87 L992.91 697.36 L994.45 696.83 L995.99 696.28 L997.53 695.72 L999.07 695.15 L1000.61 694.57 L1002.15 693.97 L1003.69 693.32 L1005.23 692.62 L1006.77 691.85 L1008.31 690.99 L1009.85 690.05 L1011.39 689.02 L1012.93 687.91 L1014.47 686.73 L1016.01 685.49 L1017.55 684.18 L1019.09 682.79 L1020.63 681.28 L1022.16 679.62 L1023.7 677.74 L1025.24 675.6 L1026.78 673.13 L1028.32 670.31 L1029.86 667.11 L1031.4 663.52 L1032.94 659.56 L1034.48 655.26 L1036.02 650.66 L1037.56 645.8 L1039.1 640.71 L1040.64 635.39 L1042.18 629.83 L1043.72 624.01 L1045.26 617.88 L1046.8 611.39 L1048.34 604.49 L1049.88 597.15 L1051.42 589.36 L1052.96 581.16 L1054.49 572.61 L1056.03 563.83 L1057.57 554.95 L1059.11 546.14 L1060.65 537.59 L1062.19 529.47 L1063.73 521.94 L1065.27 515.14 L1066.81 509.15 L1068.35 504.02 L1069.89 499.75 L1071.43 496.31 L1072.97 493.61 L1074.51 491.56 L1076.05 490.03 L1077.59 488.94 L1079.13 488.17 L1080.67 487.67 L1082.21 487.41 L1083.75 487.38 L1085.29 487.63 L1086.82 488.25 L1088.36 489.31 L1089.9 490.92 L1091.44 493.2 L1092.98 496.22 L1094.52 500.03 L1096.06 504.68 L1097.6 510.14 L1099.14 516.37 L1100.68 523.29 L1102.22 530.78 L1103.76 538.74 L1105.3 547.03 L1106.84 555.52 L1108.38 564.09 L1109.92 572.63 L1111.46 581.04 L1113 589.25 L1114.54 597.17 L1116.08 604.76 L1117.61 611.98 L1119.15 618.78 L1120.69 625.15 L1122.23 631.08 L1123.77 636.57 L1125.31 641.63 L1126.85 646.29 L1128.39 650.57 L1129.93 654.51 L1131.47 658.14 L1133.01 661.5 L1134.55 664.61 L1136.09 667.49 L1137.63 670.17 L1139.17 672.64 L1140.71 674.91 L1142.25 677 L1143.79 678.9 L1145.33 680.64 L1146.87 682.22 L1148.41 683.67 L1149.94 685 L1151.48 686.24 L1153.02 687.4 L1154.56 688.5 L1156.1 689.53 L1157.64 690.51 L1159.18 691.43" stroke="#ffa500" stroke-width="1.39" stroke-opacity="0.5"/>
<path d="M852.82 693.03 L860.48 696.51 L868.14 698.97 L875.8 700.77 L883.45 701.96 L891.11 703.13 L898.77 704.02 L906.43 704.81 L914.09 705.5 L921.75 705.89 L929.41 706.19 L937.07 705.96 L944.73 705.49 L952.39 704.7 L960.05 703.61 L967.7 702.6 L975.36 701.16 L983.02 699.63 L990.68 697.56 L998.34 694.77 L1006 691.32 L1013.66 685.98 L1021.32 678.55 L1028.98 665.31 L1036.64 643 L1044.3 613.84 L1051.95 575.29 L1059.61 529.77 L1067.27 494.99 L1074.93 480.61 L1082.59 477.91 L1090.25 484.11 L1097.91 508.46 L1105.57 549.42 L1113.23 592.9 L1120.89 628.25 L1128.55 652.65 L1136.2 668.91 L1143.86 679.79 L1151.52 686.8 L1159.18 691.85" stroke="#008000" stroke-width="1.39" stroke-opacity="0.5"/>
<path d="M852.82 693.28 L868.14 699.08 L883.45 702.02 L898.77 704.04 L914.09 705.51 L929.41 706.19 L944.73 705.49 L960.05 703.64 L975.36 701.23 L990.68 697.71 L1006 691.62 L1021.32 679.21 L1036.64 644.92 L1051.95 586 L1067.27 534.6 L1082.59 521.2 L1097.91 534.6 L1113.23 597 L1128.55 654.2 L1143.86 680.41 L1159.18 692.13" stroke="#008000" stroke-width="1.39" stroke-opacity="0.5"/>
<path d="M852.82 693.78 L868.14 699.58 L883.45 702.52 L898.77 704.54 L914.09 706.01 L929.41 706.69 L944.73 705.99 L960.05 704.14 L975.36 701.73 L990.68 698.21 L1006 692.12 L1021.32 679.71 L1036.64 645.42 L1051.95 586.5 L1067.27 535.6 L1082.59 522 L1097.91 535.6 L1113.23 597.5 L1128.55 654.7 L1143.86 680.91 L1159.18 692.63" stroke="#ffa500" stroke-width="1.39" stroke-opacity="0.5"/>
<path d="M856.65 695.06 L858.15 695.7 L859.65 696.29 L861.15 696.84 L862.65 697.35 L864.15 697.84 L865.65 698.3 L867.15 698.75 L868.66 699.17 L870.16 699.57 L871.66 699.95 L873.16 700.29 L874.66 700.6 L876.16 700.88 L877.66 701.13 L879.16 701.36 L880.66 701.58 L882.17 701.8 L883.67 702.02 L885.17 702.25 L886.67 702.48 L888.17 702.71 L889.67 702.94 L891.17 703.16 L892.67 703.36 L894.17 703.55 L895.67 703.72 L897.18 703.88 L898.68 704.02 L900.18 704.17 L901.68 704.32 L903.18 704.47 L904.68 704.63 L906.18 704.79 L907.68 704.95 L909.18 705.11 L910.68 705.25 L912.19 705.37 L913.69 705.48 L915.19 705.57 L916.69 705.65 L918.19 705.72 L919.69 705.79 L921.19 705.87 L922.69 705.94 L924.19 706.01 L925.7 706.08 L927.2 706.14 L928.7 706.18 L930.2 706.2 L931.7 706.18 L933.2 706.15 L934.7 706.09 L936.2 706.01 L937.7 705.93 L939.2 705.84 L940.71 705.75 L942.21 705.65 L943.71 705.56 L945.21 705.46 L946.71 705.34 L948.21 705.2 L949.71 705.04 L951.21 704.86 L952.71 704.66 L954.21 704.45 L955.72 704.23 L957.22 704.01 L958.72 703.81 L960.22 703.61 L961.72 703.42 L963.22 703.23 L964.72 703.04 L966.22 702.84 L967.72 702.62 L969.22 702.38 L970.73 702.11 L972.23 701.83 L973.73 701.53 L975.23 701.22 L976.73 700.92 L978.23 700.63 L979.73 700.33 L981.23 700.04 L982.73 699.74 L984.24 699.42 L985.74 699.07 L987.24 698.68 L988.74 698.25 L990.24 697.78 L991.74 697.28 L993.24 696.75 L994.74 696.21 L996.24 695.66 L997.74 695.1 L999.25 694.53 L1000.75 693.93 L1002.25 693.31 L1003.75 692.63 L1005.25 691.88 L1006.75 691.05 L1008.25 690.13 L1009.75 689.14 L1011.25 688.06 L1012.75 686.92 L1014.26 685.72 L1015.76 684.45 L1017.26 683.11 L1018.76 681.67 L1020.26 680.1 L1021.76 678.34 L1023.26 676.36 L1024.76 674.08 L1026.26 671.48 L1027.76 668.52 L1029.27 665.18 L1030.77 661.48 L1032.27 657.43 L1033.77 653.06 L1035.27 648.41 L1036.77 643.51 L1038.27 638.39 L1039.77 633.05 L1041.27 627.47 L1042.78 621.63 L1044.28 615.48 L1045.78 608.96 L1047.28 602.04 L1048.78 594.69 L1050.28 586.9 L1051.78 578.7 L1053.28 570.17 L1054.78 561.41 L1056.28 552.54 L1057.79 543.74 L1059.29 535.18 L1060.79 527.01 L1062.29 519.4 L1063.79 512.48 L1065.29 506.34 L1066.79 501.03 L1068.29 496.57 L1069.79 492.92 L1071.29 490.02 L1072.8 487.78 L1074.3 486.09 L1075.8 484.86 L1077.3 483.98 L1078.8 483.37 L1080.3 483.01 L1081.8 482.87 L1083.3 482.98 L1084.8 483.4 L1086.3 484.21 L1087.81 485.51 L1089.31 487.4 L1090.81 489.96 L1092.31 493.27 L1093.81 497.37 L1095.31 502.29 L1096.81 507.98 L1098.31 514.41 L1099.81 521.48 L1101.32 529.08 L1102.82 537.11 L1104.32 545.43 L1105.82 553.93 L1107.32 562.48 L1108.82 570.99 L1110.32 579.37 L1111.82 587.53 L1113.32 595.42 L1114.82 602.98 L1116.33 610.18 L1117.83 616.97 L1119.33 623.34 L1120.83 629.28 L1122.33 634.79 L1123.83 639.88 L1125.33 644.58 L1126.83 648.9 L1128.33 652.89 L1129.83 656.56 L1131.34 659.96 L1132.84 663.12 L1134.34 666.05 L1135.84 668.77 L1137.34 671.29 L1138.84 673.61 L1140.34 675.76 L1141.84 677.72 L1143.34 679.52 L1144.85 681.16 L1146.35 682.66 L1147.85 684.03 L1149.35 685.31 L1150.85 686.5 L1152.35 687.62 L1153.85 688.68 L1155.35 689.69" stroke="#008000" stroke-width="2.78"/>
<path d="M854.35 693.73 L855.87 694.49 L857.38 695.19 L858.9 695.83 L860.42 696.41 L861.93 696.95 L863.45 697.46 L864.96 697.95 L866.48 698.41 L868 698.85 L869.51 699.28 L871.03 699.68 L872.55 700.04 L874.06 700.38 L875.58 700.69 L877.1 700.96 L878.61 701.21 L880.13 701.44 L881.65 701.66 L883.16 701.88 L884.68 702.1 L886.19 702.33 L887.71 702.56 L889.23 702.8 L890.74 703.02 L892.26 703.24 L893.78 703.44 L895.29 703.62 L896.81 703.78 L898.33 703.94 L899.84 704.08 L901.36 704.23 L902.88 704.38 L904.39 704.54 L905.91 704.7 L907.42 704.86 L908.94 705.02 L910.46 705.17 L911.97 705.31 L913.49 705.43 L915.01 705.53 L916.52 705.61 L918.04 705.69 L919.56 705.76 L921.07 705.83 L922.59 705.91 L924.11 705.98 L925.62 706.05 L927.14 706.12 L928.65 706.17 L930.17 706.19 L931.69 706.19 L933.2 706.17 L934.72 706.11 L936.24 706.04 L937.75 705.96 L939.27 705.87 L940.79 705.78 L942.3 705.69 L943.82 705.59 L945.34 705.49 L946.85 705.38 L948.37 705.25 L949.88 705.1 L951.4 704.92 L952.92 704.72 L954.43 704.51 L955.95 704.29 L957.47 704.07 L958.98 703.86 L960.5 703.66 L962.02 703.47 L963.53 703.28 L965.05 703.09 L966.57 702.89 L968.08 702.68 L969.6 702.44 L971.11 702.17 L972.63 701.89 L974.15 701.59 L975.66 701.29 L977.18 700.98 L978.7 700.68 L980.21 700.39 L981.73 700.1 L983.25 699.8 L984.76 699.47 L986.28 699.12 L987.8 698.74 L989.31 698.31 L990.83 697.84 L992.34 697.33 L993.86 696.81 L995.38 696.26 L996.89 695.71 L998.41 695.15 L999.93 694.58 L1001.44 693.98 L1002.96 693.35 L1004.48 692.66 L1005.99 691.91 L1007.51 691.07 L1009.03 690.15 L1010.54 689.14 L1012.06 688.06 L1013.57 686.91 L1015.09 685.69 L1016.61 684.42 L1018.12 683.06 L1019.64 681.6 L1021.16 680 L1022.67 678.21 L1024.19 676.17 L1025.71 673.83 L1027.22 671.16 L1028.74 668.11 L1030.26 664.69 L1031.77 660.9 L1033.29 656.77 L1034.8 652.34 L1036.32 647.63 L1037.84 642.68 L1039.35 637.52 L1040.87 632.13 L1042.39 626.5 L1043.9 620.58 L1045.42 614.34 L1046.94 607.73 L1048.45 600.69 L1049.97 593.22 L1051.48 585.32 L1053 577.04 L1054.52 568.46 L1056.03 559.7 L1057.55 550.92 L1059.07 542.27 L1060.58 533.94 L1062.1 526.08 L1063.62 518.85 L1065.13 512.35 L1066.65 506.67 L1068.17 501.84 L1069.68 497.84 L1071.2 494.62 L1072.71 492.11 L1074.23 490.21 L1075.75 488.8 L1077.26 487.78 L1078.78 487.07 L1080.3 486.62 L1081.81 486.39 L1083.33 486.4 L1084.85 486.69 L1086.36 487.34 L1087.88 488.43 L1089.4 490.08 L1090.91 492.38 L1092.43 495.4 L1093.94 499.21 L1095.46 503.82 L1096.98 509.24 L1098.49 515.4 L1100.01 522.23 L1101.53 529.63 L1103.04 537.49 L1104.56 545.68 L1106.08 554.07 L1107.59 562.56 L1109.11 571.02 L1110.63 579.37 L1112.14 587.53 L1113.66 595.42 L1115.17 603 L1116.69 610.21 L1118.21 617.03 L1119.72 623.43 L1121.24 629.4 L1122.76 634.94 L1124.27 640.06 L1125.79 644.78 L1127.31 649.12 L1128.82 653.12 L1130.34 656.81 L1131.86 660.22 L1133.37 663.38 L1134.89 666.31 L1136.4 669.03 L1137.92 671.55 L1139.44 673.88 L1140.95 676.02 L1142.47 677.98 L1143.99 679.78 L1145.5 681.41 L1147.02 682.9 L1148.54 684.28 L1150.05 685.55 L1151.57 686.73 L1153.09 687.85 L1154.6 688.9 L1156.12 689.9" stroke="#ffa500" stroke-width="2.78"/>
<path d="M852.82 693.28 L854.35 694.08 L855.88 694.82 L857.41 695.5 L858.95 696.11 L860.48 696.68 L862.01 697.21 L863.54 697.71 L865.07 698.19 L866.6 698.65 L868.14 699.08 L869.67 699.5 L871.2 699.88 L872.73 700.24 L874.26 700.56 L875.8 700.85 L877.33 701.11 L878.86 701.35 L880.39 701.58 L881.92 701.8 L883.45 702.02 L884.99 702.25 L886.52 702.48 L888.05 702.72 L889.58 702.95 L891.11 703.17 L892.65 703.38 L894.18 703.57 L895.71 703.74 L897.24 703.9 L898.77 704.04 L900.3 704.19 L901.84 704.34 L903.37 704.5 L904.9 704.66 L906.43 704.82 L907.96 704.99 L909.5 705.14 L911.03 705.28 L912.56 705.4 L914.09 705.51 L915.62 705.6 L917.15 705.67 L918.69 705.75 L920.22 705.82 L921.75 705.89 L923.28 705.97 L924.81 706.04 L926.35 706.11 L927.88 706.16 L929.41 706.19 L930.94 706.19 L932.47 706.17 L934 706.12 L935.54 706.05 L937.07 705.97 L938.6 705.88 L940.13 705.78 L941.66 705.69 L943.2 705.6 L944.73 705.49 L946.26 705.38 L947.79 705.25 L949.32 705.09 L950.85 704.91 L952.39 704.71 L953.92 704.5 L955.45 704.28 L956.98 704.06 L958.51 703.85 L960.05 703.64 L961.58 703.45 L963.11 703.26 L964.64 703.07 L966.17 702.87 L967.7 702.65 L969.24 702.4 L970.77 702.13 L972.3 701.84 L973.83 701.54 L975.36 701.23 L976.9 700.93 L978.43 700.63 L979.96 700.34 L981.49 700.04 L983.02 699.73 L984.55 699.4 L986.09 699.04 L987.62 698.64 L989.15 698.19 L990.68 697.71 L992.21 697.19 L993.75 696.65 L995.28 696.1 L996.81 695.54 L998.34 694.98 L999.87 694.39 L1001.4 693.78 L1002.94 693.13 L1004.47 692.41 L1006 691.62 L1007.53 690.74 L1009.06 689.78 L1010.6 688.73 L1012.13 687.61 L1013.66 686.42 L1015.19 685.17 L1016.72 683.85 L1018.25 682.45 L1019.79 680.91 L1021.32 679.21 L1022.85 677.29 L1024.38 675.09 L1025.91 672.56 L1027.45 669.67 L1028.98 666.4 L1030.51 662.75 L1032.04 658.75 L1033.57 654.41 L1035.1 649.79 L1036.64 644.92 L1038.17 639.81 L1039.7 634.49 L1041.23 628.93 L1042.76 623.1 L1044.3 616.95 L1045.83 610.45 L1047.36 603.53 L1048.89 596.17 L1050.42 588.37 L1051.95 580.18 L1053.49 571.65 L1055.02 562.91 L1056.55 554.1 L1058.08 545.38 L1059.61 536.94 L1061.15 528.94 L1062.68 521.55 L1064.21 514.88 L1065.74 509.03 L1067.27 504.02 L1068.8 499.87 L1070.34 496.52 L1071.87 493.9 L1073.4 491.91 L1074.93 490.44 L1076.46 489.37 L1078 488.63 L1079.53 488.15 L1081.06 487.9 L1082.59 487.88 L1084.12 488.15 L1085.65 488.77 L1087.19 489.84 L1088.72 491.46 L1090.25 493.74 L1091.78 496.74 L1093.31 500.54 L1094.85 505.16 L1096.38 510.58 L1097.91 516.76 L1099.44 523.62 L1100.97 531.05 L1102.5 538.94 L1104.04 547.16 L1105.57 555.58 L1107.1 564.09 L1108.63 572.56 L1110.16 580.92 L1111.7 589.07 L1113.23 596.95 L1114.76 604.51 L1116.29 611.69 L1117.82 618.47 L1119.35 624.83 L1120.89 630.75 L1122.42 636.24 L1123.95 641.3 L1125.48 645.96 L1127.01 650.25 L1128.55 654.2 L1130.08 657.83 L1131.61 661.2 L1133.14 664.31 L1134.67 667.2 L1136.2 669.88 L1137.74 672.36 L1139.27 674.65 L1140.8 676.74 L1142.33 678.66 L1143.86 680.41 L1145.4 682.01 L1146.93 683.47 L1148.46 684.81 L1149.99 686.05 L1151.52 687.22 L1153.05 688.32 L1154.59 689.36 L1156.12 690.34 L1157.65 691.27" stroke="#ff0000" stroke-width="2.78"/>
</g>
<rect x="837.5" y="437.5" width="337" height="283" fill="none" stroke="#000" stroke-width="1.11" stroke-linejoin="miter"/>
<path d="M852.5 720.5 V725.36 M914.5 720.5 V725.36 M975.5 720.5 V725.36 M1036.5 720.5 V725.36 M1097.5 720.5 V725.36 M1159.5 720.5 V725.36 M837.5 462.5 H832.64 M837.5 494.5 H832.64 M837.5 527.5 H832.64 M837.5 559.5 H832.64 M837.5 591.5 H832.64 M837.5 623.5 H832.64 M837.5 656.5 H832.64 M837.5 688.5 H832.64" stroke="#000" stroke-width="1.11"/>
<text font-size="13.89" x="842.28" y="740.73" textLength="20.19" lengthAdjust="spacingAndGlyphs">0.0</text>
<text font-size="13.89" x="904.38" y="740.72" textLength="19.96" lengthAdjust="spacingAndGlyphs">0.2</text>
<text font-size="13.89" x="965.36" y="740.71" textLength="20.18" lengthAdjust="spacingAndGlyphs">0.4</text>
<text font-size="13.89" x="1026.33" y="740.71" textLength="20.51" lengthAdjust="spacingAndGlyphs">0.6</text>
<text font-size="13.89" x="1087.3" y="740.7" textLength="20.45" lengthAdjust="spacingAndGlyphs">0.8</text>
<text font-size="13.89" x="1148.78" y="740.72" textLength="19.89" lengthAdjust="spacingAndGlyphs">1.0</text>
<text font-size="13.89" x="810.28" y="693.5" textLength="16.93" lengthAdjust="spacingAndGlyphs">20</text>
<text font-size="13.89" x="810.38" y="661.23" textLength="15.76" lengthAdjust="spacingAndGlyphs">40</text>
<text font-size="13.89" x="810.2" y="628.95" textLength="17.19" lengthAdjust="spacingAndGlyphs">60</text>
<text font-size="13.89" x="810.35" y="596.66" textLength="17.09" lengthAdjust="spacingAndGlyphs">80</text>
<text font-size="13.89" x="801.5" y="564.36" textLength="24.78" lengthAdjust="spacingAndGlyphs">100</text>
<text font-size="13.89" x="801.5" y="532.07" textLength="24.78" lengthAdjust="spacingAndGlyphs">120</text>
<text font-size="13.89" x="801.5" y="499.79" textLength="24.78" lengthAdjust="spacingAndGlyphs">140</text>
<text font-size="13.89" x="801.73" y="467.5" textLength="24.52" lengthAdjust="spacingAndGlyphs">160</text>
<text font-size="13.89" x="955.28" y="759.76" textLength="100.45" lengthAdjust="spacingAndGlyphs">x (normalized)</text>
<text font-size="13.89" transform="translate(791.48,623.38) rotate(-90)" textLength="89.75" lengthAdjust="spacingAndGlyphs">vx (m / year)</text>
<text font-size="17.83" x="974.36" y="428.67" textLength="62.33" lengthAdjust="spacingAndGlyphs">160 km</text>
<rect x="844.5" y="444.5" width="112" height="67" rx="2.78" fill="#fff" fill-opacity="0.8" stroke="#ccc" stroke-opacity="0.8" stroke-width="1.39"/>
<path d="M850.4 456.5 H877.63" stroke="green" stroke-width="2.78" stroke-linecap="square"/>
<path d="M850.4 477.5 H877.63" stroke="orange" stroke-width="2.78" stroke-linecap="square"/>
<path d="M850.4 498.5 H877.63" stroke="red" stroke-width="2.78" stroke-linecap="square"/>
<text font-size="13.89" x="888.15" y="460" textLength="61.57" lengthAdjust="spacingAndGlyphs">BP mean</text>
<text font-size="13.89" x="888.13" y="481.44" textLength="60.04" lengthAdjust="spacingAndGlyphs">FS mean</text>
<text font-size="13.89" x="889.25" y="502.39" textLength="31.64" lengthAdjust="spacingAndGlyphs">PISM</text>
</svg></body></html>
